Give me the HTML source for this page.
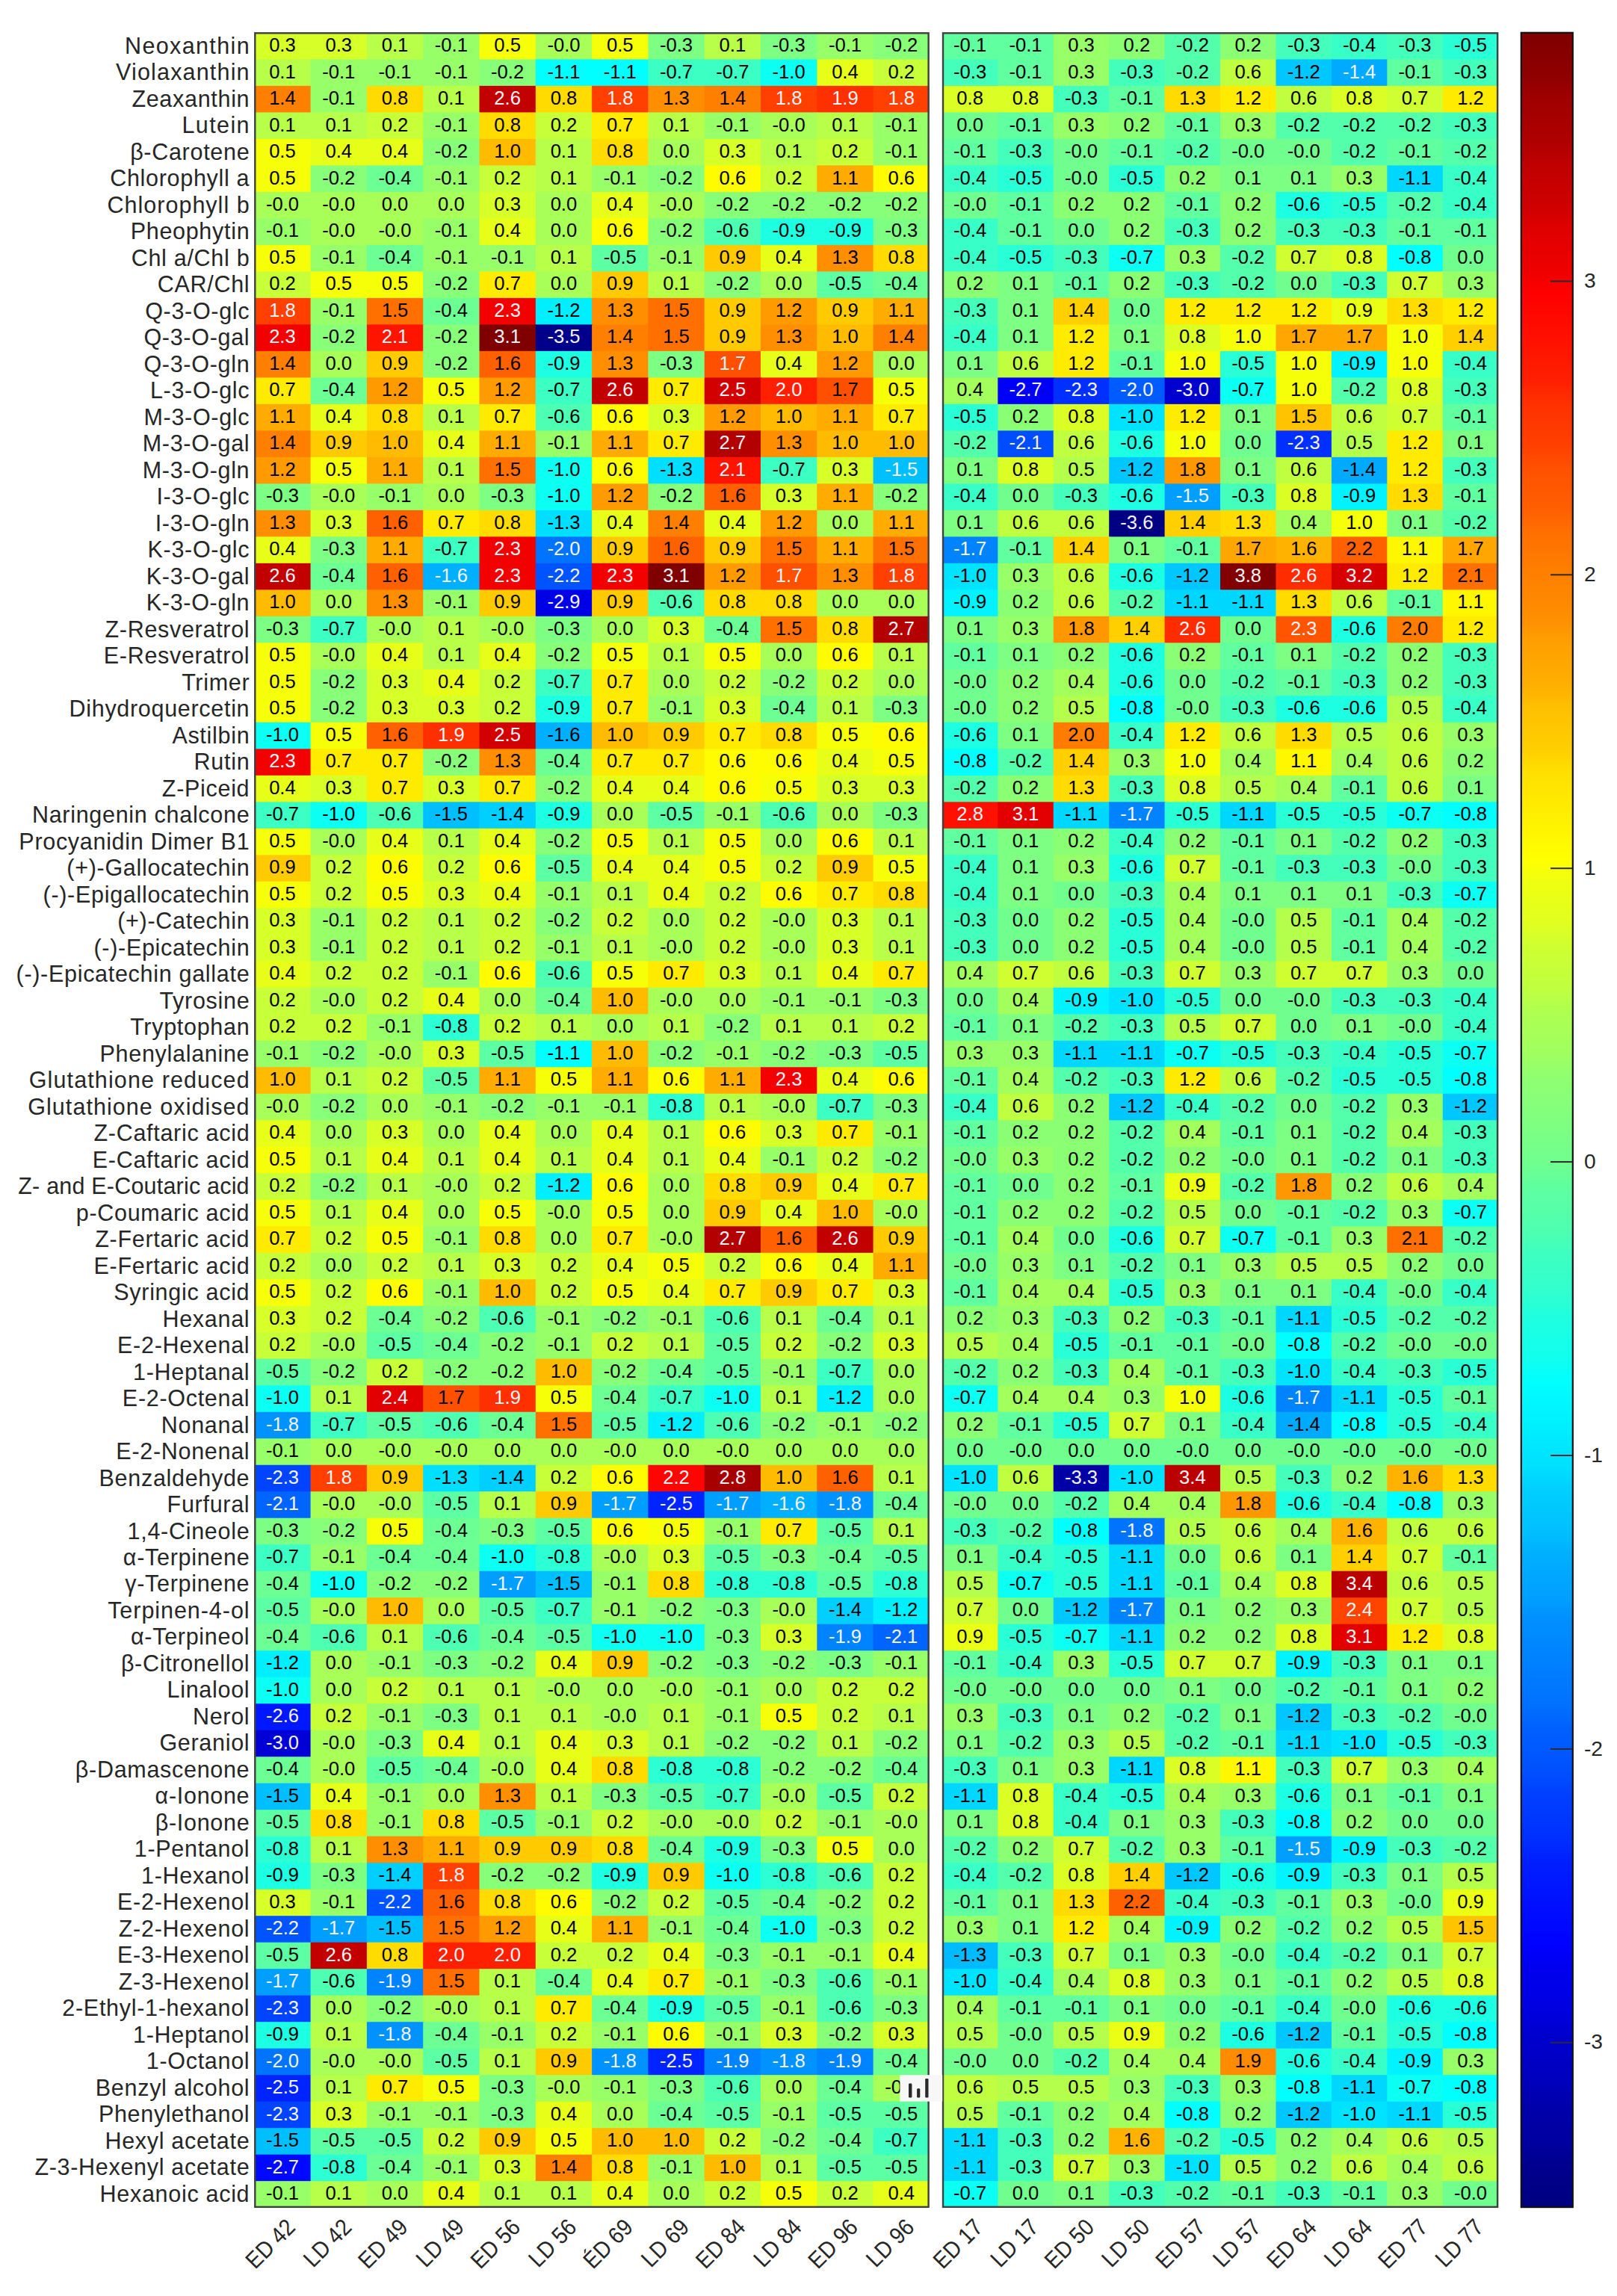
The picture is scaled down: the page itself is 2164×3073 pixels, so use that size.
<!DOCTYPE html>
<html lang="en"><head><meta charset="utf-8"><title>Heatmap</title>
<style>
html,body{margin:0;padding:0;background:#fff}
svg{display:block}
text{font-family:"Liberation Sans",sans-serif}
.c text{font-size:25.6px;text-anchor:middle;fill:#000}
.c text.w{fill:#f4f4f8}
.yl text{font-size:30.5px;text-anchor:end;fill:#262626;letter-spacing:0.7px}
.xl text{font-size:31.3px;text-anchor:end;fill:#262626}
.tl text{font-size:28.2px;fill:#262626}
</style></head>
<body>
<svg width="2164" height="3073" viewBox="0 0 2164 3073">
<rect width="2164" height="3073" fill="#fff"/>
<defs><clipPath id="cl"><rect x="340.3" y="43.9" width="903.3" height="2910.75"/><rect x="1260.9" y="43.9" width="744.3" height="2910.75"/></clipPath></defs>
<g clip-path="url(#cl)">
<g transform="translate(0,43.9)"><rect x="340.3" width="76.5" height="36.7" fill="#d7ff28"/><rect x="415.6" width="76.5" height="36.7" fill="#d7ff28"/><rect x="490.9" width="76.5" height="36.7" fill="#b7ff48"/><rect x="566.2" width="76.5" height="36.7" fill="#97ff68"/><rect x="641.5" width="76.5" height="36.7" fill="#f7ff08"/><rect x="716.8" width="76.5" height="36.7" fill="#a7ff58"/><rect x="792.1" width="76.5" height="36.7" fill="#f7ff08"/><rect x="867.4" width="76.5" height="36.7" fill="#7cff83"/><rect x="942.7" width="76.5" height="36.7" fill="#b7ff48"/><rect x="1018" width="76.5" height="36.7" fill="#7cff83"/><rect x="1093.3" width="76.5" height="36.7" fill="#97ff68"/><rect x="1168.6" width="76.5" height="36.7" fill="#87ff78"/><rect x="1260.9" width="75.63" height="36.7" fill="#60ff9f"/><rect x="1335.33" width="75.63" height="36.7" fill="#60ff9f"/><rect x="1409.76" width="75.63" height="36.7" fill="#97ff68"/><rect x="1484.19" width="75.63" height="36.7" fill="#8bff74"/><rect x="1558.62" width="75.63" height="36.7" fill="#54ffab"/><rect x="1633.05" width="75.63" height="36.7" fill="#8bff74"/><rect x="1707.48" width="75.63" height="36.7" fill="#44ffbb"/><rect x="1781.91" width="75.63" height="36.7" fill="#38ffc7"/><rect x="1856.34" width="75.63" height="36.7" fill="#44ffbb"/><rect x="1930.77" width="75.63" height="36.7" fill="#28ffd7"/></g>
<g transform="translate(0,79.4)"><rect x="340.3" width="76.5" height="36.7" fill="#b7ff48"/><rect x="415.6" width="76.5" height="36.7" fill="#97ff68"/><rect x="490.9" width="76.5" height="36.7" fill="#97ff68"/><rect x="566.2" width="76.5" height="36.7" fill="#97ff68"/><rect x="641.5" width="76.5" height="36.7" fill="#87ff78"/><rect x="716.8" width="76.5" height="36.7" fill="#00ffff"/><rect x="792.1" width="76.5" height="36.7" fill="#00ffff"/><rect x="867.4" width="76.5" height="36.7" fill="#3cffc3"/><rect x="942.7" width="76.5" height="36.7" fill="#3cffc3"/><rect x="1018" width="76.5" height="36.7" fill="#0cfff3"/><rect x="1093.3" width="76.5" height="36.7" fill="#e7ff18"/><rect x="1168.6" width="76.5" height="36.7" fill="#c7ff38"/><rect x="1260.9" width="75.63" height="36.7" fill="#44ffbb"/><rect x="1335.33" width="75.63" height="36.7" fill="#60ff9f"/><rect x="1409.76" width="75.63" height="36.7" fill="#97ff68"/><rect x="1484.19" width="75.63" height="36.7" fill="#44ffbb"/><rect x="1558.62" width="75.63" height="36.7" fill="#54ffab"/><rect x="1633.05" width="75.63" height="36.7" fill="#bfff40"/><rect x="1707.48" width="75.63" height="36.7" fill="#00c7ff"/><rect x="1781.91" width="75.63" height="36.7" fill="#00abff"/><rect x="1856.34" width="75.63" height="36.7" fill="#60ff9f"/><rect x="1930.77" width="75.63" height="36.7" fill="#44ffbb"/></g>
<g transform="translate(0,114.89)"><rect x="340.3" width="76.5" height="36.7" fill="#ff8000"/><rect x="415.6" width="76.5" height="36.7" fill="#97ff68"/><rect x="490.9" width="76.5" height="36.7" fill="#ffdb00"/><rect x="566.2" width="76.5" height="36.7" fill="#b7ff48"/><rect x="641.5" width="76.5" height="36.7" fill="#c30000"/><rect x="716.8" width="76.5" height="36.7" fill="#ffdb00"/><rect x="792.1" width="76.5" height="36.7" fill="#ff4000"/><rect x="867.4" width="76.5" height="36.7" fill="#ff8f00"/><rect x="942.7" width="76.5" height="36.7" fill="#ff8000"/><rect x="1018" width="76.5" height="36.7" fill="#ff4000"/><rect x="1093.3" width="76.5" height="36.7" fill="#ff3000"/><rect x="1168.6" width="76.5" height="36.7" fill="#ff4000"/><rect x="1260.9" width="75.63" height="36.7" fill="#dbff24"/><rect x="1335.33" width="75.63" height="36.7" fill="#dbff24"/><rect x="1409.76" width="75.63" height="36.7" fill="#44ffbb"/><rect x="1484.19" width="75.63" height="36.7" fill="#60ff9f"/><rect x="1558.62" width="75.63" height="36.7" fill="#ffdb00"/><rect x="1633.05" width="75.63" height="36.7" fill="#ffeb00"/><rect x="1707.48" width="75.63" height="36.7" fill="#bfff40"/><rect x="1781.91" width="75.63" height="36.7" fill="#dbff24"/><rect x="1856.34" width="75.63" height="36.7" fill="#cfff30"/><rect x="1930.77" width="75.63" height="36.7" fill="#ffeb00"/></g>
<g transform="translate(0,150.39)"><rect x="340.3" width="76.5" height="36.7" fill="#b7ff48"/><rect x="415.6" width="76.5" height="36.7" fill="#b7ff48"/><rect x="490.9" width="76.5" height="36.7" fill="#c7ff38"/><rect x="566.2" width="76.5" height="36.7" fill="#97ff68"/><rect x="641.5" width="76.5" height="36.7" fill="#ffdb00"/><rect x="716.8" width="76.5" height="36.7" fill="#c7ff38"/><rect x="792.1" width="76.5" height="36.7" fill="#ffeb00"/><rect x="867.4" width="76.5" height="36.7" fill="#b7ff48"/><rect x="942.7" width="76.5" height="36.7" fill="#97ff68"/><rect x="1018" width="76.5" height="36.7" fill="#a7ff58"/><rect x="1093.3" width="76.5" height="36.7" fill="#b7ff48"/><rect x="1168.6" width="76.5" height="36.7" fill="#97ff68"/><rect x="1260.9" width="75.63" height="36.7" fill="#70ff8f"/><rect x="1335.33" width="75.63" height="36.7" fill="#60ff9f"/><rect x="1409.76" width="75.63" height="36.7" fill="#97ff68"/><rect x="1484.19" width="75.63" height="36.7" fill="#8bff74"/><rect x="1558.62" width="75.63" height="36.7" fill="#60ff9f"/><rect x="1633.05" width="75.63" height="36.7" fill="#97ff68"/><rect x="1707.48" width="75.63" height="36.7" fill="#54ffab"/><rect x="1781.91" width="75.63" height="36.7" fill="#54ffab"/><rect x="1856.34" width="75.63" height="36.7" fill="#54ffab"/><rect x="1930.77" width="75.63" height="36.7" fill="#44ffbb"/></g>
<g transform="translate(0,185.89)"><rect x="340.3" width="76.5" height="36.7" fill="#f7ff08"/><rect x="415.6" width="76.5" height="36.7" fill="#e7ff18"/><rect x="490.9" width="76.5" height="36.7" fill="#e7ff18"/><rect x="566.2" width="76.5" height="36.7" fill="#87ff78"/><rect x="641.5" width="76.5" height="36.7" fill="#ffbb00"/><rect x="716.8" width="76.5" height="36.7" fill="#b7ff48"/><rect x="792.1" width="76.5" height="36.7" fill="#ffdb00"/><rect x="867.4" width="76.5" height="36.7" fill="#a7ff58"/><rect x="942.7" width="76.5" height="36.7" fill="#d7ff28"/><rect x="1018" width="76.5" height="36.7" fill="#b7ff48"/><rect x="1093.3" width="76.5" height="36.7" fill="#c7ff38"/><rect x="1168.6" width="76.5" height="36.7" fill="#97ff68"/><rect x="1260.9" width="75.63" height="36.7" fill="#60ff9f"/><rect x="1335.33" width="75.63" height="36.7" fill="#44ffbb"/><rect x="1409.76" width="75.63" height="36.7" fill="#70ff8f"/><rect x="1484.19" width="75.63" height="36.7" fill="#60ff9f"/><rect x="1558.62" width="75.63" height="36.7" fill="#54ffab"/><rect x="1633.05" width="75.63" height="36.7" fill="#70ff8f"/><rect x="1707.48" width="75.63" height="36.7" fill="#70ff8f"/><rect x="1781.91" width="75.63" height="36.7" fill="#54ffab"/><rect x="1856.34" width="75.63" height="36.7" fill="#60ff9f"/><rect x="1930.77" width="75.63" height="36.7" fill="#54ffab"/></g>
<g transform="translate(0,221.39)"><rect x="340.3" width="76.5" height="36.7" fill="#f7ff08"/><rect x="415.6" width="76.5" height="36.7" fill="#87ff78"/><rect x="490.9" width="76.5" height="36.7" fill="#6cff93"/><rect x="566.2" width="76.5" height="36.7" fill="#97ff68"/><rect x="641.5" width="76.5" height="36.7" fill="#c7ff38"/><rect x="716.8" width="76.5" height="36.7" fill="#b7ff48"/><rect x="792.1" width="76.5" height="36.7" fill="#97ff68"/><rect x="867.4" width="76.5" height="36.7" fill="#87ff78"/><rect x="942.7" width="76.5" height="36.7" fill="#fffb00"/><rect x="1018" width="76.5" height="36.7" fill="#c7ff38"/><rect x="1093.3" width="76.5" height="36.7" fill="#ffab00"/><rect x="1168.6" width="76.5" height="36.7" fill="#fffb00"/><rect x="1260.9" width="75.63" height="36.7" fill="#38ffc7"/><rect x="1335.33" width="75.63" height="36.7" fill="#28ffd7"/><rect x="1409.76" width="75.63" height="36.7" fill="#70ff8f"/><rect x="1484.19" width="75.63" height="36.7" fill="#28ffd7"/><rect x="1558.62" width="75.63" height="36.7" fill="#8bff74"/><rect x="1633.05" width="75.63" height="36.7" fill="#7cff83"/><rect x="1707.48" width="75.63" height="36.7" fill="#7cff83"/><rect x="1781.91" width="75.63" height="36.7" fill="#97ff68"/><rect x="1856.34" width="75.63" height="36.7" fill="#00d7ff"/><rect x="1930.77" width="75.63" height="36.7" fill="#38ffc7"/></g>
<g transform="translate(0,256.88)"><rect x="340.3" width="76.5" height="36.7" fill="#a7ff58"/><rect x="415.6" width="76.5" height="36.7" fill="#a7ff58"/><rect x="490.9" width="76.5" height="36.7" fill="#a7ff58"/><rect x="566.2" width="76.5" height="36.7" fill="#a7ff58"/><rect x="641.5" width="76.5" height="36.7" fill="#d7ff28"/><rect x="716.8" width="76.5" height="36.7" fill="#a7ff58"/><rect x="792.1" width="76.5" height="36.7" fill="#e7ff18"/><rect x="867.4" width="76.5" height="36.7" fill="#a7ff58"/><rect x="942.7" width="76.5" height="36.7" fill="#87ff78"/><rect x="1018" width="76.5" height="36.7" fill="#87ff78"/><rect x="1093.3" width="76.5" height="36.7" fill="#87ff78"/><rect x="1168.6" width="76.5" height="36.7" fill="#87ff78"/><rect x="1260.9" width="75.63" height="36.7" fill="#70ff8f"/><rect x="1335.33" width="75.63" height="36.7" fill="#60ff9f"/><rect x="1409.76" width="75.63" height="36.7" fill="#8bff74"/><rect x="1484.19" width="75.63" height="36.7" fill="#8bff74"/><rect x="1558.62" width="75.63" height="36.7" fill="#60ff9f"/><rect x="1633.05" width="75.63" height="36.7" fill="#8bff74"/><rect x="1707.48" width="75.63" height="36.7" fill="#1cffe3"/><rect x="1781.91" width="75.63" height="36.7" fill="#28ffd7"/><rect x="1856.34" width="75.63" height="36.7" fill="#54ffab"/><rect x="1930.77" width="75.63" height="36.7" fill="#38ffc7"/></g>
<g transform="translate(0,292.38)"><rect x="340.3" width="76.5" height="36.7" fill="#97ff68"/><rect x="415.6" width="76.5" height="36.7" fill="#a7ff58"/><rect x="490.9" width="76.5" height="36.7" fill="#a7ff58"/><rect x="566.2" width="76.5" height="36.7" fill="#97ff68"/><rect x="641.5" width="76.5" height="36.7" fill="#e7ff18"/><rect x="716.8" width="76.5" height="36.7" fill="#a7ff58"/><rect x="792.1" width="76.5" height="36.7" fill="#fffb00"/><rect x="867.4" width="76.5" height="36.7" fill="#87ff78"/><rect x="942.7" width="76.5" height="36.7" fill="#4cffb3"/><rect x="1018" width="76.5" height="36.7" fill="#1cffe3"/><rect x="1093.3" width="76.5" height="36.7" fill="#1cffe3"/><rect x="1168.6" width="76.5" height="36.7" fill="#7cff83"/><rect x="1260.9" width="75.63" height="36.7" fill="#38ffc7"/><rect x="1335.33" width="75.63" height="36.7" fill="#60ff9f"/><rect x="1409.76" width="75.63" height="36.7" fill="#70ff8f"/><rect x="1484.19" width="75.63" height="36.7" fill="#8bff74"/><rect x="1558.62" width="75.63" height="36.7" fill="#44ffbb"/><rect x="1633.05" width="75.63" height="36.7" fill="#8bff74"/><rect x="1707.48" width="75.63" height="36.7" fill="#44ffbb"/><rect x="1781.91" width="75.63" height="36.7" fill="#44ffbb"/><rect x="1856.34" width="75.63" height="36.7" fill="#60ff9f"/><rect x="1930.77" width="75.63" height="36.7" fill="#60ff9f"/></g>
<g transform="translate(0,327.88)"><rect x="340.3" width="76.5" height="36.7" fill="#f7ff08"/><rect x="415.6" width="76.5" height="36.7" fill="#97ff68"/><rect x="490.9" width="76.5" height="36.7" fill="#6cff93"/><rect x="566.2" width="76.5" height="36.7" fill="#97ff68"/><rect x="641.5" width="76.5" height="36.7" fill="#97ff68"/><rect x="716.8" width="76.5" height="36.7" fill="#b7ff48"/><rect x="792.1" width="76.5" height="36.7" fill="#5cffa3"/><rect x="867.4" width="76.5" height="36.7" fill="#97ff68"/><rect x="942.7" width="76.5" height="36.7" fill="#ffcb00"/><rect x="1018" width="76.5" height="36.7" fill="#e7ff18"/><rect x="1093.3" width="76.5" height="36.7" fill="#ff8f00"/><rect x="1168.6" width="76.5" height="36.7" fill="#ffdb00"/><rect x="1260.9" width="75.63" height="36.7" fill="#38ffc7"/><rect x="1335.33" width="75.63" height="36.7" fill="#28ffd7"/><rect x="1409.76" width="75.63" height="36.7" fill="#44ffbb"/><rect x="1484.19" width="75.63" height="36.7" fill="#0cfff3"/><rect x="1558.62" width="75.63" height="36.7" fill="#97ff68"/><rect x="1633.05" width="75.63" height="36.7" fill="#54ffab"/><rect x="1707.48" width="75.63" height="36.7" fill="#cfff30"/><rect x="1781.91" width="75.63" height="36.7" fill="#dbff24"/><rect x="1856.34" width="75.63" height="36.7" fill="#00ffff"/><rect x="1930.77" width="75.63" height="36.7" fill="#70ff8f"/></g>
<g transform="translate(0,363.37)"><rect x="340.3" width="76.5" height="36.7" fill="#c7ff38"/><rect x="415.6" width="76.5" height="36.7" fill="#f7ff08"/><rect x="490.9" width="76.5" height="36.7" fill="#f7ff08"/><rect x="566.2" width="76.5" height="36.7" fill="#87ff78"/><rect x="641.5" width="76.5" height="36.7" fill="#ffeb00"/><rect x="716.8" width="76.5" height="36.7" fill="#a7ff58"/><rect x="792.1" width="76.5" height="36.7" fill="#ffcb00"/><rect x="867.4" width="76.5" height="36.7" fill="#b7ff48"/><rect x="942.7" width="76.5" height="36.7" fill="#87ff78"/><rect x="1018" width="76.5" height="36.7" fill="#a7ff58"/><rect x="1093.3" width="76.5" height="36.7" fill="#5cffa3"/><rect x="1168.6" width="76.5" height="36.7" fill="#6cff93"/><rect x="1260.9" width="75.63" height="36.7" fill="#8bff74"/><rect x="1335.33" width="75.63" height="36.7" fill="#7cff83"/><rect x="1409.76" width="75.63" height="36.7" fill="#60ff9f"/><rect x="1484.19" width="75.63" height="36.7" fill="#8bff74"/><rect x="1558.62" width="75.63" height="36.7" fill="#44ffbb"/><rect x="1633.05" width="75.63" height="36.7" fill="#54ffab"/><rect x="1707.48" width="75.63" height="36.7" fill="#70ff8f"/><rect x="1781.91" width="75.63" height="36.7" fill="#44ffbb"/><rect x="1856.34" width="75.63" height="36.7" fill="#cfff30"/><rect x="1930.77" width="75.63" height="36.7" fill="#97ff68"/></g>
<g transform="translate(0,398.87)"><rect x="340.3" width="76.5" height="36.7" fill="#ff4000"/><rect x="415.6" width="76.5" height="36.7" fill="#97ff68"/><rect x="490.9" width="76.5" height="36.7" fill="#ff7000"/><rect x="566.2" width="76.5" height="36.7" fill="#6cff93"/><rect x="641.5" width="76.5" height="36.7" fill="#f30000"/><rect x="716.8" width="76.5" height="36.7" fill="#00efff"/><rect x="792.1" width="76.5" height="36.7" fill="#ff8f00"/><rect x="867.4" width="76.5" height="36.7" fill="#ff7000"/><rect x="942.7" width="76.5" height="36.7" fill="#ffcb00"/><rect x="1018" width="76.5" height="36.7" fill="#ff9b00"/><rect x="1093.3" width="76.5" height="36.7" fill="#ffcb00"/><rect x="1168.6" width="76.5" height="36.7" fill="#ffab00"/><rect x="1260.9" width="75.63" height="36.7" fill="#44ffbb"/><rect x="1335.33" width="75.63" height="36.7" fill="#7cff83"/><rect x="1409.76" width="75.63" height="36.7" fill="#ffcf00"/><rect x="1484.19" width="75.63" height="36.7" fill="#70ff8f"/><rect x="1558.62" width="75.63" height="36.7" fill="#ffeb00"/><rect x="1633.05" width="75.63" height="36.7" fill="#ffeb00"/><rect x="1707.48" width="75.63" height="36.7" fill="#ffeb00"/><rect x="1781.91" width="75.63" height="36.7" fill="#ebff14"/><rect x="1856.34" width="75.63" height="36.7" fill="#ffdb00"/><rect x="1930.77" width="75.63" height="36.7" fill="#ffeb00"/></g>
<g transform="translate(0,434.37)"><rect x="340.3" width="76.5" height="36.7" fill="#f30000"/><rect x="415.6" width="76.5" height="36.7" fill="#87ff78"/><rect x="490.9" width="76.5" height="36.7" fill="#ff1400"/><rect x="566.2" width="76.5" height="36.7" fill="#87ff78"/><rect x="641.5" width="76.5" height="36.7" fill="#800000"/><rect x="716.8" width="76.5" height="36.7" fill="#00008b"/><rect x="792.1" width="76.5" height="36.7" fill="#ff8000"/><rect x="867.4" width="76.5" height="36.7" fill="#ff7000"/><rect x="942.7" width="76.5" height="36.7" fill="#ffcb00"/><rect x="1018" width="76.5" height="36.7" fill="#ff8f00"/><rect x="1093.3" width="76.5" height="36.7" fill="#ffbb00"/><rect x="1168.6" width="76.5" height="36.7" fill="#ff8000"/><rect x="1260.9" width="75.63" height="36.7" fill="#38ffc7"/><rect x="1335.33" width="75.63" height="36.7" fill="#7cff83"/><rect x="1409.76" width="75.63" height="36.7" fill="#ffeb00"/><rect x="1484.19" width="75.63" height="36.7" fill="#7cff83"/><rect x="1558.62" width="75.63" height="36.7" fill="#dbff24"/><rect x="1633.05" width="75.63" height="36.7" fill="#f7ff08"/><rect x="1707.48" width="75.63" height="36.7" fill="#ffa700"/><rect x="1781.91" width="75.63" height="36.7" fill="#ffa700"/><rect x="1856.34" width="75.63" height="36.7" fill="#f7ff08"/><rect x="1930.77" width="75.63" height="36.7" fill="#ffcf00"/></g>
<g transform="translate(0,469.86)"><rect x="340.3" width="76.5" height="36.7" fill="#ff8000"/><rect x="415.6" width="76.5" height="36.7" fill="#a7ff58"/><rect x="490.9" width="76.5" height="36.7" fill="#ffcb00"/><rect x="566.2" width="76.5" height="36.7" fill="#87ff78"/><rect x="641.5" width="76.5" height="36.7" fill="#ff6000"/><rect x="716.8" width="76.5" height="36.7" fill="#1cffe3"/><rect x="792.1" width="76.5" height="36.7" fill="#ff8f00"/><rect x="867.4" width="76.5" height="36.7" fill="#7cff83"/><rect x="942.7" width="76.5" height="36.7" fill="#ff5000"/><rect x="1018" width="76.5" height="36.7" fill="#e7ff18"/><rect x="1093.3" width="76.5" height="36.7" fill="#ff9b00"/><rect x="1168.6" width="76.5" height="36.7" fill="#a7ff58"/><rect x="1260.9" width="75.63" height="36.7" fill="#7cff83"/><rect x="1335.33" width="75.63" height="36.7" fill="#bfff40"/><rect x="1409.76" width="75.63" height="36.7" fill="#ffeb00"/><rect x="1484.19" width="75.63" height="36.7" fill="#60ff9f"/><rect x="1558.62" width="75.63" height="36.7" fill="#f7ff08"/><rect x="1633.05" width="75.63" height="36.7" fill="#28ffd7"/><rect x="1707.48" width="75.63" height="36.7" fill="#f7ff08"/><rect x="1781.91" width="75.63" height="36.7" fill="#00f3ff"/><rect x="1856.34" width="75.63" height="36.7" fill="#f7ff08"/><rect x="1930.77" width="75.63" height="36.7" fill="#38ffc7"/></g>
<g transform="translate(0,505.36)"><rect x="340.3" width="76.5" height="36.7" fill="#ffeb00"/><rect x="415.6" width="76.5" height="36.7" fill="#6cff93"/><rect x="490.9" width="76.5" height="36.7" fill="#ff9b00"/><rect x="566.2" width="76.5" height="36.7" fill="#f7ff08"/><rect x="641.5" width="76.5" height="36.7" fill="#ff9b00"/><rect x="716.8" width="76.5" height="36.7" fill="#3cffc3"/><rect x="792.1" width="76.5" height="36.7" fill="#c30000"/><rect x="867.4" width="76.5" height="36.7" fill="#ffeb00"/><rect x="942.7" width="76.5" height="36.7" fill="#d30000"/><rect x="1018" width="76.5" height="36.7" fill="#ff2000"/><rect x="1093.3" width="76.5" height="36.7" fill="#ff5000"/><rect x="1168.6" width="76.5" height="36.7" fill="#f7ff08"/><rect x="1260.9" width="75.63" height="36.7" fill="#a3ff5c"/><rect x="1335.33" width="75.63" height="36.7" fill="#0000f7"/><rect x="1409.76" width="75.63" height="36.7" fill="#0030ff"/><rect x="1484.19" width="75.63" height="36.7" fill="#005cff"/><rect x="1558.62" width="75.63" height="36.7" fill="#0000cf"/><rect x="1633.05" width="75.63" height="36.7" fill="#0cfff3"/><rect x="1707.48" width="75.63" height="36.7" fill="#f7ff08"/><rect x="1781.91" width="75.63" height="36.7" fill="#54ffab"/><rect x="1856.34" width="75.63" height="36.7" fill="#dbff24"/><rect x="1930.77" width="75.63" height="36.7" fill="#44ffbb"/></g>
<g transform="translate(0,540.86)"><rect x="340.3" width="76.5" height="36.7" fill="#ffab00"/><rect x="415.6" width="76.5" height="36.7" fill="#e7ff18"/><rect x="490.9" width="76.5" height="36.7" fill="#ffdb00"/><rect x="566.2" width="76.5" height="36.7" fill="#b7ff48"/><rect x="641.5" width="76.5" height="36.7" fill="#ffeb00"/><rect x="716.8" width="76.5" height="36.7" fill="#4cffb3"/><rect x="792.1" width="76.5" height="36.7" fill="#fffb00"/><rect x="867.4" width="76.5" height="36.7" fill="#d7ff28"/><rect x="942.7" width="76.5" height="36.7" fill="#ff9b00"/><rect x="1018" width="76.5" height="36.7" fill="#ffbb00"/><rect x="1093.3" width="76.5" height="36.7" fill="#ffab00"/><rect x="1168.6" width="76.5" height="36.7" fill="#ffeb00"/><rect x="1260.9" width="75.63" height="36.7" fill="#28ffd7"/><rect x="1335.33" width="75.63" height="36.7" fill="#8bff74"/><rect x="1409.76" width="75.63" height="36.7" fill="#dbff24"/><rect x="1484.19" width="75.63" height="36.7" fill="#00e3ff"/><rect x="1558.62" width="75.63" height="36.7" fill="#ffeb00"/><rect x="1633.05" width="75.63" height="36.7" fill="#7cff83"/><rect x="1707.48" width="75.63" height="36.7" fill="#ffc300"/><rect x="1781.91" width="75.63" height="36.7" fill="#bfff40"/><rect x="1856.34" width="75.63" height="36.7" fill="#cfff30"/><rect x="1930.77" width="75.63" height="36.7" fill="#60ff9f"/></g>
<g transform="translate(0,576.36)"><rect x="340.3" width="76.5" height="36.7" fill="#ff8000"/><rect x="415.6" width="76.5" height="36.7" fill="#ffcb00"/><rect x="490.9" width="76.5" height="36.7" fill="#ffbb00"/><rect x="566.2" width="76.5" height="36.7" fill="#e7ff18"/><rect x="641.5" width="76.5" height="36.7" fill="#ffab00"/><rect x="716.8" width="76.5" height="36.7" fill="#97ff68"/><rect x="792.1" width="76.5" height="36.7" fill="#ffab00"/><rect x="867.4" width="76.5" height="36.7" fill="#ffeb00"/><rect x="942.7" width="76.5" height="36.7" fill="#b30000"/><rect x="1018" width="76.5" height="36.7" fill="#ff8f00"/><rect x="1093.3" width="76.5" height="36.7" fill="#ffbb00"/><rect x="1168.6" width="76.5" height="36.7" fill="#ffbb00"/><rect x="1260.9" width="75.63" height="36.7" fill="#54ffab"/><rect x="1335.33" width="75.63" height="36.7" fill="#004cff"/><rect x="1409.76" width="75.63" height="36.7" fill="#bfff40"/><rect x="1484.19" width="75.63" height="36.7" fill="#1cffe3"/><rect x="1558.62" width="75.63" height="36.7" fill="#f7ff08"/><rect x="1633.05" width="75.63" height="36.7" fill="#70ff8f"/><rect x="1707.48" width="75.63" height="36.7" fill="#0030ff"/><rect x="1781.91" width="75.63" height="36.7" fill="#b3ff4c"/><rect x="1856.34" width="75.63" height="36.7" fill="#ffeb00"/><rect x="1930.77" width="75.63" height="36.7" fill="#7cff83"/></g>
<g transform="translate(0,611.85)"><rect x="340.3" width="76.5" height="36.7" fill="#ff9b00"/><rect x="415.6" width="76.5" height="36.7" fill="#f7ff08"/><rect x="490.9" width="76.5" height="36.7" fill="#ffab00"/><rect x="566.2" width="76.5" height="36.7" fill="#b7ff48"/><rect x="641.5" width="76.5" height="36.7" fill="#ff7000"/><rect x="716.8" width="76.5" height="36.7" fill="#0cfff3"/><rect x="792.1" width="76.5" height="36.7" fill="#fffb00"/><rect x="867.4" width="76.5" height="36.7" fill="#00dfff"/><rect x="942.7" width="76.5" height="36.7" fill="#ff1400"/><rect x="1018" width="76.5" height="36.7" fill="#3cffc3"/><rect x="1093.3" width="76.5" height="36.7" fill="#d7ff28"/><rect x="1168.6" width="76.5" height="36.7" fill="#00bfff"/><rect x="1260.9" width="75.63" height="36.7" fill="#7cff83"/><rect x="1335.33" width="75.63" height="36.7" fill="#dbff24"/><rect x="1409.76" width="75.63" height="36.7" fill="#b3ff4c"/><rect x="1484.19" width="75.63" height="36.7" fill="#00c7ff"/><rect x="1558.62" width="75.63" height="36.7" fill="#ff9700"/><rect x="1633.05" width="75.63" height="36.7" fill="#7cff83"/><rect x="1707.48" width="75.63" height="36.7" fill="#bfff40"/><rect x="1781.91" width="75.63" height="36.7" fill="#00abff"/><rect x="1856.34" width="75.63" height="36.7" fill="#ffeb00"/><rect x="1930.77" width="75.63" height="36.7" fill="#44ffbb"/></g>
<g transform="translate(0,647.35)"><rect x="340.3" width="76.5" height="36.7" fill="#7cff83"/><rect x="415.6" width="76.5" height="36.7" fill="#a7ff58"/><rect x="490.9" width="76.5" height="36.7" fill="#97ff68"/><rect x="566.2" width="76.5" height="36.7" fill="#a7ff58"/><rect x="641.5" width="76.5" height="36.7" fill="#7cff83"/><rect x="716.8" width="76.5" height="36.7" fill="#0cfff3"/><rect x="792.1" width="76.5" height="36.7" fill="#ff9b00"/><rect x="867.4" width="76.5" height="36.7" fill="#87ff78"/><rect x="942.7" width="76.5" height="36.7" fill="#ff6000"/><rect x="1018" width="76.5" height="36.7" fill="#d7ff28"/><rect x="1093.3" width="76.5" height="36.7" fill="#ffab00"/><rect x="1168.6" width="76.5" height="36.7" fill="#87ff78"/><rect x="1260.9" width="75.63" height="36.7" fill="#38ffc7"/><rect x="1335.33" width="75.63" height="36.7" fill="#70ff8f"/><rect x="1409.76" width="75.63" height="36.7" fill="#44ffbb"/><rect x="1484.19" width="75.63" height="36.7" fill="#1cffe3"/><rect x="1558.62" width="75.63" height="36.7" fill="#009fff"/><rect x="1633.05" width="75.63" height="36.7" fill="#44ffbb"/><rect x="1707.48" width="75.63" height="36.7" fill="#dbff24"/><rect x="1781.91" width="75.63" height="36.7" fill="#00f3ff"/><rect x="1856.34" width="75.63" height="36.7" fill="#ffdb00"/><rect x="1930.77" width="75.63" height="36.7" fill="#60ff9f"/></g>
<g transform="translate(0,682.85)"><rect x="340.3" width="76.5" height="36.7" fill="#ff8f00"/><rect x="415.6" width="76.5" height="36.7" fill="#d7ff28"/><rect x="490.9" width="76.5" height="36.7" fill="#ff6000"/><rect x="566.2" width="76.5" height="36.7" fill="#ffeb00"/><rect x="641.5" width="76.5" height="36.7" fill="#ffdb00"/><rect x="716.8" width="76.5" height="36.7" fill="#00dfff"/><rect x="792.1" width="76.5" height="36.7" fill="#e7ff18"/><rect x="867.4" width="76.5" height="36.7" fill="#ff8000"/><rect x="942.7" width="76.5" height="36.7" fill="#e7ff18"/><rect x="1018" width="76.5" height="36.7" fill="#ff9b00"/><rect x="1093.3" width="76.5" height="36.7" fill="#a7ff58"/><rect x="1168.6" width="76.5" height="36.7" fill="#ffab00"/><rect x="1260.9" width="75.63" height="36.7" fill="#7cff83"/><rect x="1335.33" width="75.63" height="36.7" fill="#bfff40"/><rect x="1409.76" width="75.63" height="36.7" fill="#bfff40"/><rect x="1484.19" width="75.63" height="36.7" fill="#000083"/><rect x="1558.62" width="75.63" height="36.7" fill="#ffcf00"/><rect x="1633.05" width="75.63" height="36.7" fill="#ffdb00"/><rect x="1707.48" width="75.63" height="36.7" fill="#a3ff5c"/><rect x="1781.91" width="75.63" height="36.7" fill="#f7ff08"/><rect x="1856.34" width="75.63" height="36.7" fill="#7cff83"/><rect x="1930.77" width="75.63" height="36.7" fill="#54ffab"/></g>
<g transform="translate(0,718.34)"><rect x="340.3" width="76.5" height="36.7" fill="#e7ff18"/><rect x="415.6" width="76.5" height="36.7" fill="#7cff83"/><rect x="490.9" width="76.5" height="36.7" fill="#ffab00"/><rect x="566.2" width="76.5" height="36.7" fill="#3cffc3"/><rect x="641.5" width="76.5" height="36.7" fill="#f30000"/><rect x="716.8" width="76.5" height="36.7" fill="#0074ff"/><rect x="792.1" width="76.5" height="36.7" fill="#ffcb00"/><rect x="867.4" width="76.5" height="36.7" fill="#ff6000"/><rect x="942.7" width="76.5" height="36.7" fill="#ffcb00"/><rect x="1018" width="76.5" height="36.7" fill="#ff7000"/><rect x="1093.3" width="76.5" height="36.7" fill="#ffab00"/><rect x="1168.6" width="76.5" height="36.7" fill="#ff7000"/><rect x="1260.9" width="75.63" height="36.7" fill="#0083ff"/><rect x="1335.33" width="75.63" height="36.7" fill="#60ff9f"/><rect x="1409.76" width="75.63" height="36.7" fill="#ffcf00"/><rect x="1484.19" width="75.63" height="36.7" fill="#7cff83"/><rect x="1558.62" width="75.63" height="36.7" fill="#60ff9f"/><rect x="1633.05" width="75.63" height="36.7" fill="#ffa700"/><rect x="1707.48" width="75.63" height="36.7" fill="#ffb300"/><rect x="1781.91" width="75.63" height="36.7" fill="#ff6000"/><rect x="1856.34" width="75.63" height="36.7" fill="#fff700"/><rect x="1930.77" width="75.63" height="36.7" fill="#ffa700"/></g>
<g transform="translate(0,753.84)"><rect x="340.3" width="76.5" height="36.7" fill="#c30000"/><rect x="415.6" width="76.5" height="36.7" fill="#6cff93"/><rect x="490.9" width="76.5" height="36.7" fill="#ff6000"/><rect x="566.2" width="76.5" height="36.7" fill="#00afff"/><rect x="641.5" width="76.5" height="36.7" fill="#f30000"/><rect x="716.8" width="76.5" height="36.7" fill="#0054ff"/><rect x="792.1" width="76.5" height="36.7" fill="#f30000"/><rect x="867.4" width="76.5" height="36.7" fill="#800000"/><rect x="942.7" width="76.5" height="36.7" fill="#ff9b00"/><rect x="1018" width="76.5" height="36.7" fill="#ff5000"/><rect x="1093.3" width="76.5" height="36.7" fill="#ff8f00"/><rect x="1168.6" width="76.5" height="36.7" fill="#ff4000"/><rect x="1260.9" width="75.63" height="36.7" fill="#00e3ff"/><rect x="1335.33" width="75.63" height="36.7" fill="#97ff68"/><rect x="1409.76" width="75.63" height="36.7" fill="#bfff40"/><rect x="1484.19" width="75.63" height="36.7" fill="#1cffe3"/><rect x="1558.62" width="75.63" height="36.7" fill="#00c7ff"/><rect x="1633.05" width="75.63" height="36.7" fill="#830000"/><rect x="1707.48" width="75.63" height="36.7" fill="#ff2c00"/><rect x="1781.91" width="75.63" height="36.7" fill="#d70000"/><rect x="1856.34" width="75.63" height="36.7" fill="#ffeb00"/><rect x="1930.77" width="75.63" height="36.7" fill="#ff7000"/></g>
<g transform="translate(0,789.34)"><rect x="340.3" width="76.5" height="36.7" fill="#ffbb00"/><rect x="415.6" width="76.5" height="36.7" fill="#a7ff58"/><rect x="490.9" width="76.5" height="36.7" fill="#ff8f00"/><rect x="566.2" width="76.5" height="36.7" fill="#97ff68"/><rect x="641.5" width="76.5" height="36.7" fill="#ffcb00"/><rect x="716.8" width="76.5" height="36.7" fill="#0000e7"/><rect x="792.1" width="76.5" height="36.7" fill="#ffcb00"/><rect x="867.4" width="76.5" height="36.7" fill="#4cffb3"/><rect x="942.7" width="76.5" height="36.7" fill="#ffdb00"/><rect x="1018" width="76.5" height="36.7" fill="#ffdb00"/><rect x="1093.3" width="76.5" height="36.7" fill="#a7ff58"/><rect x="1168.6" width="76.5" height="36.7" fill="#a7ff58"/><rect x="1260.9" width="75.63" height="36.7" fill="#00f3ff"/><rect x="1335.33" width="75.63" height="36.7" fill="#8bff74"/><rect x="1409.76" width="75.63" height="36.7" fill="#bfff40"/><rect x="1484.19" width="75.63" height="36.7" fill="#54ffab"/><rect x="1558.62" width="75.63" height="36.7" fill="#00d7ff"/><rect x="1633.05" width="75.63" height="36.7" fill="#00d7ff"/><rect x="1707.48" width="75.63" height="36.7" fill="#ffdb00"/><rect x="1781.91" width="75.63" height="36.7" fill="#bfff40"/><rect x="1856.34" width="75.63" height="36.7" fill="#60ff9f"/><rect x="1930.77" width="75.63" height="36.7" fill="#fff700"/></g>
<g transform="translate(0,824.83)"><rect x="340.3" width="76.5" height="36.7" fill="#7cff83"/><rect x="415.6" width="76.5" height="36.7" fill="#3cffc3"/><rect x="490.9" width="76.5" height="36.7" fill="#a7ff58"/><rect x="566.2" width="76.5" height="36.7" fill="#b7ff48"/><rect x="641.5" width="76.5" height="36.7" fill="#a7ff58"/><rect x="716.8" width="76.5" height="36.7" fill="#7cff83"/><rect x="792.1" width="76.5" height="36.7" fill="#a7ff58"/><rect x="867.4" width="76.5" height="36.7" fill="#d7ff28"/><rect x="942.7" width="76.5" height="36.7" fill="#6cff93"/><rect x="1018" width="76.5" height="36.7" fill="#ff7000"/><rect x="1093.3" width="76.5" height="36.7" fill="#ffdb00"/><rect x="1168.6" width="76.5" height="36.7" fill="#b30000"/><rect x="1260.9" width="75.63" height="36.7" fill="#7cff83"/><rect x="1335.33" width="75.63" height="36.7" fill="#97ff68"/><rect x="1409.76" width="75.63" height="36.7" fill="#ff9700"/><rect x="1484.19" width="75.63" height="36.7" fill="#ffcf00"/><rect x="1558.62" width="75.63" height="36.7" fill="#ff2c00"/><rect x="1633.05" width="75.63" height="36.7" fill="#70ff8f"/><rect x="1707.48" width="75.63" height="36.7" fill="#ff5400"/><rect x="1781.91" width="75.63" height="36.7" fill="#1cffe3"/><rect x="1856.34" width="75.63" height="36.7" fill="#ff7c00"/><rect x="1930.77" width="75.63" height="36.7" fill="#ffeb00"/></g>
<g transform="translate(0,860.33)"><rect x="340.3" width="76.5" height="36.7" fill="#f7ff08"/><rect x="415.6" width="76.5" height="36.7" fill="#a7ff58"/><rect x="490.9" width="76.5" height="36.7" fill="#e7ff18"/><rect x="566.2" width="76.5" height="36.7" fill="#b7ff48"/><rect x="641.5" width="76.5" height="36.7" fill="#e7ff18"/><rect x="716.8" width="76.5" height="36.7" fill="#87ff78"/><rect x="792.1" width="76.5" height="36.7" fill="#f7ff08"/><rect x="867.4" width="76.5" height="36.7" fill="#b7ff48"/><rect x="942.7" width="76.5" height="36.7" fill="#f7ff08"/><rect x="1018" width="76.5" height="36.7" fill="#a7ff58"/><rect x="1093.3" width="76.5" height="36.7" fill="#fffb00"/><rect x="1168.6" width="76.5" height="36.7" fill="#b7ff48"/><rect x="1260.9" width="75.63" height="36.7" fill="#60ff9f"/><rect x="1335.33" width="75.63" height="36.7" fill="#7cff83"/><rect x="1409.76" width="75.63" height="36.7" fill="#8bff74"/><rect x="1484.19" width="75.63" height="36.7" fill="#1cffe3"/><rect x="1558.62" width="75.63" height="36.7" fill="#8bff74"/><rect x="1633.05" width="75.63" height="36.7" fill="#60ff9f"/><rect x="1707.48" width="75.63" height="36.7" fill="#7cff83"/><rect x="1781.91" width="75.63" height="36.7" fill="#54ffab"/><rect x="1856.34" width="75.63" height="36.7" fill="#8bff74"/><rect x="1930.77" width="75.63" height="36.7" fill="#44ffbb"/></g>
<g transform="translate(0,895.83)"><rect x="340.3" width="76.5" height="36.7" fill="#f7ff08"/><rect x="415.6" width="76.5" height="36.7" fill="#87ff78"/><rect x="490.9" width="76.5" height="36.7" fill="#d7ff28"/><rect x="566.2" width="76.5" height="36.7" fill="#e7ff18"/><rect x="641.5" width="76.5" height="36.7" fill="#c7ff38"/><rect x="716.8" width="76.5" height="36.7" fill="#3cffc3"/><rect x="792.1" width="76.5" height="36.7" fill="#ffeb00"/><rect x="867.4" width="76.5" height="36.7" fill="#a7ff58"/><rect x="942.7" width="76.5" height="36.7" fill="#c7ff38"/><rect x="1018" width="76.5" height="36.7" fill="#87ff78"/><rect x="1093.3" width="76.5" height="36.7" fill="#c7ff38"/><rect x="1168.6" width="76.5" height="36.7" fill="#a7ff58"/><rect x="1260.9" width="75.63" height="36.7" fill="#70ff8f"/><rect x="1335.33" width="75.63" height="36.7" fill="#8bff74"/><rect x="1409.76" width="75.63" height="36.7" fill="#a3ff5c"/><rect x="1484.19" width="75.63" height="36.7" fill="#1cffe3"/><rect x="1558.62" width="75.63" height="36.7" fill="#70ff8f"/><rect x="1633.05" width="75.63" height="36.7" fill="#54ffab"/><rect x="1707.48" width="75.63" height="36.7" fill="#60ff9f"/><rect x="1781.91" width="75.63" height="36.7" fill="#44ffbb"/><rect x="1856.34" width="75.63" height="36.7" fill="#8bff74"/><rect x="1930.77" width="75.63" height="36.7" fill="#44ffbb"/></g>
<g transform="translate(0,931.32)"><rect x="340.3" width="76.5" height="36.7" fill="#f7ff08"/><rect x="415.6" width="76.5" height="36.7" fill="#87ff78"/><rect x="490.9" width="76.5" height="36.7" fill="#d7ff28"/><rect x="566.2" width="76.5" height="36.7" fill="#d7ff28"/><rect x="641.5" width="76.5" height="36.7" fill="#c7ff38"/><rect x="716.8" width="76.5" height="36.7" fill="#1cffe3"/><rect x="792.1" width="76.5" height="36.7" fill="#ffeb00"/><rect x="867.4" width="76.5" height="36.7" fill="#97ff68"/><rect x="942.7" width="76.5" height="36.7" fill="#d7ff28"/><rect x="1018" width="76.5" height="36.7" fill="#6cff93"/><rect x="1093.3" width="76.5" height="36.7" fill="#b7ff48"/><rect x="1168.6" width="76.5" height="36.7" fill="#7cff83"/><rect x="1260.9" width="75.63" height="36.7" fill="#70ff8f"/><rect x="1335.33" width="75.63" height="36.7" fill="#8bff74"/><rect x="1409.76" width="75.63" height="36.7" fill="#b3ff4c"/><rect x="1484.19" width="75.63" height="36.7" fill="#00ffff"/><rect x="1558.62" width="75.63" height="36.7" fill="#70ff8f"/><rect x="1633.05" width="75.63" height="36.7" fill="#44ffbb"/><rect x="1707.48" width="75.63" height="36.7" fill="#1cffe3"/><rect x="1781.91" width="75.63" height="36.7" fill="#1cffe3"/><rect x="1856.34" width="75.63" height="36.7" fill="#b3ff4c"/><rect x="1930.77" width="75.63" height="36.7" fill="#38ffc7"/></g>
<g transform="translate(0,966.82)"><rect x="340.3" width="76.5" height="36.7" fill="#0cfff3"/><rect x="415.6" width="76.5" height="36.7" fill="#f7ff08"/><rect x="490.9" width="76.5" height="36.7" fill="#ff6000"/><rect x="566.2" width="76.5" height="36.7" fill="#ff3000"/><rect x="641.5" width="76.5" height="36.7" fill="#d30000"/><rect x="716.8" width="76.5" height="36.7" fill="#00afff"/><rect x="792.1" width="76.5" height="36.7" fill="#ffbb00"/><rect x="867.4" width="76.5" height="36.7" fill="#ffcb00"/><rect x="942.7" width="76.5" height="36.7" fill="#ffeb00"/><rect x="1018" width="76.5" height="36.7" fill="#ffdb00"/><rect x="1093.3" width="76.5" height="36.7" fill="#f7ff08"/><rect x="1168.6" width="76.5" height="36.7" fill="#fffb00"/><rect x="1260.9" width="75.63" height="36.7" fill="#1cffe3"/><rect x="1335.33" width="75.63" height="36.7" fill="#7cff83"/><rect x="1409.76" width="75.63" height="36.7" fill="#ff7c00"/><rect x="1484.19" width="75.63" height="36.7" fill="#38ffc7"/><rect x="1558.62" width="75.63" height="36.7" fill="#ffeb00"/><rect x="1633.05" width="75.63" height="36.7" fill="#bfff40"/><rect x="1707.48" width="75.63" height="36.7" fill="#ffdb00"/><rect x="1781.91" width="75.63" height="36.7" fill="#b3ff4c"/><rect x="1856.34" width="75.63" height="36.7" fill="#bfff40"/><rect x="1930.77" width="75.63" height="36.7" fill="#97ff68"/></g>
<g transform="translate(0,1002.32)"><rect x="340.3" width="76.5" height="36.7" fill="#f30000"/><rect x="415.6" width="76.5" height="36.7" fill="#ffeb00"/><rect x="490.9" width="76.5" height="36.7" fill="#ffeb00"/><rect x="566.2" width="76.5" height="36.7" fill="#87ff78"/><rect x="641.5" width="76.5" height="36.7" fill="#ff8f00"/><rect x="716.8" width="76.5" height="36.7" fill="#6cff93"/><rect x="792.1" width="76.5" height="36.7" fill="#ffeb00"/><rect x="867.4" width="76.5" height="36.7" fill="#ffeb00"/><rect x="942.7" width="76.5" height="36.7" fill="#fffb00"/><rect x="1018" width="76.5" height="36.7" fill="#fffb00"/><rect x="1093.3" width="76.5" height="36.7" fill="#e7ff18"/><rect x="1168.6" width="76.5" height="36.7" fill="#f7ff08"/><rect x="1260.9" width="75.63" height="36.7" fill="#00ffff"/><rect x="1335.33" width="75.63" height="36.7" fill="#54ffab"/><rect x="1409.76" width="75.63" height="36.7" fill="#ffcf00"/><rect x="1484.19" width="75.63" height="36.7" fill="#97ff68"/><rect x="1558.62" width="75.63" height="36.7" fill="#f7ff08"/><rect x="1633.05" width="75.63" height="36.7" fill="#a3ff5c"/><rect x="1707.48" width="75.63" height="36.7" fill="#fff700"/><rect x="1781.91" width="75.63" height="36.7" fill="#a3ff5c"/><rect x="1856.34" width="75.63" height="36.7" fill="#bfff40"/><rect x="1930.77" width="75.63" height="36.7" fill="#8bff74"/></g>
<g transform="translate(0,1037.82)"><rect x="340.3" width="76.5" height="36.7" fill="#e7ff18"/><rect x="415.6" width="76.5" height="36.7" fill="#d7ff28"/><rect x="490.9" width="76.5" height="36.7" fill="#ffeb00"/><rect x="566.2" width="76.5" height="36.7" fill="#d7ff28"/><rect x="641.5" width="76.5" height="36.7" fill="#ffeb00"/><rect x="716.8" width="76.5" height="36.7" fill="#87ff78"/><rect x="792.1" width="76.5" height="36.7" fill="#e7ff18"/><rect x="867.4" width="76.5" height="36.7" fill="#e7ff18"/><rect x="942.7" width="76.5" height="36.7" fill="#fffb00"/><rect x="1018" width="76.5" height="36.7" fill="#f7ff08"/><rect x="1093.3" width="76.5" height="36.7" fill="#d7ff28"/><rect x="1168.6" width="76.5" height="36.7" fill="#d7ff28"/><rect x="1260.9" width="75.63" height="36.7" fill="#54ffab"/><rect x="1335.33" width="75.63" height="36.7" fill="#8bff74"/><rect x="1409.76" width="75.63" height="36.7" fill="#ffdb00"/><rect x="1484.19" width="75.63" height="36.7" fill="#44ffbb"/><rect x="1558.62" width="75.63" height="36.7" fill="#dbff24"/><rect x="1633.05" width="75.63" height="36.7" fill="#b3ff4c"/><rect x="1707.48" width="75.63" height="36.7" fill="#a3ff5c"/><rect x="1781.91" width="75.63" height="36.7" fill="#60ff9f"/><rect x="1856.34" width="75.63" height="36.7" fill="#bfff40"/><rect x="1930.77" width="75.63" height="36.7" fill="#7cff83"/></g>
<g transform="translate(0,1073.31)"><rect x="340.3" width="76.5" height="36.7" fill="#3cffc3"/><rect x="415.6" width="76.5" height="36.7" fill="#0cfff3"/><rect x="490.9" width="76.5" height="36.7" fill="#4cffb3"/><rect x="566.2" width="76.5" height="36.7" fill="#00bfff"/><rect x="641.5" width="76.5" height="36.7" fill="#00cfff"/><rect x="716.8" width="76.5" height="36.7" fill="#1cffe3"/><rect x="792.1" width="76.5" height="36.7" fill="#a7ff58"/><rect x="867.4" width="76.5" height="36.7" fill="#5cffa3"/><rect x="942.7" width="76.5" height="36.7" fill="#97ff68"/><rect x="1018" width="76.5" height="36.7" fill="#4cffb3"/><rect x="1093.3" width="76.5" height="36.7" fill="#a7ff58"/><rect x="1168.6" width="76.5" height="36.7" fill="#7cff83"/><rect x="1260.9" width="75.63" height="36.7" fill="#ff1000"/><rect x="1335.33" width="75.63" height="36.7" fill="#e30000"/><rect x="1409.76" width="75.63" height="36.7" fill="#00d7ff"/><rect x="1484.19" width="75.63" height="36.7" fill="#0083ff"/><rect x="1558.62" width="75.63" height="36.7" fill="#28ffd7"/><rect x="1633.05" width="75.63" height="36.7" fill="#00d7ff"/><rect x="1707.48" width="75.63" height="36.7" fill="#28ffd7"/><rect x="1781.91" width="75.63" height="36.7" fill="#28ffd7"/><rect x="1856.34" width="75.63" height="36.7" fill="#0cfff3"/><rect x="1930.77" width="75.63" height="36.7" fill="#00ffff"/></g>
<g transform="translate(0,1108.81)"><rect x="340.3" width="76.5" height="36.7" fill="#f7ff08"/><rect x="415.6" width="76.5" height="36.7" fill="#a7ff58"/><rect x="490.9" width="76.5" height="36.7" fill="#e7ff18"/><rect x="566.2" width="76.5" height="36.7" fill="#b7ff48"/><rect x="641.5" width="76.5" height="36.7" fill="#e7ff18"/><rect x="716.8" width="76.5" height="36.7" fill="#87ff78"/><rect x="792.1" width="76.5" height="36.7" fill="#f7ff08"/><rect x="867.4" width="76.5" height="36.7" fill="#b7ff48"/><rect x="942.7" width="76.5" height="36.7" fill="#f7ff08"/><rect x="1018" width="76.5" height="36.7" fill="#a7ff58"/><rect x="1093.3" width="76.5" height="36.7" fill="#fffb00"/><rect x="1168.6" width="76.5" height="36.7" fill="#b7ff48"/><rect x="1260.9" width="75.63" height="36.7" fill="#60ff9f"/><rect x="1335.33" width="75.63" height="36.7" fill="#7cff83"/><rect x="1409.76" width="75.63" height="36.7" fill="#8bff74"/><rect x="1484.19" width="75.63" height="36.7" fill="#38ffc7"/><rect x="1558.62" width="75.63" height="36.7" fill="#8bff74"/><rect x="1633.05" width="75.63" height="36.7" fill="#60ff9f"/><rect x="1707.48" width="75.63" height="36.7" fill="#7cff83"/><rect x="1781.91" width="75.63" height="36.7" fill="#54ffab"/><rect x="1856.34" width="75.63" height="36.7" fill="#8bff74"/><rect x="1930.77" width="75.63" height="36.7" fill="#44ffbb"/></g>
<g transform="translate(0,1144.31)"><rect x="340.3" width="76.5" height="36.7" fill="#ffcb00"/><rect x="415.6" width="76.5" height="36.7" fill="#c7ff38"/><rect x="490.9" width="76.5" height="36.7" fill="#fffb00"/><rect x="566.2" width="76.5" height="36.7" fill="#c7ff38"/><rect x="641.5" width="76.5" height="36.7" fill="#fffb00"/><rect x="716.8" width="76.5" height="36.7" fill="#5cffa3"/><rect x="792.1" width="76.5" height="36.7" fill="#e7ff18"/><rect x="867.4" width="76.5" height="36.7" fill="#e7ff18"/><rect x="942.7" width="76.5" height="36.7" fill="#f7ff08"/><rect x="1018" width="76.5" height="36.7" fill="#c7ff38"/><rect x="1093.3" width="76.5" height="36.7" fill="#ffcb00"/><rect x="1168.6" width="76.5" height="36.7" fill="#f7ff08"/><rect x="1260.9" width="75.63" height="36.7" fill="#38ffc7"/><rect x="1335.33" width="75.63" height="36.7" fill="#7cff83"/><rect x="1409.76" width="75.63" height="36.7" fill="#97ff68"/><rect x="1484.19" width="75.63" height="36.7" fill="#1cffe3"/><rect x="1558.62" width="75.63" height="36.7" fill="#cfff30"/><rect x="1633.05" width="75.63" height="36.7" fill="#60ff9f"/><rect x="1707.48" width="75.63" height="36.7" fill="#44ffbb"/><rect x="1781.91" width="75.63" height="36.7" fill="#44ffbb"/><rect x="1856.34" width="75.63" height="36.7" fill="#70ff8f"/><rect x="1930.77" width="75.63" height="36.7" fill="#44ffbb"/></g>
<g transform="translate(0,1179.8)"><rect x="340.3" width="76.5" height="36.7" fill="#f7ff08"/><rect x="415.6" width="76.5" height="36.7" fill="#c7ff38"/><rect x="490.9" width="76.5" height="36.7" fill="#f7ff08"/><rect x="566.2" width="76.5" height="36.7" fill="#d7ff28"/><rect x="641.5" width="76.5" height="36.7" fill="#e7ff18"/><rect x="716.8" width="76.5" height="36.7" fill="#97ff68"/><rect x="792.1" width="76.5" height="36.7" fill="#b7ff48"/><rect x="867.4" width="76.5" height="36.7" fill="#e7ff18"/><rect x="942.7" width="76.5" height="36.7" fill="#c7ff38"/><rect x="1018" width="76.5" height="36.7" fill="#fffb00"/><rect x="1093.3" width="76.5" height="36.7" fill="#ffeb00"/><rect x="1168.6" width="76.5" height="36.7" fill="#ffdb00"/><rect x="1260.9" width="75.63" height="36.7" fill="#38ffc7"/><rect x="1335.33" width="75.63" height="36.7" fill="#7cff83"/><rect x="1409.76" width="75.63" height="36.7" fill="#70ff8f"/><rect x="1484.19" width="75.63" height="36.7" fill="#44ffbb"/><rect x="1558.62" width="75.63" height="36.7" fill="#a3ff5c"/><rect x="1633.05" width="75.63" height="36.7" fill="#7cff83"/><rect x="1707.48" width="75.63" height="36.7" fill="#7cff83"/><rect x="1781.91" width="75.63" height="36.7" fill="#7cff83"/><rect x="1856.34" width="75.63" height="36.7" fill="#44ffbb"/><rect x="1930.77" width="75.63" height="36.7" fill="#0cfff3"/></g>
<g transform="translate(0,1215.3)"><rect x="340.3" width="76.5" height="36.7" fill="#d7ff28"/><rect x="415.6" width="76.5" height="36.7" fill="#97ff68"/><rect x="490.9" width="76.5" height="36.7" fill="#c7ff38"/><rect x="566.2" width="76.5" height="36.7" fill="#b7ff48"/><rect x="641.5" width="76.5" height="36.7" fill="#c7ff38"/><rect x="716.8" width="76.5" height="36.7" fill="#87ff78"/><rect x="792.1" width="76.5" height="36.7" fill="#c7ff38"/><rect x="867.4" width="76.5" height="36.7" fill="#a7ff58"/><rect x="942.7" width="76.5" height="36.7" fill="#c7ff38"/><rect x="1018" width="76.5" height="36.7" fill="#a7ff58"/><rect x="1093.3" width="76.5" height="36.7" fill="#d7ff28"/><rect x="1168.6" width="76.5" height="36.7" fill="#b7ff48"/><rect x="1260.9" width="75.63" height="36.7" fill="#44ffbb"/><rect x="1335.33" width="75.63" height="36.7" fill="#70ff8f"/><rect x="1409.76" width="75.63" height="36.7" fill="#8bff74"/><rect x="1484.19" width="75.63" height="36.7" fill="#28ffd7"/><rect x="1558.62" width="75.63" height="36.7" fill="#a3ff5c"/><rect x="1633.05" width="75.63" height="36.7" fill="#70ff8f"/><rect x="1707.48" width="75.63" height="36.7" fill="#b3ff4c"/><rect x="1781.91" width="75.63" height="36.7" fill="#60ff9f"/><rect x="1856.34" width="75.63" height="36.7" fill="#a3ff5c"/><rect x="1930.77" width="75.63" height="36.7" fill="#54ffab"/></g>
<g transform="translate(0,1250.8)"><rect x="340.3" width="76.5" height="36.7" fill="#d7ff28"/><rect x="415.6" width="76.5" height="36.7" fill="#97ff68"/><rect x="490.9" width="76.5" height="36.7" fill="#c7ff38"/><rect x="566.2" width="76.5" height="36.7" fill="#b7ff48"/><rect x="641.5" width="76.5" height="36.7" fill="#c7ff38"/><rect x="716.8" width="76.5" height="36.7" fill="#97ff68"/><rect x="792.1" width="76.5" height="36.7" fill="#b7ff48"/><rect x="867.4" width="76.5" height="36.7" fill="#a7ff58"/><rect x="942.7" width="76.5" height="36.7" fill="#c7ff38"/><rect x="1018" width="76.5" height="36.7" fill="#a7ff58"/><rect x="1093.3" width="76.5" height="36.7" fill="#d7ff28"/><rect x="1168.6" width="76.5" height="36.7" fill="#b7ff48"/><rect x="1260.9" width="75.63" height="36.7" fill="#44ffbb"/><rect x="1335.33" width="75.63" height="36.7" fill="#70ff8f"/><rect x="1409.76" width="75.63" height="36.7" fill="#8bff74"/><rect x="1484.19" width="75.63" height="36.7" fill="#28ffd7"/><rect x="1558.62" width="75.63" height="36.7" fill="#a3ff5c"/><rect x="1633.05" width="75.63" height="36.7" fill="#70ff8f"/><rect x="1707.48" width="75.63" height="36.7" fill="#b3ff4c"/><rect x="1781.91" width="75.63" height="36.7" fill="#60ff9f"/><rect x="1856.34" width="75.63" height="36.7" fill="#a3ff5c"/><rect x="1930.77" width="75.63" height="36.7" fill="#54ffab"/></g>
<g transform="translate(0,1286.3)"><rect x="340.3" width="76.5" height="36.7" fill="#e7ff18"/><rect x="415.6" width="76.5" height="36.7" fill="#c7ff38"/><rect x="490.9" width="76.5" height="36.7" fill="#c7ff38"/><rect x="566.2" width="76.5" height="36.7" fill="#97ff68"/><rect x="641.5" width="76.5" height="36.7" fill="#fffb00"/><rect x="716.8" width="76.5" height="36.7" fill="#4cffb3"/><rect x="792.1" width="76.5" height="36.7" fill="#f7ff08"/><rect x="867.4" width="76.5" height="36.7" fill="#ffeb00"/><rect x="942.7" width="76.5" height="36.7" fill="#d7ff28"/><rect x="1018" width="76.5" height="36.7" fill="#b7ff48"/><rect x="1093.3" width="76.5" height="36.7" fill="#e7ff18"/><rect x="1168.6" width="76.5" height="36.7" fill="#ffeb00"/><rect x="1260.9" width="75.63" height="36.7" fill="#a3ff5c"/><rect x="1335.33" width="75.63" height="36.7" fill="#cfff30"/><rect x="1409.76" width="75.63" height="36.7" fill="#bfff40"/><rect x="1484.19" width="75.63" height="36.7" fill="#44ffbb"/><rect x="1558.62" width="75.63" height="36.7" fill="#cfff30"/><rect x="1633.05" width="75.63" height="36.7" fill="#97ff68"/><rect x="1707.48" width="75.63" height="36.7" fill="#cfff30"/><rect x="1781.91" width="75.63" height="36.7" fill="#cfff30"/><rect x="1856.34" width="75.63" height="36.7" fill="#97ff68"/><rect x="1930.77" width="75.63" height="36.7" fill="#70ff8f"/></g>
<g transform="translate(0,1321.79)"><rect x="340.3" width="76.5" height="36.7" fill="#c7ff38"/><rect x="415.6" width="76.5" height="36.7" fill="#a7ff58"/><rect x="490.9" width="76.5" height="36.7" fill="#c7ff38"/><rect x="566.2" width="76.5" height="36.7" fill="#e7ff18"/><rect x="641.5" width="76.5" height="36.7" fill="#a7ff58"/><rect x="716.8" width="76.5" height="36.7" fill="#6cff93"/><rect x="792.1" width="76.5" height="36.7" fill="#ffbb00"/><rect x="867.4" width="76.5" height="36.7" fill="#a7ff58"/><rect x="942.7" width="76.5" height="36.7" fill="#a7ff58"/><rect x="1018" width="76.5" height="36.7" fill="#97ff68"/><rect x="1093.3" width="76.5" height="36.7" fill="#97ff68"/><rect x="1168.6" width="76.5" height="36.7" fill="#7cff83"/><rect x="1260.9" width="75.63" height="36.7" fill="#70ff8f"/><rect x="1335.33" width="75.63" height="36.7" fill="#a3ff5c"/><rect x="1409.76" width="75.63" height="36.7" fill="#00f3ff"/><rect x="1484.19" width="75.63" height="36.7" fill="#00e3ff"/><rect x="1558.62" width="75.63" height="36.7" fill="#28ffd7"/><rect x="1633.05" width="75.63" height="36.7" fill="#70ff8f"/><rect x="1707.48" width="75.63" height="36.7" fill="#70ff8f"/><rect x="1781.91" width="75.63" height="36.7" fill="#44ffbb"/><rect x="1856.34" width="75.63" height="36.7" fill="#44ffbb"/><rect x="1930.77" width="75.63" height="36.7" fill="#38ffc7"/></g>
<g transform="translate(0,1357.29)"><rect x="340.3" width="76.5" height="36.7" fill="#c7ff38"/><rect x="415.6" width="76.5" height="36.7" fill="#c7ff38"/><rect x="490.9" width="76.5" height="36.7" fill="#97ff68"/><rect x="566.2" width="76.5" height="36.7" fill="#2cffd3"/><rect x="641.5" width="76.5" height="36.7" fill="#c7ff38"/><rect x="716.8" width="76.5" height="36.7" fill="#b7ff48"/><rect x="792.1" width="76.5" height="36.7" fill="#a7ff58"/><rect x="867.4" width="76.5" height="36.7" fill="#b7ff48"/><rect x="942.7" width="76.5" height="36.7" fill="#87ff78"/><rect x="1018" width="76.5" height="36.7" fill="#b7ff48"/><rect x="1093.3" width="76.5" height="36.7" fill="#b7ff48"/><rect x="1168.6" width="76.5" height="36.7" fill="#c7ff38"/><rect x="1260.9" width="75.63" height="36.7" fill="#60ff9f"/><rect x="1335.33" width="75.63" height="36.7" fill="#7cff83"/><rect x="1409.76" width="75.63" height="36.7" fill="#54ffab"/><rect x="1484.19" width="75.63" height="36.7" fill="#44ffbb"/><rect x="1558.62" width="75.63" height="36.7" fill="#b3ff4c"/><rect x="1633.05" width="75.63" height="36.7" fill="#cfff30"/><rect x="1707.48" width="75.63" height="36.7" fill="#70ff8f"/><rect x="1781.91" width="75.63" height="36.7" fill="#7cff83"/><rect x="1856.34" width="75.63" height="36.7" fill="#70ff8f"/><rect x="1930.77" width="75.63" height="36.7" fill="#38ffc7"/></g>
<g transform="translate(0,1392.79)"><rect x="340.3" width="76.5" height="36.7" fill="#97ff68"/><rect x="415.6" width="76.5" height="36.7" fill="#87ff78"/><rect x="490.9" width="76.5" height="36.7" fill="#a7ff58"/><rect x="566.2" width="76.5" height="36.7" fill="#d7ff28"/><rect x="641.5" width="76.5" height="36.7" fill="#5cffa3"/><rect x="716.8" width="76.5" height="36.7" fill="#00ffff"/><rect x="792.1" width="76.5" height="36.7" fill="#ffbb00"/><rect x="867.4" width="76.5" height="36.7" fill="#87ff78"/><rect x="942.7" width="76.5" height="36.7" fill="#97ff68"/><rect x="1018" width="76.5" height="36.7" fill="#87ff78"/><rect x="1093.3" width="76.5" height="36.7" fill="#7cff83"/><rect x="1168.6" width="76.5" height="36.7" fill="#5cffa3"/><rect x="1260.9" width="75.63" height="36.7" fill="#97ff68"/><rect x="1335.33" width="75.63" height="36.7" fill="#97ff68"/><rect x="1409.76" width="75.63" height="36.7" fill="#00d7ff"/><rect x="1484.19" width="75.63" height="36.7" fill="#00d7ff"/><rect x="1558.62" width="75.63" height="36.7" fill="#0cfff3"/><rect x="1633.05" width="75.63" height="36.7" fill="#28ffd7"/><rect x="1707.48" width="75.63" height="36.7" fill="#44ffbb"/><rect x="1781.91" width="75.63" height="36.7" fill="#38ffc7"/><rect x="1856.34" width="75.63" height="36.7" fill="#28ffd7"/><rect x="1930.77" width="75.63" height="36.7" fill="#0cfff3"/></g>
<g transform="translate(0,1428.28)"><rect x="340.3" width="76.5" height="36.7" fill="#ffbb00"/><rect x="415.6" width="76.5" height="36.7" fill="#b7ff48"/><rect x="490.9" width="76.5" height="36.7" fill="#c7ff38"/><rect x="566.2" width="76.5" height="36.7" fill="#5cffa3"/><rect x="641.5" width="76.5" height="36.7" fill="#ffab00"/><rect x="716.8" width="76.5" height="36.7" fill="#f7ff08"/><rect x="792.1" width="76.5" height="36.7" fill="#ffab00"/><rect x="867.4" width="76.5" height="36.7" fill="#fffb00"/><rect x="942.7" width="76.5" height="36.7" fill="#ffab00"/><rect x="1018" width="76.5" height="36.7" fill="#f30000"/><rect x="1093.3" width="76.5" height="36.7" fill="#e7ff18"/><rect x="1168.6" width="76.5" height="36.7" fill="#fffb00"/><rect x="1260.9" width="75.63" height="36.7" fill="#60ff9f"/><rect x="1335.33" width="75.63" height="36.7" fill="#a3ff5c"/><rect x="1409.76" width="75.63" height="36.7" fill="#54ffab"/><rect x="1484.19" width="75.63" height="36.7" fill="#44ffbb"/><rect x="1558.62" width="75.63" height="36.7" fill="#ffeb00"/><rect x="1633.05" width="75.63" height="36.7" fill="#bfff40"/><rect x="1707.48" width="75.63" height="36.7" fill="#54ffab"/><rect x="1781.91" width="75.63" height="36.7" fill="#28ffd7"/><rect x="1856.34" width="75.63" height="36.7" fill="#28ffd7"/><rect x="1930.77" width="75.63" height="36.7" fill="#00ffff"/></g>
<g transform="translate(0,1463.78)"><rect x="340.3" width="76.5" height="36.7" fill="#a7ff58"/><rect x="415.6" width="76.5" height="36.7" fill="#87ff78"/><rect x="490.9" width="76.5" height="36.7" fill="#a7ff58"/><rect x="566.2" width="76.5" height="36.7" fill="#97ff68"/><rect x="641.5" width="76.5" height="36.7" fill="#87ff78"/><rect x="716.8" width="76.5" height="36.7" fill="#97ff68"/><rect x="792.1" width="76.5" height="36.7" fill="#97ff68"/><rect x="867.4" width="76.5" height="36.7" fill="#2cffd3"/><rect x="942.7" width="76.5" height="36.7" fill="#b7ff48"/><rect x="1018" width="76.5" height="36.7" fill="#a7ff58"/><rect x="1093.3" width="76.5" height="36.7" fill="#3cffc3"/><rect x="1168.6" width="76.5" height="36.7" fill="#7cff83"/><rect x="1260.9" width="75.63" height="36.7" fill="#38ffc7"/><rect x="1335.33" width="75.63" height="36.7" fill="#bfff40"/><rect x="1409.76" width="75.63" height="36.7" fill="#8bff74"/><rect x="1484.19" width="75.63" height="36.7" fill="#00c7ff"/><rect x="1558.62" width="75.63" height="36.7" fill="#38ffc7"/><rect x="1633.05" width="75.63" height="36.7" fill="#54ffab"/><rect x="1707.48" width="75.63" height="36.7" fill="#70ff8f"/><rect x="1781.91" width="75.63" height="36.7" fill="#54ffab"/><rect x="1856.34" width="75.63" height="36.7" fill="#97ff68"/><rect x="1930.77" width="75.63" height="36.7" fill="#00c7ff"/></g>
<g transform="translate(0,1499.28)"><rect x="340.3" width="76.5" height="36.7" fill="#e7ff18"/><rect x="415.6" width="76.5" height="36.7" fill="#a7ff58"/><rect x="490.9" width="76.5" height="36.7" fill="#d7ff28"/><rect x="566.2" width="76.5" height="36.7" fill="#a7ff58"/><rect x="641.5" width="76.5" height="36.7" fill="#e7ff18"/><rect x="716.8" width="76.5" height="36.7" fill="#a7ff58"/><rect x="792.1" width="76.5" height="36.7" fill="#e7ff18"/><rect x="867.4" width="76.5" height="36.7" fill="#b7ff48"/><rect x="942.7" width="76.5" height="36.7" fill="#fffb00"/><rect x="1018" width="76.5" height="36.7" fill="#d7ff28"/><rect x="1093.3" width="76.5" height="36.7" fill="#ffeb00"/><rect x="1168.6" width="76.5" height="36.7" fill="#97ff68"/><rect x="1260.9" width="75.63" height="36.7" fill="#60ff9f"/><rect x="1335.33" width="75.63" height="36.7" fill="#8bff74"/><rect x="1409.76" width="75.63" height="36.7" fill="#8bff74"/><rect x="1484.19" width="75.63" height="36.7" fill="#54ffab"/><rect x="1558.62" width="75.63" height="36.7" fill="#a3ff5c"/><rect x="1633.05" width="75.63" height="36.7" fill="#60ff9f"/><rect x="1707.48" width="75.63" height="36.7" fill="#7cff83"/><rect x="1781.91" width="75.63" height="36.7" fill="#54ffab"/><rect x="1856.34" width="75.63" height="36.7" fill="#a3ff5c"/><rect x="1930.77" width="75.63" height="36.7" fill="#44ffbb"/></g>
<g transform="translate(0,1534.77)"><rect x="340.3" width="76.5" height="36.7" fill="#f7ff08"/><rect x="415.6" width="76.5" height="36.7" fill="#b7ff48"/><rect x="490.9" width="76.5" height="36.7" fill="#e7ff18"/><rect x="566.2" width="76.5" height="36.7" fill="#b7ff48"/><rect x="641.5" width="76.5" height="36.7" fill="#e7ff18"/><rect x="716.8" width="76.5" height="36.7" fill="#b7ff48"/><rect x="792.1" width="76.5" height="36.7" fill="#e7ff18"/><rect x="867.4" width="76.5" height="36.7" fill="#b7ff48"/><rect x="942.7" width="76.5" height="36.7" fill="#e7ff18"/><rect x="1018" width="76.5" height="36.7" fill="#97ff68"/><rect x="1093.3" width="76.5" height="36.7" fill="#c7ff38"/><rect x="1168.6" width="76.5" height="36.7" fill="#87ff78"/><rect x="1260.9" width="75.63" height="36.7" fill="#70ff8f"/><rect x="1335.33" width="75.63" height="36.7" fill="#97ff68"/><rect x="1409.76" width="75.63" height="36.7" fill="#8bff74"/><rect x="1484.19" width="75.63" height="36.7" fill="#54ffab"/><rect x="1558.62" width="75.63" height="36.7" fill="#8bff74"/><rect x="1633.05" width="75.63" height="36.7" fill="#70ff8f"/><rect x="1707.48" width="75.63" height="36.7" fill="#7cff83"/><rect x="1781.91" width="75.63" height="36.7" fill="#54ffab"/><rect x="1856.34" width="75.63" height="36.7" fill="#7cff83"/><rect x="1930.77" width="75.63" height="36.7" fill="#44ffbb"/></g>
<g transform="translate(0,1570.27)"><rect x="340.3" width="76.5" height="36.7" fill="#c7ff38"/><rect x="415.6" width="76.5" height="36.7" fill="#87ff78"/><rect x="490.9" width="76.5" height="36.7" fill="#b7ff48"/><rect x="566.2" width="76.5" height="36.7" fill="#a7ff58"/><rect x="641.5" width="76.5" height="36.7" fill="#c7ff38"/><rect x="716.8" width="76.5" height="36.7" fill="#00efff"/><rect x="792.1" width="76.5" height="36.7" fill="#fffb00"/><rect x="867.4" width="76.5" height="36.7" fill="#a7ff58"/><rect x="942.7" width="76.5" height="36.7" fill="#ffdb00"/><rect x="1018" width="76.5" height="36.7" fill="#ffcb00"/><rect x="1093.3" width="76.5" height="36.7" fill="#e7ff18"/><rect x="1168.6" width="76.5" height="36.7" fill="#ffeb00"/><rect x="1260.9" width="75.63" height="36.7" fill="#60ff9f"/><rect x="1335.33" width="75.63" height="36.7" fill="#70ff8f"/><rect x="1409.76" width="75.63" height="36.7" fill="#8bff74"/><rect x="1484.19" width="75.63" height="36.7" fill="#60ff9f"/><rect x="1558.62" width="75.63" height="36.7" fill="#ebff14"/><rect x="1633.05" width="75.63" height="36.7" fill="#54ffab"/><rect x="1707.48" width="75.63" height="36.7" fill="#ff9700"/><rect x="1781.91" width="75.63" height="36.7" fill="#8bff74"/><rect x="1856.34" width="75.63" height="36.7" fill="#bfff40"/><rect x="1930.77" width="75.63" height="36.7" fill="#a3ff5c"/></g>
<g transform="translate(0,1605.77)"><rect x="340.3" width="76.5" height="36.7" fill="#f7ff08"/><rect x="415.6" width="76.5" height="36.7" fill="#b7ff48"/><rect x="490.9" width="76.5" height="36.7" fill="#e7ff18"/><rect x="566.2" width="76.5" height="36.7" fill="#a7ff58"/><rect x="641.5" width="76.5" height="36.7" fill="#f7ff08"/><rect x="716.8" width="76.5" height="36.7" fill="#a7ff58"/><rect x="792.1" width="76.5" height="36.7" fill="#f7ff08"/><rect x="867.4" width="76.5" height="36.7" fill="#a7ff58"/><rect x="942.7" width="76.5" height="36.7" fill="#ffcb00"/><rect x="1018" width="76.5" height="36.7" fill="#e7ff18"/><rect x="1093.3" width="76.5" height="36.7" fill="#ffbb00"/><rect x="1168.6" width="76.5" height="36.7" fill="#a7ff58"/><rect x="1260.9" width="75.63" height="36.7" fill="#60ff9f"/><rect x="1335.33" width="75.63" height="36.7" fill="#8bff74"/><rect x="1409.76" width="75.63" height="36.7" fill="#8bff74"/><rect x="1484.19" width="75.63" height="36.7" fill="#54ffab"/><rect x="1558.62" width="75.63" height="36.7" fill="#b3ff4c"/><rect x="1633.05" width="75.63" height="36.7" fill="#70ff8f"/><rect x="1707.48" width="75.63" height="36.7" fill="#60ff9f"/><rect x="1781.91" width="75.63" height="36.7" fill="#54ffab"/><rect x="1856.34" width="75.63" height="36.7" fill="#97ff68"/><rect x="1930.77" width="75.63" height="36.7" fill="#0cfff3"/></g>
<g transform="translate(0,1641.27)"><rect x="340.3" width="76.5" height="36.7" fill="#ffeb00"/><rect x="415.6" width="76.5" height="36.7" fill="#c7ff38"/><rect x="490.9" width="76.5" height="36.7" fill="#f7ff08"/><rect x="566.2" width="76.5" height="36.7" fill="#97ff68"/><rect x="641.5" width="76.5" height="36.7" fill="#ffdb00"/><rect x="716.8" width="76.5" height="36.7" fill="#a7ff58"/><rect x="792.1" width="76.5" height="36.7" fill="#ffeb00"/><rect x="867.4" width="76.5" height="36.7" fill="#a7ff58"/><rect x="942.7" width="76.5" height="36.7" fill="#b30000"/><rect x="1018" width="76.5" height="36.7" fill="#ff6000"/><rect x="1093.3" width="76.5" height="36.7" fill="#c30000"/><rect x="1168.6" width="76.5" height="36.7" fill="#ffcb00"/><rect x="1260.9" width="75.63" height="36.7" fill="#60ff9f"/><rect x="1335.33" width="75.63" height="36.7" fill="#a3ff5c"/><rect x="1409.76" width="75.63" height="36.7" fill="#70ff8f"/><rect x="1484.19" width="75.63" height="36.7" fill="#1cffe3"/><rect x="1558.62" width="75.63" height="36.7" fill="#cfff30"/><rect x="1633.05" width="75.63" height="36.7" fill="#0cfff3"/><rect x="1707.48" width="75.63" height="36.7" fill="#60ff9f"/><rect x="1781.91" width="75.63" height="36.7" fill="#97ff68"/><rect x="1856.34" width="75.63" height="36.7" fill="#ff7000"/><rect x="1930.77" width="75.63" height="36.7" fill="#54ffab"/></g>
<g transform="translate(0,1676.76)"><rect x="340.3" width="76.5" height="36.7" fill="#c7ff38"/><rect x="415.6" width="76.5" height="36.7" fill="#a7ff58"/><rect x="490.9" width="76.5" height="36.7" fill="#c7ff38"/><rect x="566.2" width="76.5" height="36.7" fill="#b7ff48"/><rect x="641.5" width="76.5" height="36.7" fill="#d7ff28"/><rect x="716.8" width="76.5" height="36.7" fill="#c7ff38"/><rect x="792.1" width="76.5" height="36.7" fill="#e7ff18"/><rect x="867.4" width="76.5" height="36.7" fill="#f7ff08"/><rect x="942.7" width="76.5" height="36.7" fill="#c7ff38"/><rect x="1018" width="76.5" height="36.7" fill="#fffb00"/><rect x="1093.3" width="76.5" height="36.7" fill="#e7ff18"/><rect x="1168.6" width="76.5" height="36.7" fill="#ffab00"/><rect x="1260.9" width="75.63" height="36.7" fill="#70ff8f"/><rect x="1335.33" width="75.63" height="36.7" fill="#97ff68"/><rect x="1409.76" width="75.63" height="36.7" fill="#7cff83"/><rect x="1484.19" width="75.63" height="36.7" fill="#54ffab"/><rect x="1558.62" width="75.63" height="36.7" fill="#7cff83"/><rect x="1633.05" width="75.63" height="36.7" fill="#97ff68"/><rect x="1707.48" width="75.63" height="36.7" fill="#b3ff4c"/><rect x="1781.91" width="75.63" height="36.7" fill="#b3ff4c"/><rect x="1856.34" width="75.63" height="36.7" fill="#8bff74"/><rect x="1930.77" width="75.63" height="36.7" fill="#70ff8f"/></g>
<g transform="translate(0,1712.26)"><rect x="340.3" width="76.5" height="36.7" fill="#f7ff08"/><rect x="415.6" width="76.5" height="36.7" fill="#c7ff38"/><rect x="490.9" width="76.5" height="36.7" fill="#fffb00"/><rect x="566.2" width="76.5" height="36.7" fill="#97ff68"/><rect x="641.5" width="76.5" height="36.7" fill="#ffbb00"/><rect x="716.8" width="76.5" height="36.7" fill="#c7ff38"/><rect x="792.1" width="76.5" height="36.7" fill="#f7ff08"/><rect x="867.4" width="76.5" height="36.7" fill="#e7ff18"/><rect x="942.7" width="76.5" height="36.7" fill="#ffeb00"/><rect x="1018" width="76.5" height="36.7" fill="#ffcb00"/><rect x="1093.3" width="76.5" height="36.7" fill="#ffeb00"/><rect x="1168.6" width="76.5" height="36.7" fill="#d7ff28"/><rect x="1260.9" width="75.63" height="36.7" fill="#60ff9f"/><rect x="1335.33" width="75.63" height="36.7" fill="#a3ff5c"/><rect x="1409.76" width="75.63" height="36.7" fill="#a3ff5c"/><rect x="1484.19" width="75.63" height="36.7" fill="#28ffd7"/><rect x="1558.62" width="75.63" height="36.7" fill="#97ff68"/><rect x="1633.05" width="75.63" height="36.7" fill="#7cff83"/><rect x="1707.48" width="75.63" height="36.7" fill="#7cff83"/><rect x="1781.91" width="75.63" height="36.7" fill="#38ffc7"/><rect x="1856.34" width="75.63" height="36.7" fill="#70ff8f"/><rect x="1930.77" width="75.63" height="36.7" fill="#38ffc7"/></g>
<g transform="translate(0,1747.76)"><rect x="340.3" width="76.5" height="36.7" fill="#d7ff28"/><rect x="415.6" width="76.5" height="36.7" fill="#c7ff38"/><rect x="490.9" width="76.5" height="36.7" fill="#6cff93"/><rect x="566.2" width="76.5" height="36.7" fill="#87ff78"/><rect x="641.5" width="76.5" height="36.7" fill="#4cffb3"/><rect x="716.8" width="76.5" height="36.7" fill="#97ff68"/><rect x="792.1" width="76.5" height="36.7" fill="#87ff78"/><rect x="867.4" width="76.5" height="36.7" fill="#97ff68"/><rect x="942.7" width="76.5" height="36.7" fill="#4cffb3"/><rect x="1018" width="76.5" height="36.7" fill="#b7ff48"/><rect x="1093.3" width="76.5" height="36.7" fill="#6cff93"/><rect x="1168.6" width="76.5" height="36.7" fill="#b7ff48"/><rect x="1260.9" width="75.63" height="36.7" fill="#8bff74"/><rect x="1335.33" width="75.63" height="36.7" fill="#97ff68"/><rect x="1409.76" width="75.63" height="36.7" fill="#44ffbb"/><rect x="1484.19" width="75.63" height="36.7" fill="#8bff74"/><rect x="1558.62" width="75.63" height="36.7" fill="#44ffbb"/><rect x="1633.05" width="75.63" height="36.7" fill="#60ff9f"/><rect x="1707.48" width="75.63" height="36.7" fill="#00d7ff"/><rect x="1781.91" width="75.63" height="36.7" fill="#28ffd7"/><rect x="1856.34" width="75.63" height="36.7" fill="#54ffab"/><rect x="1930.77" width="75.63" height="36.7" fill="#54ffab"/></g>
<g transform="translate(0,1783.25)"><rect x="340.3" width="76.5" height="36.7" fill="#c7ff38"/><rect x="415.6" width="76.5" height="36.7" fill="#a7ff58"/><rect x="490.9" width="76.5" height="36.7" fill="#5cffa3"/><rect x="566.2" width="76.5" height="36.7" fill="#6cff93"/><rect x="641.5" width="76.5" height="36.7" fill="#87ff78"/><rect x="716.8" width="76.5" height="36.7" fill="#97ff68"/><rect x="792.1" width="76.5" height="36.7" fill="#c7ff38"/><rect x="867.4" width="76.5" height="36.7" fill="#b7ff48"/><rect x="942.7" width="76.5" height="36.7" fill="#5cffa3"/><rect x="1018" width="76.5" height="36.7" fill="#c7ff38"/><rect x="1093.3" width="76.5" height="36.7" fill="#87ff78"/><rect x="1168.6" width="76.5" height="36.7" fill="#d7ff28"/><rect x="1260.9" width="75.63" height="36.7" fill="#b3ff4c"/><rect x="1335.33" width="75.63" height="36.7" fill="#a3ff5c"/><rect x="1409.76" width="75.63" height="36.7" fill="#28ffd7"/><rect x="1484.19" width="75.63" height="36.7" fill="#60ff9f"/><rect x="1558.62" width="75.63" height="36.7" fill="#60ff9f"/><rect x="1633.05" width="75.63" height="36.7" fill="#70ff8f"/><rect x="1707.48" width="75.63" height="36.7" fill="#00ffff"/><rect x="1781.91" width="75.63" height="36.7" fill="#54ffab"/><rect x="1856.34" width="75.63" height="36.7" fill="#70ff8f"/><rect x="1930.77" width="75.63" height="36.7" fill="#70ff8f"/></g>
<g transform="translate(0,1818.75)"><rect x="340.3" width="76.5" height="36.7" fill="#5cffa3"/><rect x="415.6" width="76.5" height="36.7" fill="#87ff78"/><rect x="490.9" width="76.5" height="36.7" fill="#c7ff38"/><rect x="566.2" width="76.5" height="36.7" fill="#87ff78"/><rect x="641.5" width="76.5" height="36.7" fill="#87ff78"/><rect x="716.8" width="76.5" height="36.7" fill="#ffbb00"/><rect x="792.1" width="76.5" height="36.7" fill="#87ff78"/><rect x="867.4" width="76.5" height="36.7" fill="#6cff93"/><rect x="942.7" width="76.5" height="36.7" fill="#5cffa3"/><rect x="1018" width="76.5" height="36.7" fill="#97ff68"/><rect x="1093.3" width="76.5" height="36.7" fill="#3cffc3"/><rect x="1168.6" width="76.5" height="36.7" fill="#a7ff58"/><rect x="1260.9" width="75.63" height="36.7" fill="#54ffab"/><rect x="1335.33" width="75.63" height="36.7" fill="#8bff74"/><rect x="1409.76" width="75.63" height="36.7" fill="#44ffbb"/><rect x="1484.19" width="75.63" height="36.7" fill="#a3ff5c"/><rect x="1558.62" width="75.63" height="36.7" fill="#60ff9f"/><rect x="1633.05" width="75.63" height="36.7" fill="#44ffbb"/><rect x="1707.48" width="75.63" height="36.7" fill="#00e3ff"/><rect x="1781.91" width="75.63" height="36.7" fill="#38ffc7"/><rect x="1856.34" width="75.63" height="36.7" fill="#44ffbb"/><rect x="1930.77" width="75.63" height="36.7" fill="#28ffd7"/></g>
<g transform="translate(0,1854.25)"><rect x="340.3" width="76.5" height="36.7" fill="#0cfff3"/><rect x="415.6" width="76.5" height="36.7" fill="#b7ff48"/><rect x="490.9" width="76.5" height="36.7" fill="#e30000"/><rect x="566.2" width="76.5" height="36.7" fill="#ff5000"/><rect x="641.5" width="76.5" height="36.7" fill="#ff3000"/><rect x="716.8" width="76.5" height="36.7" fill="#f7ff08"/><rect x="792.1" width="76.5" height="36.7" fill="#6cff93"/><rect x="867.4" width="76.5" height="36.7" fill="#3cffc3"/><rect x="942.7" width="76.5" height="36.7" fill="#0cfff3"/><rect x="1018" width="76.5" height="36.7" fill="#b7ff48"/><rect x="1093.3" width="76.5" height="36.7" fill="#00efff"/><rect x="1168.6" width="76.5" height="36.7" fill="#a7ff58"/><rect x="1260.9" width="75.63" height="36.7" fill="#0cfff3"/><rect x="1335.33" width="75.63" height="36.7" fill="#a3ff5c"/><rect x="1409.76" width="75.63" height="36.7" fill="#a3ff5c"/><rect x="1484.19" width="75.63" height="36.7" fill="#97ff68"/><rect x="1558.62" width="75.63" height="36.7" fill="#f7ff08"/><rect x="1633.05" width="75.63" height="36.7" fill="#1cffe3"/><rect x="1707.48" width="75.63" height="36.7" fill="#0083ff"/><rect x="1781.91" width="75.63" height="36.7" fill="#00d7ff"/><rect x="1856.34" width="75.63" height="36.7" fill="#28ffd7"/><rect x="1930.77" width="75.63" height="36.7" fill="#60ff9f"/></g>
<g transform="translate(0,1889.74)"><rect x="340.3" width="76.5" height="36.7" fill="#0093ff"/><rect x="415.6" width="76.5" height="36.7" fill="#3cffc3"/><rect x="490.9" width="76.5" height="36.7" fill="#5cffa3"/><rect x="566.2" width="76.5" height="36.7" fill="#4cffb3"/><rect x="641.5" width="76.5" height="36.7" fill="#6cff93"/><rect x="716.8" width="76.5" height="36.7" fill="#ff7000"/><rect x="792.1" width="76.5" height="36.7" fill="#5cffa3"/><rect x="867.4" width="76.5" height="36.7" fill="#00efff"/><rect x="942.7" width="76.5" height="36.7" fill="#4cffb3"/><rect x="1018" width="76.5" height="36.7" fill="#87ff78"/><rect x="1093.3" width="76.5" height="36.7" fill="#97ff68"/><rect x="1168.6" width="76.5" height="36.7" fill="#87ff78"/><rect x="1260.9" width="75.63" height="36.7" fill="#8bff74"/><rect x="1335.33" width="75.63" height="36.7" fill="#60ff9f"/><rect x="1409.76" width="75.63" height="36.7" fill="#28ffd7"/><rect x="1484.19" width="75.63" height="36.7" fill="#cfff30"/><rect x="1558.62" width="75.63" height="36.7" fill="#7cff83"/><rect x="1633.05" width="75.63" height="36.7" fill="#38ffc7"/><rect x="1707.48" width="75.63" height="36.7" fill="#00abff"/><rect x="1781.91" width="75.63" height="36.7" fill="#00ffff"/><rect x="1856.34" width="75.63" height="36.7" fill="#28ffd7"/><rect x="1930.77" width="75.63" height="36.7" fill="#38ffc7"/></g>
<g transform="translate(0,1925.24)"><rect x="340.3" width="76.5" height="36.7" fill="#97ff68"/><rect x="415.6" width="76.5" height="36.7" fill="#a7ff58"/><rect x="490.9" width="76.5" height="36.7" fill="#a7ff58"/><rect x="566.2" width="76.5" height="36.7" fill="#a7ff58"/><rect x="641.5" width="76.5" height="36.7" fill="#a7ff58"/><rect x="716.8" width="76.5" height="36.7" fill="#a7ff58"/><rect x="792.1" width="76.5" height="36.7" fill="#a7ff58"/><rect x="867.4" width="76.5" height="36.7" fill="#a7ff58"/><rect x="942.7" width="76.5" height="36.7" fill="#a7ff58"/><rect x="1018" width="76.5" height="36.7" fill="#a7ff58"/><rect x="1093.3" width="76.5" height="36.7" fill="#a7ff58"/><rect x="1168.6" width="76.5" height="36.7" fill="#a7ff58"/><rect x="1260.9" width="75.63" height="36.7" fill="#70ff8f"/><rect x="1335.33" width="75.63" height="36.7" fill="#70ff8f"/><rect x="1409.76" width="75.63" height="36.7" fill="#70ff8f"/><rect x="1484.19" width="75.63" height="36.7" fill="#70ff8f"/><rect x="1558.62" width="75.63" height="36.7" fill="#70ff8f"/><rect x="1633.05" width="75.63" height="36.7" fill="#70ff8f"/><rect x="1707.48" width="75.63" height="36.7" fill="#70ff8f"/><rect x="1781.91" width="75.63" height="36.7" fill="#70ff8f"/><rect x="1856.34" width="75.63" height="36.7" fill="#70ff8f"/><rect x="1930.77" width="75.63" height="36.7" fill="#70ff8f"/></g>
<g transform="translate(0,1960.74)"><rect x="340.3" width="76.5" height="36.7" fill="#0044ff"/><rect x="415.6" width="76.5" height="36.7" fill="#ff4000"/><rect x="490.9" width="76.5" height="36.7" fill="#ffcb00"/><rect x="566.2" width="76.5" height="36.7" fill="#00dfff"/><rect x="641.5" width="76.5" height="36.7" fill="#00cfff"/><rect x="716.8" width="76.5" height="36.7" fill="#c7ff38"/><rect x="792.1" width="76.5" height="36.7" fill="#fffb00"/><rect x="867.4" width="76.5" height="36.7" fill="#ff0400"/><rect x="942.7" width="76.5" height="36.7" fill="#a70000"/><rect x="1018" width="76.5" height="36.7" fill="#ffbb00"/><rect x="1093.3" width="76.5" height="36.7" fill="#ff6000"/><rect x="1168.6" width="76.5" height="36.7" fill="#b7ff48"/><rect x="1260.9" width="75.63" height="36.7" fill="#00e3ff"/><rect x="1335.33" width="75.63" height="36.7" fill="#bfff40"/><rect x="1409.76" width="75.63" height="36.7" fill="#0000a7"/><rect x="1484.19" width="75.63" height="36.7" fill="#00e3ff"/><rect x="1558.62" width="75.63" height="36.7" fill="#bb0000"/><rect x="1633.05" width="75.63" height="36.7" fill="#b3ff4c"/><rect x="1707.48" width="75.63" height="36.7" fill="#44ffbb"/><rect x="1781.91" width="75.63" height="36.7" fill="#8bff74"/><rect x="1856.34" width="75.63" height="36.7" fill="#ffb300"/><rect x="1930.77" width="75.63" height="36.7" fill="#ffdb00"/></g>
<g transform="translate(0,1996.24)"><rect x="340.3" width="76.5" height="36.7" fill="#0064ff"/><rect x="415.6" width="76.5" height="36.7" fill="#a7ff58"/><rect x="490.9" width="76.5" height="36.7" fill="#a7ff58"/><rect x="566.2" width="76.5" height="36.7" fill="#5cffa3"/><rect x="641.5" width="76.5" height="36.7" fill="#b7ff48"/><rect x="716.8" width="76.5" height="36.7" fill="#ffcb00"/><rect x="792.1" width="76.5" height="36.7" fill="#009fff"/><rect x="867.4" width="76.5" height="36.7" fill="#0024ff"/><rect x="942.7" width="76.5" height="36.7" fill="#009fff"/><rect x="1018" width="76.5" height="36.7" fill="#00afff"/><rect x="1093.3" width="76.5" height="36.7" fill="#0093ff"/><rect x="1168.6" width="76.5" height="36.7" fill="#6cff93"/><rect x="1260.9" width="75.63" height="36.7" fill="#70ff8f"/><rect x="1335.33" width="75.63" height="36.7" fill="#70ff8f"/><rect x="1409.76" width="75.63" height="36.7" fill="#54ffab"/><rect x="1484.19" width="75.63" height="36.7" fill="#a3ff5c"/><rect x="1558.62" width="75.63" height="36.7" fill="#a3ff5c"/><rect x="1633.05" width="75.63" height="36.7" fill="#ff9700"/><rect x="1707.48" width="75.63" height="36.7" fill="#1cffe3"/><rect x="1781.91" width="75.63" height="36.7" fill="#38ffc7"/><rect x="1856.34" width="75.63" height="36.7" fill="#00ffff"/><rect x="1930.77" width="75.63" height="36.7" fill="#97ff68"/></g>
<g transform="translate(0,2031.73)"><rect x="340.3" width="76.5" height="36.7" fill="#7cff83"/><rect x="415.6" width="76.5" height="36.7" fill="#87ff78"/><rect x="490.9" width="76.5" height="36.7" fill="#f7ff08"/><rect x="566.2" width="76.5" height="36.7" fill="#6cff93"/><rect x="641.5" width="76.5" height="36.7" fill="#7cff83"/><rect x="716.8" width="76.5" height="36.7" fill="#5cffa3"/><rect x="792.1" width="76.5" height="36.7" fill="#fffb00"/><rect x="867.4" width="76.5" height="36.7" fill="#f7ff08"/><rect x="942.7" width="76.5" height="36.7" fill="#97ff68"/><rect x="1018" width="76.5" height="36.7" fill="#ffeb00"/><rect x="1093.3" width="76.5" height="36.7" fill="#5cffa3"/><rect x="1168.6" width="76.5" height="36.7" fill="#b7ff48"/><rect x="1260.9" width="75.63" height="36.7" fill="#44ffbb"/><rect x="1335.33" width="75.63" height="36.7" fill="#54ffab"/><rect x="1409.76" width="75.63" height="36.7" fill="#00ffff"/><rect x="1484.19" width="75.63" height="36.7" fill="#0074ff"/><rect x="1558.62" width="75.63" height="36.7" fill="#b3ff4c"/><rect x="1633.05" width="75.63" height="36.7" fill="#bfff40"/><rect x="1707.48" width="75.63" height="36.7" fill="#a3ff5c"/><rect x="1781.91" width="75.63" height="36.7" fill="#ffb300"/><rect x="1856.34" width="75.63" height="36.7" fill="#bfff40"/><rect x="1930.77" width="75.63" height="36.7" fill="#bfff40"/></g>
<g transform="translate(0,2067.23)"><rect x="340.3" width="76.5" height="36.7" fill="#3cffc3"/><rect x="415.6" width="76.5" height="36.7" fill="#97ff68"/><rect x="490.9" width="76.5" height="36.7" fill="#6cff93"/><rect x="566.2" width="76.5" height="36.7" fill="#6cff93"/><rect x="641.5" width="76.5" height="36.7" fill="#0cfff3"/><rect x="716.8" width="76.5" height="36.7" fill="#2cffd3"/><rect x="792.1" width="76.5" height="36.7" fill="#a7ff58"/><rect x="867.4" width="76.5" height="36.7" fill="#d7ff28"/><rect x="942.7" width="76.5" height="36.7" fill="#5cffa3"/><rect x="1018" width="76.5" height="36.7" fill="#7cff83"/><rect x="1093.3" width="76.5" height="36.7" fill="#6cff93"/><rect x="1168.6" width="76.5" height="36.7" fill="#5cffa3"/><rect x="1260.9" width="75.63" height="36.7" fill="#7cff83"/><rect x="1335.33" width="75.63" height="36.7" fill="#38ffc7"/><rect x="1409.76" width="75.63" height="36.7" fill="#28ffd7"/><rect x="1484.19" width="75.63" height="36.7" fill="#00d7ff"/><rect x="1558.62" width="75.63" height="36.7" fill="#70ff8f"/><rect x="1633.05" width="75.63" height="36.7" fill="#bfff40"/><rect x="1707.48" width="75.63" height="36.7" fill="#7cff83"/><rect x="1781.91" width="75.63" height="36.7" fill="#ffcf00"/><rect x="1856.34" width="75.63" height="36.7" fill="#cfff30"/><rect x="1930.77" width="75.63" height="36.7" fill="#60ff9f"/></g>
<g transform="translate(0,2102.73)"><rect x="340.3" width="76.5" height="36.7" fill="#6cff93"/><rect x="415.6" width="76.5" height="36.7" fill="#0cfff3"/><rect x="490.9" width="76.5" height="36.7" fill="#87ff78"/><rect x="566.2" width="76.5" height="36.7" fill="#87ff78"/><rect x="641.5" width="76.5" height="36.7" fill="#009fff"/><rect x="716.8" width="76.5" height="36.7" fill="#00bfff"/><rect x="792.1" width="76.5" height="36.7" fill="#97ff68"/><rect x="867.4" width="76.5" height="36.7" fill="#ffdb00"/><rect x="942.7" width="76.5" height="36.7" fill="#2cffd3"/><rect x="1018" width="76.5" height="36.7" fill="#2cffd3"/><rect x="1093.3" width="76.5" height="36.7" fill="#5cffa3"/><rect x="1168.6" width="76.5" height="36.7" fill="#2cffd3"/><rect x="1260.9" width="75.63" height="36.7" fill="#b3ff4c"/><rect x="1335.33" width="75.63" height="36.7" fill="#0cfff3"/><rect x="1409.76" width="75.63" height="36.7" fill="#28ffd7"/><rect x="1484.19" width="75.63" height="36.7" fill="#00d7ff"/><rect x="1558.62" width="75.63" height="36.7" fill="#60ff9f"/><rect x="1633.05" width="75.63" height="36.7" fill="#a3ff5c"/><rect x="1707.48" width="75.63" height="36.7" fill="#dbff24"/><rect x="1781.91" width="75.63" height="36.7" fill="#bb0000"/><rect x="1856.34" width="75.63" height="36.7" fill="#bfff40"/><rect x="1930.77" width="75.63" height="36.7" fill="#b3ff4c"/></g>
<g transform="translate(0,2138.22)"><rect x="340.3" width="76.5" height="36.7" fill="#5cffa3"/><rect x="415.6" width="76.5" height="36.7" fill="#a7ff58"/><rect x="490.9" width="76.5" height="36.7" fill="#ffbb00"/><rect x="566.2" width="76.5" height="36.7" fill="#a7ff58"/><rect x="641.5" width="76.5" height="36.7" fill="#5cffa3"/><rect x="716.8" width="76.5" height="36.7" fill="#3cffc3"/><rect x="792.1" width="76.5" height="36.7" fill="#97ff68"/><rect x="867.4" width="76.5" height="36.7" fill="#87ff78"/><rect x="942.7" width="76.5" height="36.7" fill="#7cff83"/><rect x="1018" width="76.5" height="36.7" fill="#a7ff58"/><rect x="1093.3" width="76.5" height="36.7" fill="#00cfff"/><rect x="1168.6" width="76.5" height="36.7" fill="#00efff"/><rect x="1260.9" width="75.63" height="36.7" fill="#cfff30"/><rect x="1335.33" width="75.63" height="36.7" fill="#70ff8f"/><rect x="1409.76" width="75.63" height="36.7" fill="#00c7ff"/><rect x="1484.19" width="75.63" height="36.7" fill="#0083ff"/><rect x="1558.62" width="75.63" height="36.7" fill="#7cff83"/><rect x="1633.05" width="75.63" height="36.7" fill="#8bff74"/><rect x="1707.48" width="75.63" height="36.7" fill="#97ff68"/><rect x="1781.91" width="75.63" height="36.7" fill="#ff4400"/><rect x="1856.34" width="75.63" height="36.7" fill="#cfff30"/><rect x="1930.77" width="75.63" height="36.7" fill="#b3ff4c"/></g>
<g transform="translate(0,2173.72)"><rect x="340.3" width="76.5" height="36.7" fill="#6cff93"/><rect x="415.6" width="76.5" height="36.7" fill="#4cffb3"/><rect x="490.9" width="76.5" height="36.7" fill="#b7ff48"/><rect x="566.2" width="76.5" height="36.7" fill="#4cffb3"/><rect x="641.5" width="76.5" height="36.7" fill="#6cff93"/><rect x="716.8" width="76.5" height="36.7" fill="#5cffa3"/><rect x="792.1" width="76.5" height="36.7" fill="#0cfff3"/><rect x="867.4" width="76.5" height="36.7" fill="#0cfff3"/><rect x="942.7" width="76.5" height="36.7" fill="#7cff83"/><rect x="1018" width="76.5" height="36.7" fill="#d7ff28"/><rect x="1093.3" width="76.5" height="36.7" fill="#0083ff"/><rect x="1168.6" width="76.5" height="36.7" fill="#0064ff"/><rect x="1260.9" width="75.63" height="36.7" fill="#ebff14"/><rect x="1335.33" width="75.63" height="36.7" fill="#28ffd7"/><rect x="1409.76" width="75.63" height="36.7" fill="#0cfff3"/><rect x="1484.19" width="75.63" height="36.7" fill="#00d7ff"/><rect x="1558.62" width="75.63" height="36.7" fill="#8bff74"/><rect x="1633.05" width="75.63" height="36.7" fill="#8bff74"/><rect x="1707.48" width="75.63" height="36.7" fill="#dbff24"/><rect x="1781.91" width="75.63" height="36.7" fill="#e30000"/><rect x="1856.34" width="75.63" height="36.7" fill="#ffeb00"/><rect x="1930.77" width="75.63" height="36.7" fill="#dbff24"/></g>
<g transform="translate(0,2209.22)"><rect x="340.3" width="76.5" height="36.7" fill="#00efff"/><rect x="415.6" width="76.5" height="36.7" fill="#a7ff58"/><rect x="490.9" width="76.5" height="36.7" fill="#97ff68"/><rect x="566.2" width="76.5" height="36.7" fill="#7cff83"/><rect x="641.5" width="76.5" height="36.7" fill="#87ff78"/><rect x="716.8" width="76.5" height="36.7" fill="#e7ff18"/><rect x="792.1" width="76.5" height="36.7" fill="#ffcb00"/><rect x="867.4" width="76.5" height="36.7" fill="#87ff78"/><rect x="942.7" width="76.5" height="36.7" fill="#7cff83"/><rect x="1018" width="76.5" height="36.7" fill="#87ff78"/><rect x="1093.3" width="76.5" height="36.7" fill="#7cff83"/><rect x="1168.6" width="76.5" height="36.7" fill="#97ff68"/><rect x="1260.9" width="75.63" height="36.7" fill="#60ff9f"/><rect x="1335.33" width="75.63" height="36.7" fill="#38ffc7"/><rect x="1409.76" width="75.63" height="36.7" fill="#97ff68"/><rect x="1484.19" width="75.63" height="36.7" fill="#28ffd7"/><rect x="1558.62" width="75.63" height="36.7" fill="#cfff30"/><rect x="1633.05" width="75.63" height="36.7" fill="#cfff30"/><rect x="1707.48" width="75.63" height="36.7" fill="#00f3ff"/><rect x="1781.91" width="75.63" height="36.7" fill="#44ffbb"/><rect x="1856.34" width="75.63" height="36.7" fill="#7cff83"/><rect x="1930.77" width="75.63" height="36.7" fill="#7cff83"/></g>
<g transform="translate(0,2244.71)"><rect x="340.3" width="76.5" height="36.7" fill="#0cfff3"/><rect x="415.6" width="76.5" height="36.7" fill="#a7ff58"/><rect x="490.9" width="76.5" height="36.7" fill="#c7ff38"/><rect x="566.2" width="76.5" height="36.7" fill="#b7ff48"/><rect x="641.5" width="76.5" height="36.7" fill="#b7ff48"/><rect x="716.8" width="76.5" height="36.7" fill="#a7ff58"/><rect x="792.1" width="76.5" height="36.7" fill="#a7ff58"/><rect x="867.4" width="76.5" height="36.7" fill="#a7ff58"/><rect x="942.7" width="76.5" height="36.7" fill="#97ff68"/><rect x="1018" width="76.5" height="36.7" fill="#a7ff58"/><rect x="1093.3" width="76.5" height="36.7" fill="#c7ff38"/><rect x="1168.6" width="76.5" height="36.7" fill="#c7ff38"/><rect x="1260.9" width="75.63" height="36.7" fill="#70ff8f"/><rect x="1335.33" width="75.63" height="36.7" fill="#70ff8f"/><rect x="1409.76" width="75.63" height="36.7" fill="#70ff8f"/><rect x="1484.19" width="75.63" height="36.7" fill="#70ff8f"/><rect x="1558.62" width="75.63" height="36.7" fill="#7cff83"/><rect x="1633.05" width="75.63" height="36.7" fill="#70ff8f"/><rect x="1707.48" width="75.63" height="36.7" fill="#54ffab"/><rect x="1781.91" width="75.63" height="36.7" fill="#60ff9f"/><rect x="1856.34" width="75.63" height="36.7" fill="#7cff83"/><rect x="1930.77" width="75.63" height="36.7" fill="#8bff74"/></g>
<g transform="translate(0,2280.21)"><rect x="340.3" width="76.5" height="36.7" fill="#0018ff"/><rect x="415.6" width="76.5" height="36.7" fill="#c7ff38"/><rect x="490.9" width="76.5" height="36.7" fill="#97ff68"/><rect x="566.2" width="76.5" height="36.7" fill="#7cff83"/><rect x="641.5" width="76.5" height="36.7" fill="#b7ff48"/><rect x="716.8" width="76.5" height="36.7" fill="#b7ff48"/><rect x="792.1" width="76.5" height="36.7" fill="#a7ff58"/><rect x="867.4" width="76.5" height="36.7" fill="#b7ff48"/><rect x="942.7" width="76.5" height="36.7" fill="#97ff68"/><rect x="1018" width="76.5" height="36.7" fill="#f7ff08"/><rect x="1093.3" width="76.5" height="36.7" fill="#c7ff38"/><rect x="1168.6" width="76.5" height="36.7" fill="#b7ff48"/><rect x="1260.9" width="75.63" height="36.7" fill="#97ff68"/><rect x="1335.33" width="75.63" height="36.7" fill="#44ffbb"/><rect x="1409.76" width="75.63" height="36.7" fill="#7cff83"/><rect x="1484.19" width="75.63" height="36.7" fill="#8bff74"/><rect x="1558.62" width="75.63" height="36.7" fill="#54ffab"/><rect x="1633.05" width="75.63" height="36.7" fill="#7cff83"/><rect x="1707.48" width="75.63" height="36.7" fill="#00c7ff"/><rect x="1781.91" width="75.63" height="36.7" fill="#44ffbb"/><rect x="1856.34" width="75.63" height="36.7" fill="#54ffab"/><rect x="1930.77" width="75.63" height="36.7" fill="#70ff8f"/></g>
<g transform="translate(0,2315.71)"><rect x="340.3" width="76.5" height="36.7" fill="#0000d7"/><rect x="415.6" width="76.5" height="36.7" fill="#a7ff58"/><rect x="490.9" width="76.5" height="36.7" fill="#7cff83"/><rect x="566.2" width="76.5" height="36.7" fill="#e7ff18"/><rect x="641.5" width="76.5" height="36.7" fill="#b7ff48"/><rect x="716.8" width="76.5" height="36.7" fill="#e7ff18"/><rect x="792.1" width="76.5" height="36.7" fill="#d7ff28"/><rect x="867.4" width="76.5" height="36.7" fill="#b7ff48"/><rect x="942.7" width="76.5" height="36.7" fill="#87ff78"/><rect x="1018" width="76.5" height="36.7" fill="#87ff78"/><rect x="1093.3" width="76.5" height="36.7" fill="#b7ff48"/><rect x="1168.6" width="76.5" height="36.7" fill="#87ff78"/><rect x="1260.9" width="75.63" height="36.7" fill="#7cff83"/><rect x="1335.33" width="75.63" height="36.7" fill="#54ffab"/><rect x="1409.76" width="75.63" height="36.7" fill="#97ff68"/><rect x="1484.19" width="75.63" height="36.7" fill="#b3ff4c"/><rect x="1558.62" width="75.63" height="36.7" fill="#54ffab"/><rect x="1633.05" width="75.63" height="36.7" fill="#60ff9f"/><rect x="1707.48" width="75.63" height="36.7" fill="#00d7ff"/><rect x="1781.91" width="75.63" height="36.7" fill="#00e3ff"/><rect x="1856.34" width="75.63" height="36.7" fill="#28ffd7"/><rect x="1930.77" width="75.63" height="36.7" fill="#44ffbb"/></g>
<g transform="translate(0,2351.2)"><rect x="340.3" width="76.5" height="36.7" fill="#6cff93"/><rect x="415.6" width="76.5" height="36.7" fill="#a7ff58"/><rect x="490.9" width="76.5" height="36.7" fill="#5cffa3"/><rect x="566.2" width="76.5" height="36.7" fill="#6cff93"/><rect x="641.5" width="76.5" height="36.7" fill="#a7ff58"/><rect x="716.8" width="76.5" height="36.7" fill="#e7ff18"/><rect x="792.1" width="76.5" height="36.7" fill="#ffdb00"/><rect x="867.4" width="76.5" height="36.7" fill="#2cffd3"/><rect x="942.7" width="76.5" height="36.7" fill="#2cffd3"/><rect x="1018" width="76.5" height="36.7" fill="#87ff78"/><rect x="1093.3" width="76.5" height="36.7" fill="#87ff78"/><rect x="1168.6" width="76.5" height="36.7" fill="#6cff93"/><rect x="1260.9" width="75.63" height="36.7" fill="#44ffbb"/><rect x="1335.33" width="75.63" height="36.7" fill="#7cff83"/><rect x="1409.76" width="75.63" height="36.7" fill="#97ff68"/><rect x="1484.19" width="75.63" height="36.7" fill="#00d7ff"/><rect x="1558.62" width="75.63" height="36.7" fill="#dbff24"/><rect x="1633.05" width="75.63" height="36.7" fill="#fff700"/><rect x="1707.48" width="75.63" height="36.7" fill="#44ffbb"/><rect x="1781.91" width="75.63" height="36.7" fill="#cfff30"/><rect x="1856.34" width="75.63" height="36.7" fill="#97ff68"/><rect x="1930.77" width="75.63" height="36.7" fill="#a3ff5c"/></g>
<g transform="translate(0,2386.7)"><rect x="340.3" width="76.5" height="36.7" fill="#00bfff"/><rect x="415.6" width="76.5" height="36.7" fill="#e7ff18"/><rect x="490.9" width="76.5" height="36.7" fill="#97ff68"/><rect x="566.2" width="76.5" height="36.7" fill="#a7ff58"/><rect x="641.5" width="76.5" height="36.7" fill="#ff8f00"/><rect x="716.8" width="76.5" height="36.7" fill="#b7ff48"/><rect x="792.1" width="76.5" height="36.7" fill="#7cff83"/><rect x="867.4" width="76.5" height="36.7" fill="#5cffa3"/><rect x="942.7" width="76.5" height="36.7" fill="#3cffc3"/><rect x="1018" width="76.5" height="36.7" fill="#a7ff58"/><rect x="1093.3" width="76.5" height="36.7" fill="#5cffa3"/><rect x="1168.6" width="76.5" height="36.7" fill="#c7ff38"/><rect x="1260.9" width="75.63" height="36.7" fill="#00d7ff"/><rect x="1335.33" width="75.63" height="36.7" fill="#dbff24"/><rect x="1409.76" width="75.63" height="36.7" fill="#38ffc7"/><rect x="1484.19" width="75.63" height="36.7" fill="#28ffd7"/><rect x="1558.62" width="75.63" height="36.7" fill="#a3ff5c"/><rect x="1633.05" width="75.63" height="36.7" fill="#97ff68"/><rect x="1707.48" width="75.63" height="36.7" fill="#1cffe3"/><rect x="1781.91" width="75.63" height="36.7" fill="#7cff83"/><rect x="1856.34" width="75.63" height="36.7" fill="#60ff9f"/><rect x="1930.77" width="75.63" height="36.7" fill="#7cff83"/></g>
<g transform="translate(0,2422.2)"><rect x="340.3" width="76.5" height="36.7" fill="#5cffa3"/><rect x="415.6" width="76.5" height="36.7" fill="#ffdb00"/><rect x="490.9" width="76.5" height="36.7" fill="#97ff68"/><rect x="566.2" width="76.5" height="36.7" fill="#ffdb00"/><rect x="641.5" width="76.5" height="36.7" fill="#5cffa3"/><rect x="716.8" width="76.5" height="36.7" fill="#97ff68"/><rect x="792.1" width="76.5" height="36.7" fill="#c7ff38"/><rect x="867.4" width="76.5" height="36.7" fill="#a7ff58"/><rect x="942.7" width="76.5" height="36.7" fill="#a7ff58"/><rect x="1018" width="76.5" height="36.7" fill="#c7ff38"/><rect x="1093.3" width="76.5" height="36.7" fill="#97ff68"/><rect x="1168.6" width="76.5" height="36.7" fill="#a7ff58"/><rect x="1260.9" width="75.63" height="36.7" fill="#7cff83"/><rect x="1335.33" width="75.63" height="36.7" fill="#dbff24"/><rect x="1409.76" width="75.63" height="36.7" fill="#38ffc7"/><rect x="1484.19" width="75.63" height="36.7" fill="#7cff83"/><rect x="1558.62" width="75.63" height="36.7" fill="#97ff68"/><rect x="1633.05" width="75.63" height="36.7" fill="#44ffbb"/><rect x="1707.48" width="75.63" height="36.7" fill="#00ffff"/><rect x="1781.91" width="75.63" height="36.7" fill="#8bff74"/><rect x="1856.34" width="75.63" height="36.7" fill="#70ff8f"/><rect x="1930.77" width="75.63" height="36.7" fill="#70ff8f"/></g>
<g transform="translate(0,2457.7)"><rect x="340.3" width="76.5" height="36.7" fill="#2cffd3"/><rect x="415.6" width="76.5" height="36.7" fill="#b7ff48"/><rect x="490.9" width="76.5" height="36.7" fill="#ff8f00"/><rect x="566.2" width="76.5" height="36.7" fill="#ffab00"/><rect x="641.5" width="76.5" height="36.7" fill="#ffcb00"/><rect x="716.8" width="76.5" height="36.7" fill="#ffcb00"/><rect x="792.1" width="76.5" height="36.7" fill="#ffdb00"/><rect x="867.4" width="76.5" height="36.7" fill="#6cff93"/><rect x="942.7" width="76.5" height="36.7" fill="#1cffe3"/><rect x="1018" width="76.5" height="36.7" fill="#7cff83"/><rect x="1093.3" width="76.5" height="36.7" fill="#f7ff08"/><rect x="1168.6" width="76.5" height="36.7" fill="#a7ff58"/><rect x="1260.9" width="75.63" height="36.7" fill="#54ffab"/><rect x="1335.33" width="75.63" height="36.7" fill="#8bff74"/><rect x="1409.76" width="75.63" height="36.7" fill="#cfff30"/><rect x="1484.19" width="75.63" height="36.7" fill="#54ffab"/><rect x="1558.62" width="75.63" height="36.7" fill="#97ff68"/><rect x="1633.05" width="75.63" height="36.7" fill="#60ff9f"/><rect x="1707.48" width="75.63" height="36.7" fill="#009fff"/><rect x="1781.91" width="75.63" height="36.7" fill="#00f3ff"/><rect x="1856.34" width="75.63" height="36.7" fill="#44ffbb"/><rect x="1930.77" width="75.63" height="36.7" fill="#54ffab"/></g>
<g transform="translate(0,2493.19)"><rect x="340.3" width="76.5" height="36.7" fill="#1cffe3"/><rect x="415.6" width="76.5" height="36.7" fill="#7cff83"/><rect x="490.9" width="76.5" height="36.7" fill="#00cfff"/><rect x="566.2" width="76.5" height="36.7" fill="#ff4000"/><rect x="641.5" width="76.5" height="36.7" fill="#87ff78"/><rect x="716.8" width="76.5" height="36.7" fill="#87ff78"/><rect x="792.1" width="76.5" height="36.7" fill="#1cffe3"/><rect x="867.4" width="76.5" height="36.7" fill="#ffcb00"/><rect x="942.7" width="76.5" height="36.7" fill="#0cfff3"/><rect x="1018" width="76.5" height="36.7" fill="#2cffd3"/><rect x="1093.3" width="76.5" height="36.7" fill="#4cffb3"/><rect x="1168.6" width="76.5" height="36.7" fill="#c7ff38"/><rect x="1260.9" width="75.63" height="36.7" fill="#38ffc7"/><rect x="1335.33" width="75.63" height="36.7" fill="#54ffab"/><rect x="1409.76" width="75.63" height="36.7" fill="#dbff24"/><rect x="1484.19" width="75.63" height="36.7" fill="#ffcf00"/><rect x="1558.62" width="75.63" height="36.7" fill="#00c7ff"/><rect x="1633.05" width="75.63" height="36.7" fill="#1cffe3"/><rect x="1707.48" width="75.63" height="36.7" fill="#00f3ff"/><rect x="1781.91" width="75.63" height="36.7" fill="#44ffbb"/><rect x="1856.34" width="75.63" height="36.7" fill="#7cff83"/><rect x="1930.77" width="75.63" height="36.7" fill="#b3ff4c"/></g>
<g transform="translate(0,2528.69)"><rect x="340.3" width="76.5" height="36.7" fill="#d7ff28"/><rect x="415.6" width="76.5" height="36.7" fill="#97ff68"/><rect x="490.9" width="76.5" height="36.7" fill="#0054ff"/><rect x="566.2" width="76.5" height="36.7" fill="#ff6000"/><rect x="641.5" width="76.5" height="36.7" fill="#ffdb00"/><rect x="716.8" width="76.5" height="36.7" fill="#fffb00"/><rect x="792.1" width="76.5" height="36.7" fill="#87ff78"/><rect x="867.4" width="76.5" height="36.7" fill="#c7ff38"/><rect x="942.7" width="76.5" height="36.7" fill="#5cffa3"/><rect x="1018" width="76.5" height="36.7" fill="#6cff93"/><rect x="1093.3" width="76.5" height="36.7" fill="#87ff78"/><rect x="1168.6" width="76.5" height="36.7" fill="#c7ff38"/><rect x="1260.9" width="75.63" height="36.7" fill="#60ff9f"/><rect x="1335.33" width="75.63" height="36.7" fill="#7cff83"/><rect x="1409.76" width="75.63" height="36.7" fill="#ffdb00"/><rect x="1484.19" width="75.63" height="36.7" fill="#ff6000"/><rect x="1558.62" width="75.63" height="36.7" fill="#38ffc7"/><rect x="1633.05" width="75.63" height="36.7" fill="#44ffbb"/><rect x="1707.48" width="75.63" height="36.7" fill="#60ff9f"/><rect x="1781.91" width="75.63" height="36.7" fill="#97ff68"/><rect x="1856.34" width="75.63" height="36.7" fill="#70ff8f"/><rect x="1930.77" width="75.63" height="36.7" fill="#ebff14"/></g>
<g transform="translate(0,2564.19)"><rect x="340.3" width="76.5" height="36.7" fill="#0054ff"/><rect x="415.6" width="76.5" height="36.7" fill="#009fff"/><rect x="490.9" width="76.5" height="36.7" fill="#00bfff"/><rect x="566.2" width="76.5" height="36.7" fill="#ff7000"/><rect x="641.5" width="76.5" height="36.7" fill="#ff9b00"/><rect x="716.8" width="76.5" height="36.7" fill="#e7ff18"/><rect x="792.1" width="76.5" height="36.7" fill="#ffab00"/><rect x="867.4" width="76.5" height="36.7" fill="#97ff68"/><rect x="942.7" width="76.5" height="36.7" fill="#6cff93"/><rect x="1018" width="76.5" height="36.7" fill="#0cfff3"/><rect x="1093.3" width="76.5" height="36.7" fill="#7cff83"/><rect x="1168.6" width="76.5" height="36.7" fill="#c7ff38"/><rect x="1260.9" width="75.63" height="36.7" fill="#97ff68"/><rect x="1335.33" width="75.63" height="36.7" fill="#7cff83"/><rect x="1409.76" width="75.63" height="36.7" fill="#ffeb00"/><rect x="1484.19" width="75.63" height="36.7" fill="#a3ff5c"/><rect x="1558.62" width="75.63" height="36.7" fill="#00f3ff"/><rect x="1633.05" width="75.63" height="36.7" fill="#8bff74"/><rect x="1707.48" width="75.63" height="36.7" fill="#54ffab"/><rect x="1781.91" width="75.63" height="36.7" fill="#8bff74"/><rect x="1856.34" width="75.63" height="36.7" fill="#b3ff4c"/><rect x="1930.77" width="75.63" height="36.7" fill="#ffc300"/></g>
<g transform="translate(0,2599.68)"><rect x="340.3" width="76.5" height="36.7" fill="#5cffa3"/><rect x="415.6" width="76.5" height="36.7" fill="#c30000"/><rect x="490.9" width="76.5" height="36.7" fill="#ffdb00"/><rect x="566.2" width="76.5" height="36.7" fill="#ff2000"/><rect x="641.5" width="76.5" height="36.7" fill="#ff2000"/><rect x="716.8" width="76.5" height="36.7" fill="#c7ff38"/><rect x="792.1" width="76.5" height="36.7" fill="#c7ff38"/><rect x="867.4" width="76.5" height="36.7" fill="#e7ff18"/><rect x="942.7" width="76.5" height="36.7" fill="#7cff83"/><rect x="1018" width="76.5" height="36.7" fill="#97ff68"/><rect x="1093.3" width="76.5" height="36.7" fill="#97ff68"/><rect x="1168.6" width="76.5" height="36.7" fill="#e7ff18"/><rect x="1260.9" width="75.63" height="36.7" fill="#00bbff"/><rect x="1335.33" width="75.63" height="36.7" fill="#44ffbb"/><rect x="1409.76" width="75.63" height="36.7" fill="#cfff30"/><rect x="1484.19" width="75.63" height="36.7" fill="#7cff83"/><rect x="1558.62" width="75.63" height="36.7" fill="#97ff68"/><rect x="1633.05" width="75.63" height="36.7" fill="#70ff8f"/><rect x="1707.48" width="75.63" height="36.7" fill="#38ffc7"/><rect x="1781.91" width="75.63" height="36.7" fill="#54ffab"/><rect x="1856.34" width="75.63" height="36.7" fill="#7cff83"/><rect x="1930.77" width="75.63" height="36.7" fill="#cfff30"/></g>
<g transform="translate(0,2635.18)"><rect x="340.3" width="76.5" height="36.7" fill="#009fff"/><rect x="415.6" width="76.5" height="36.7" fill="#4cffb3"/><rect x="490.9" width="76.5" height="36.7" fill="#0083ff"/><rect x="566.2" width="76.5" height="36.7" fill="#ff7000"/><rect x="641.5" width="76.5" height="36.7" fill="#b7ff48"/><rect x="716.8" width="76.5" height="36.7" fill="#6cff93"/><rect x="792.1" width="76.5" height="36.7" fill="#e7ff18"/><rect x="867.4" width="76.5" height="36.7" fill="#ffeb00"/><rect x="942.7" width="76.5" height="36.7" fill="#97ff68"/><rect x="1018" width="76.5" height="36.7" fill="#7cff83"/><rect x="1093.3" width="76.5" height="36.7" fill="#4cffb3"/><rect x="1168.6" width="76.5" height="36.7" fill="#97ff68"/><rect x="1260.9" width="75.63" height="36.7" fill="#00e3ff"/><rect x="1335.33" width="75.63" height="36.7" fill="#38ffc7"/><rect x="1409.76" width="75.63" height="36.7" fill="#a3ff5c"/><rect x="1484.19" width="75.63" height="36.7" fill="#dbff24"/><rect x="1558.62" width="75.63" height="36.7" fill="#97ff68"/><rect x="1633.05" width="75.63" height="36.7" fill="#7cff83"/><rect x="1707.48" width="75.63" height="36.7" fill="#60ff9f"/><rect x="1781.91" width="75.63" height="36.7" fill="#8bff74"/><rect x="1856.34" width="75.63" height="36.7" fill="#b3ff4c"/><rect x="1930.77" width="75.63" height="36.7" fill="#dbff24"/></g>
<g transform="translate(0,2670.68)"><rect x="340.3" width="76.5" height="36.7" fill="#0044ff"/><rect x="415.6" width="76.5" height="36.7" fill="#a7ff58"/><rect x="490.9" width="76.5" height="36.7" fill="#87ff78"/><rect x="566.2" width="76.5" height="36.7" fill="#a7ff58"/><rect x="641.5" width="76.5" height="36.7" fill="#b7ff48"/><rect x="716.8" width="76.5" height="36.7" fill="#ffeb00"/><rect x="792.1" width="76.5" height="36.7" fill="#6cff93"/><rect x="867.4" width="76.5" height="36.7" fill="#1cffe3"/><rect x="942.7" width="76.5" height="36.7" fill="#5cffa3"/><rect x="1018" width="76.5" height="36.7" fill="#97ff68"/><rect x="1093.3" width="76.5" height="36.7" fill="#4cffb3"/><rect x="1168.6" width="76.5" height="36.7" fill="#7cff83"/><rect x="1260.9" width="75.63" height="36.7" fill="#a3ff5c"/><rect x="1335.33" width="75.63" height="36.7" fill="#60ff9f"/><rect x="1409.76" width="75.63" height="36.7" fill="#60ff9f"/><rect x="1484.19" width="75.63" height="36.7" fill="#7cff83"/><rect x="1558.62" width="75.63" height="36.7" fill="#70ff8f"/><rect x="1633.05" width="75.63" height="36.7" fill="#60ff9f"/><rect x="1707.48" width="75.63" height="36.7" fill="#38ffc7"/><rect x="1781.91" width="75.63" height="36.7" fill="#70ff8f"/><rect x="1856.34" width="75.63" height="36.7" fill="#1cffe3"/><rect x="1930.77" width="75.63" height="36.7" fill="#1cffe3"/></g>
<g transform="translate(0,2706.18)"><rect x="340.3" width="76.5" height="36.7" fill="#1cffe3"/><rect x="415.6" width="76.5" height="36.7" fill="#b7ff48"/><rect x="490.9" width="76.5" height="36.7" fill="#0093ff"/><rect x="566.2" width="76.5" height="36.7" fill="#6cff93"/><rect x="641.5" width="76.5" height="36.7" fill="#97ff68"/><rect x="716.8" width="76.5" height="36.7" fill="#c7ff38"/><rect x="792.1" width="76.5" height="36.7" fill="#97ff68"/><rect x="867.4" width="76.5" height="36.7" fill="#fffb00"/><rect x="942.7" width="76.5" height="36.7" fill="#97ff68"/><rect x="1018" width="76.5" height="36.7" fill="#d7ff28"/><rect x="1093.3" width="76.5" height="36.7" fill="#87ff78"/><rect x="1168.6" width="76.5" height="36.7" fill="#d7ff28"/><rect x="1260.9" width="75.63" height="36.7" fill="#b3ff4c"/><rect x="1335.33" width="75.63" height="36.7" fill="#70ff8f"/><rect x="1409.76" width="75.63" height="36.7" fill="#b3ff4c"/><rect x="1484.19" width="75.63" height="36.7" fill="#ebff14"/><rect x="1558.62" width="75.63" height="36.7" fill="#8bff74"/><rect x="1633.05" width="75.63" height="36.7" fill="#1cffe3"/><rect x="1707.48" width="75.63" height="36.7" fill="#00c7ff"/><rect x="1781.91" width="75.63" height="36.7" fill="#60ff9f"/><rect x="1856.34" width="75.63" height="36.7" fill="#28ffd7"/><rect x="1930.77" width="75.63" height="36.7" fill="#00ffff"/></g>
<g transform="translate(0,2741.67)"><rect x="340.3" width="76.5" height="36.7" fill="#0074ff"/><rect x="415.6" width="76.5" height="36.7" fill="#a7ff58"/><rect x="490.9" width="76.5" height="36.7" fill="#a7ff58"/><rect x="566.2" width="76.5" height="36.7" fill="#5cffa3"/><rect x="641.5" width="76.5" height="36.7" fill="#b7ff48"/><rect x="716.8" width="76.5" height="36.7" fill="#ffcb00"/><rect x="792.1" width="76.5" height="36.7" fill="#0093ff"/><rect x="867.4" width="76.5" height="36.7" fill="#0024ff"/><rect x="942.7" width="76.5" height="36.7" fill="#0083ff"/><rect x="1018" width="76.5" height="36.7" fill="#0093ff"/><rect x="1093.3" width="76.5" height="36.7" fill="#0083ff"/><rect x="1168.6" width="76.5" height="36.7" fill="#6cff93"/><rect x="1260.9" width="75.63" height="36.7" fill="#70ff8f"/><rect x="1335.33" width="75.63" height="36.7" fill="#70ff8f"/><rect x="1409.76" width="75.63" height="36.7" fill="#54ffab"/><rect x="1484.19" width="75.63" height="36.7" fill="#a3ff5c"/><rect x="1558.62" width="75.63" height="36.7" fill="#a3ff5c"/><rect x="1633.05" width="75.63" height="36.7" fill="#ff8b00"/><rect x="1707.48" width="75.63" height="36.7" fill="#1cffe3"/><rect x="1781.91" width="75.63" height="36.7" fill="#38ffc7"/><rect x="1856.34" width="75.63" height="36.7" fill="#00f3ff"/><rect x="1930.77" width="75.63" height="36.7" fill="#97ff68"/></g>
<g transform="translate(0,2777.17)"><rect x="340.3" width="76.5" height="36.7" fill="#0024ff"/><rect x="415.6" width="76.5" height="36.7" fill="#b7ff48"/><rect x="490.9" width="76.5" height="36.7" fill="#ffeb00"/><rect x="566.2" width="76.5" height="36.7" fill="#f7ff08"/><rect x="641.5" width="76.5" height="36.7" fill="#7cff83"/><rect x="716.8" width="76.5" height="36.7" fill="#a7ff58"/><rect x="792.1" width="76.5" height="36.7" fill="#97ff68"/><rect x="867.4" width="76.5" height="36.7" fill="#7cff83"/><rect x="942.7" width="76.5" height="36.7" fill="#4cffb3"/><rect x="1018" width="76.5" height="36.7" fill="#a7ff58"/><rect x="1093.3" width="76.5" height="36.7" fill="#6cff93"/><rect x="1168.6" width="76.5" height="36.7" fill="#a7ff58"/><rect x="1260.9" width="75.63" height="36.7" fill="#bfff40"/><rect x="1335.33" width="75.63" height="36.7" fill="#b3ff4c"/><rect x="1409.76" width="75.63" height="36.7" fill="#b3ff4c"/><rect x="1484.19" width="75.63" height="36.7" fill="#97ff68"/><rect x="1558.62" width="75.63" height="36.7" fill="#44ffbb"/><rect x="1633.05" width="75.63" height="36.7" fill="#97ff68"/><rect x="1707.48" width="75.63" height="36.7" fill="#00ffff"/><rect x="1781.91" width="75.63" height="36.7" fill="#00d7ff"/><rect x="1856.34" width="75.63" height="36.7" fill="#0cfff3"/><rect x="1930.77" width="75.63" height="36.7" fill="#00ffff"/></g>
<g transform="translate(0,2812.67)"><rect x="340.3" width="76.5" height="36.7" fill="#0044ff"/><rect x="415.6" width="76.5" height="36.7" fill="#d7ff28"/><rect x="490.9" width="76.5" height="36.7" fill="#97ff68"/><rect x="566.2" width="76.5" height="36.7" fill="#97ff68"/><rect x="641.5" width="76.5" height="36.7" fill="#7cff83"/><rect x="716.8" width="76.5" height="36.7" fill="#e7ff18"/><rect x="792.1" width="76.5" height="36.7" fill="#a7ff58"/><rect x="867.4" width="76.5" height="36.7" fill="#6cff93"/><rect x="942.7" width="76.5" height="36.7" fill="#5cffa3"/><rect x="1018" width="76.5" height="36.7" fill="#97ff68"/><rect x="1093.3" width="76.5" height="36.7" fill="#5cffa3"/><rect x="1168.6" width="76.5" height="36.7" fill="#5cffa3"/><rect x="1260.9" width="75.63" height="36.7" fill="#b3ff4c"/><rect x="1335.33" width="75.63" height="36.7" fill="#60ff9f"/><rect x="1409.76" width="75.63" height="36.7" fill="#8bff74"/><rect x="1484.19" width="75.63" height="36.7" fill="#a3ff5c"/><rect x="1558.62" width="75.63" height="36.7" fill="#00ffff"/><rect x="1633.05" width="75.63" height="36.7" fill="#8bff74"/><rect x="1707.48" width="75.63" height="36.7" fill="#00c7ff"/><rect x="1781.91" width="75.63" height="36.7" fill="#00e3ff"/><rect x="1856.34" width="75.63" height="36.7" fill="#00d7ff"/><rect x="1930.77" width="75.63" height="36.7" fill="#28ffd7"/></g>
<g transform="translate(0,2848.16)"><rect x="340.3" width="76.5" height="36.7" fill="#00bfff"/><rect x="415.6" width="76.5" height="36.7" fill="#5cffa3"/><rect x="490.9" width="76.5" height="36.7" fill="#5cffa3"/><rect x="566.2" width="76.5" height="36.7" fill="#c7ff38"/><rect x="641.5" width="76.5" height="36.7" fill="#ffcb00"/><rect x="716.8" width="76.5" height="36.7" fill="#f7ff08"/><rect x="792.1" width="76.5" height="36.7" fill="#ffbb00"/><rect x="867.4" width="76.5" height="36.7" fill="#ffbb00"/><rect x="942.7" width="76.5" height="36.7" fill="#c7ff38"/><rect x="1018" width="76.5" height="36.7" fill="#87ff78"/><rect x="1093.3" width="76.5" height="36.7" fill="#6cff93"/><rect x="1168.6" width="76.5" height="36.7" fill="#3cffc3"/><rect x="1260.9" width="75.63" height="36.7" fill="#00d7ff"/><rect x="1335.33" width="75.63" height="36.7" fill="#44ffbb"/><rect x="1409.76" width="75.63" height="36.7" fill="#8bff74"/><rect x="1484.19" width="75.63" height="36.7" fill="#ffb300"/><rect x="1558.62" width="75.63" height="36.7" fill="#54ffab"/><rect x="1633.05" width="75.63" height="36.7" fill="#28ffd7"/><rect x="1707.48" width="75.63" height="36.7" fill="#8bff74"/><rect x="1781.91" width="75.63" height="36.7" fill="#a3ff5c"/><rect x="1856.34" width="75.63" height="36.7" fill="#bfff40"/><rect x="1930.77" width="75.63" height="36.7" fill="#b3ff4c"/></g>
<g transform="translate(0,2883.66)"><rect x="340.3" width="76.5" height="36.7" fill="#0008ff"/><rect x="415.6" width="76.5" height="36.7" fill="#2cffd3"/><rect x="490.9" width="76.5" height="36.7" fill="#6cff93"/><rect x="566.2" width="76.5" height="36.7" fill="#97ff68"/><rect x="641.5" width="76.5" height="36.7" fill="#d7ff28"/><rect x="716.8" width="76.5" height="36.7" fill="#ff8000"/><rect x="792.1" width="76.5" height="36.7" fill="#ffdb00"/><rect x="867.4" width="76.5" height="36.7" fill="#97ff68"/><rect x="942.7" width="76.5" height="36.7" fill="#ffbb00"/><rect x="1018" width="76.5" height="36.7" fill="#b7ff48"/><rect x="1093.3" width="76.5" height="36.7" fill="#5cffa3"/><rect x="1168.6" width="76.5" height="36.7" fill="#5cffa3"/><rect x="1260.9" width="75.63" height="36.7" fill="#00d7ff"/><rect x="1335.33" width="75.63" height="36.7" fill="#44ffbb"/><rect x="1409.76" width="75.63" height="36.7" fill="#cfff30"/><rect x="1484.19" width="75.63" height="36.7" fill="#97ff68"/><rect x="1558.62" width="75.63" height="36.7" fill="#00e3ff"/><rect x="1633.05" width="75.63" height="36.7" fill="#b3ff4c"/><rect x="1707.48" width="75.63" height="36.7" fill="#8bff74"/><rect x="1781.91" width="75.63" height="36.7" fill="#bfff40"/><rect x="1856.34" width="75.63" height="36.7" fill="#a3ff5c"/><rect x="1930.77" width="75.63" height="36.7" fill="#bfff40"/></g>
<g transform="translate(0,2919.16)"><rect x="340.3" width="76.5" height="36.7" fill="#97ff68"/><rect x="415.6" width="76.5" height="36.7" fill="#b7ff48"/><rect x="490.9" width="76.5" height="36.7" fill="#a7ff58"/><rect x="566.2" width="76.5" height="36.7" fill="#e7ff18"/><rect x="641.5" width="76.5" height="36.7" fill="#b7ff48"/><rect x="716.8" width="76.5" height="36.7" fill="#b7ff48"/><rect x="792.1" width="76.5" height="36.7" fill="#e7ff18"/><rect x="867.4" width="76.5" height="36.7" fill="#a7ff58"/><rect x="942.7" width="76.5" height="36.7" fill="#c7ff38"/><rect x="1018" width="76.5" height="36.7" fill="#f7ff08"/><rect x="1093.3" width="76.5" height="36.7" fill="#c7ff38"/><rect x="1168.6" width="76.5" height="36.7" fill="#e7ff18"/><rect x="1260.9" width="75.63" height="36.7" fill="#0cfff3"/><rect x="1335.33" width="75.63" height="36.7" fill="#70ff8f"/><rect x="1409.76" width="75.63" height="36.7" fill="#7cff83"/><rect x="1484.19" width="75.63" height="36.7" fill="#44ffbb"/><rect x="1558.62" width="75.63" height="36.7" fill="#54ffab"/><rect x="1633.05" width="75.63" height="36.7" fill="#60ff9f"/><rect x="1707.48" width="75.63" height="36.7" fill="#44ffbb"/><rect x="1781.91" width="75.63" height="36.7" fill="#60ff9f"/><rect x="1856.34" width="75.63" height="36.7" fill="#97ff68"/><rect x="1930.77" width="75.63" height="36.7" fill="#70ff8f"/></g>
</g>
<g class="c">
<g transform="translate(0,69.01)"><text x="377.95">0.3</text><text x="453.25">0.3</text><text x="528.55">0.1</text><text x="603.85">-0.1</text><text x="679.15">0.5</text><text x="754.45">-0.0</text><text x="829.75">0.5</text><text x="905.05">-0.3</text><text x="980.35">0.1</text><text x="1055.65">-0.3</text><text x="1130.95">-0.1</text><text x="1206.25">-0.2</text><text x="1298.12">-0.1</text><text x="1372.55">-0.1</text><text x="1446.98">0.3</text><text x="1521.41">0.2</text><text x="1595.84">-0.2</text><text x="1670.27">0.2</text><text x="1744.7">-0.3</text><text x="1819.12">-0.4</text><text x="1893.56">-0.3</text><text x="1967.99">-0.5</text></g>
<g transform="translate(0,104.51)"><text x="377.95">0.1</text><text x="453.25">-0.1</text><text x="528.55">-0.1</text><text x="603.85">-0.1</text><text x="679.15">-0.2</text><text x="754.45">-1.1</text><text x="829.75">-1.1</text><text x="905.05">-0.7</text><text x="980.35">-0.7</text><text x="1055.65">-1.0</text><text x="1130.95">0.4</text><text x="1206.25">0.2</text><text x="1298.12">-0.3</text><text x="1372.55">-0.1</text><text x="1446.98">0.3</text><text x="1521.41">-0.3</text><text x="1595.84">-0.2</text><text x="1670.27">0.6</text><text x="1744.7">-1.2</text><text x="1819.12" class="w">-1.4</text><text x="1893.56">-0.1</text><text x="1967.99">-0.3</text></g>
<g transform="translate(0,140.01)"><text x="377.95">1.4</text><text x="453.25">-0.1</text><text x="528.55">0.8</text><text x="603.85">0.1</text><text x="679.15" class="w">2.6</text><text x="754.45">0.8</text><text x="829.75" class="w">1.8</text><text x="905.05">1.3</text><text x="980.35">1.4</text><text x="1055.65" class="w">1.8</text><text x="1130.95" class="w">1.9</text><text x="1206.25" class="w">1.8</text><text x="1298.12">0.8</text><text x="1372.55">0.8</text><text x="1446.98">-0.3</text><text x="1521.41">-0.1</text><text x="1595.84">1.3</text><text x="1670.27">1.2</text><text x="1744.7">0.6</text><text x="1819.12">0.8</text><text x="1893.56">0.7</text><text x="1967.99">1.2</text></g>
<g transform="translate(0,175.5)"><text x="377.95">0.1</text><text x="453.25">0.1</text><text x="528.55">0.2</text><text x="603.85">-0.1</text><text x="679.15">0.8</text><text x="754.45">0.2</text><text x="829.75">0.7</text><text x="905.05">0.1</text><text x="980.35">-0.1</text><text x="1055.65">-0.0</text><text x="1130.95">0.1</text><text x="1206.25">-0.1</text><text x="1298.12">0.0</text><text x="1372.55">-0.1</text><text x="1446.98">0.3</text><text x="1521.41">0.2</text><text x="1595.84">-0.1</text><text x="1670.27">0.3</text><text x="1744.7">-0.2</text><text x="1819.12">-0.2</text><text x="1893.56">-0.2</text><text x="1967.99">-0.3</text></g>
<g transform="translate(0,211)"><text x="377.95">0.5</text><text x="453.25">0.4</text><text x="528.55">0.4</text><text x="603.85">-0.2</text><text x="679.15">1.0</text><text x="754.45">0.1</text><text x="829.75">0.8</text><text x="905.05">0.0</text><text x="980.35">0.3</text><text x="1055.65">0.1</text><text x="1130.95">0.2</text><text x="1206.25">-0.1</text><text x="1298.12">-0.1</text><text x="1372.55">-0.3</text><text x="1446.98">-0.0</text><text x="1521.41">-0.1</text><text x="1595.84">-0.2</text><text x="1670.27">-0.0</text><text x="1744.7">-0.0</text><text x="1819.12">-0.2</text><text x="1893.56">-0.1</text><text x="1967.99">-0.2</text></g>
<g transform="translate(0,246.5)"><text x="377.95">0.5</text><text x="453.25">-0.2</text><text x="528.55">-0.4</text><text x="603.85">-0.1</text><text x="679.15">0.2</text><text x="754.45">0.1</text><text x="829.75">-0.1</text><text x="905.05">-0.2</text><text x="980.35">0.6</text><text x="1055.65">0.2</text><text x="1130.95">1.1</text><text x="1206.25">0.6</text><text x="1298.12">-0.4</text><text x="1372.55">-0.5</text><text x="1446.98">-0.0</text><text x="1521.41">-0.5</text><text x="1595.84">0.2</text><text x="1670.27">0.1</text><text x="1744.7">0.1</text><text x="1819.12">0.3</text><text x="1893.56">-1.1</text><text x="1967.99">-0.4</text></g>
<g transform="translate(0,282)"><text x="377.95">-0.0</text><text x="453.25">-0.0</text><text x="528.55">0.0</text><text x="603.85">0.0</text><text x="679.15">0.3</text><text x="754.45">0.0</text><text x="829.75">0.4</text><text x="905.05">-0.0</text><text x="980.35">-0.2</text><text x="1055.65">-0.2</text><text x="1130.95">-0.2</text><text x="1206.25">-0.2</text><text x="1298.12">-0.0</text><text x="1372.55">-0.1</text><text x="1446.98">0.2</text><text x="1521.41">0.2</text><text x="1595.84">-0.1</text><text x="1670.27">0.2</text><text x="1744.7">-0.6</text><text x="1819.12">-0.5</text><text x="1893.56">-0.2</text><text x="1967.99">-0.4</text></g>
<g transform="translate(0,317.49)"><text x="377.95">-0.1</text><text x="453.25">-0.0</text><text x="528.55">-0.0</text><text x="603.85">-0.1</text><text x="679.15">0.4</text><text x="754.45">0.0</text><text x="829.75">0.6</text><text x="905.05">-0.2</text><text x="980.35">-0.6</text><text x="1055.65">-0.9</text><text x="1130.95">-0.9</text><text x="1206.25">-0.3</text><text x="1298.12">-0.4</text><text x="1372.55">-0.1</text><text x="1446.98">0.0</text><text x="1521.41">0.2</text><text x="1595.84">-0.3</text><text x="1670.27">0.2</text><text x="1744.7">-0.3</text><text x="1819.12">-0.3</text><text x="1893.56">-0.1</text><text x="1967.99">-0.1</text></g>
<g transform="translate(0,352.99)"><text x="377.95">0.5</text><text x="453.25">-0.1</text><text x="528.55">-0.4</text><text x="603.85">-0.1</text><text x="679.15">-0.1</text><text x="754.45">0.1</text><text x="829.75">-0.5</text><text x="905.05">-0.1</text><text x="980.35">0.9</text><text x="1055.65">0.4</text><text x="1130.95">1.3</text><text x="1206.25">0.8</text><text x="1298.12">-0.4</text><text x="1372.55">-0.5</text><text x="1446.98">-0.3</text><text x="1521.41">-0.7</text><text x="1595.84">0.3</text><text x="1670.27">-0.2</text><text x="1744.7">0.7</text><text x="1819.12">0.8</text><text x="1893.56">-0.8</text><text x="1967.99">0.0</text></g>
<g transform="translate(0,388.49)"><text x="377.95">0.2</text><text x="453.25">0.5</text><text x="528.55">0.5</text><text x="603.85">-0.2</text><text x="679.15">0.7</text><text x="754.45">0.0</text><text x="829.75">0.9</text><text x="905.05">0.1</text><text x="980.35">-0.2</text><text x="1055.65">0.0</text><text x="1130.95">-0.5</text><text x="1206.25">-0.4</text><text x="1298.12">0.2</text><text x="1372.55">0.1</text><text x="1446.98">-0.1</text><text x="1521.41">0.2</text><text x="1595.84">-0.3</text><text x="1670.27">-0.2</text><text x="1744.7">0.0</text><text x="1819.12">-0.3</text><text x="1893.56">0.7</text><text x="1967.99">0.3</text></g>
<g transform="translate(0,423.98)"><text x="377.95" class="w">1.8</text><text x="453.25">-0.1</text><text x="528.55">1.5</text><text x="603.85">-0.4</text><text x="679.15" class="w">2.3</text><text x="754.45">-1.2</text><text x="829.75">1.3</text><text x="905.05">1.5</text><text x="980.35">0.9</text><text x="1055.65">1.2</text><text x="1130.95">0.9</text><text x="1206.25">1.1</text><text x="1298.12">-0.3</text><text x="1372.55">0.1</text><text x="1446.98">1.4</text><text x="1521.41">0.0</text><text x="1595.84">1.2</text><text x="1670.27">1.2</text><text x="1744.7">1.2</text><text x="1819.12">0.9</text><text x="1893.56">1.3</text><text x="1967.99">1.2</text></g>
<g transform="translate(0,459.48)"><text x="377.95" class="w">2.3</text><text x="453.25">-0.2</text><text x="528.55" class="w">2.1</text><text x="603.85">-0.2</text><text x="679.15" class="w">3.1</text><text x="754.45" class="w">-3.5</text><text x="829.75">1.4</text><text x="905.05">1.5</text><text x="980.35">0.9</text><text x="1055.65">1.3</text><text x="1130.95">1.0</text><text x="1206.25">1.4</text><text x="1298.12">-0.4</text><text x="1372.55">0.1</text><text x="1446.98">1.2</text><text x="1521.41">0.1</text><text x="1595.84">0.8</text><text x="1670.27">1.0</text><text x="1744.7">1.7</text><text x="1819.12">1.7</text><text x="1893.56">1.0</text><text x="1967.99">1.4</text></g>
<g transform="translate(0,494.98)"><text x="377.95">1.4</text><text x="453.25">0.0</text><text x="528.55">0.9</text><text x="603.85">-0.2</text><text x="679.15">1.6</text><text x="754.45">-0.9</text><text x="829.75">1.3</text><text x="905.05">-0.3</text><text x="980.35" class="w">1.7</text><text x="1055.65">0.4</text><text x="1130.95">1.2</text><text x="1206.25">0.0</text><text x="1298.12">0.1</text><text x="1372.55">0.6</text><text x="1446.98">1.2</text><text x="1521.41">-0.1</text><text x="1595.84">1.0</text><text x="1670.27">-0.5</text><text x="1744.7">1.0</text><text x="1819.12">-0.9</text><text x="1893.56">1.0</text><text x="1967.99">-0.4</text></g>
<g transform="translate(0,530.47)"><text x="377.95">0.7</text><text x="453.25">-0.4</text><text x="528.55">1.2</text><text x="603.85">0.5</text><text x="679.15">1.2</text><text x="754.45">-0.7</text><text x="829.75" class="w">2.6</text><text x="905.05">0.7</text><text x="980.35" class="w">2.5</text><text x="1055.65" class="w">2.0</text><text x="1130.95">1.7</text><text x="1206.25">0.5</text><text x="1298.12">0.4</text><text x="1372.55" class="w">-2.7</text><text x="1446.98" class="w">-2.3</text><text x="1521.41" class="w">-2.0</text><text x="1595.84" class="w">-3.0</text><text x="1670.27">-0.7</text><text x="1744.7">1.0</text><text x="1819.12">-0.2</text><text x="1893.56">0.8</text><text x="1967.99">-0.3</text></g>
<g transform="translate(0,565.97)"><text x="377.95">1.1</text><text x="453.25">0.4</text><text x="528.55">0.8</text><text x="603.85">0.1</text><text x="679.15">0.7</text><text x="754.45">-0.6</text><text x="829.75">0.6</text><text x="905.05">0.3</text><text x="980.35">1.2</text><text x="1055.65">1.0</text><text x="1130.95">1.1</text><text x="1206.25">0.7</text><text x="1298.12">-0.5</text><text x="1372.55">0.2</text><text x="1446.98">0.8</text><text x="1521.41">-1.0</text><text x="1595.84">1.2</text><text x="1670.27">0.1</text><text x="1744.7">1.5</text><text x="1819.12">0.6</text><text x="1893.56">0.7</text><text x="1967.99">-0.1</text></g>
<g transform="translate(0,601.47)"><text x="377.95">1.4</text><text x="453.25">0.9</text><text x="528.55">1.0</text><text x="603.85">0.4</text><text x="679.15">1.1</text><text x="754.45">-0.1</text><text x="829.75">1.1</text><text x="905.05">0.7</text><text x="980.35" class="w">2.7</text><text x="1055.65">1.3</text><text x="1130.95">1.0</text><text x="1206.25">1.0</text><text x="1298.12">-0.2</text><text x="1372.55" class="w">-2.1</text><text x="1446.98">0.6</text><text x="1521.41">-0.6</text><text x="1595.84">1.0</text><text x="1670.27">0.0</text><text x="1744.7" class="w">-2.3</text><text x="1819.12">0.5</text><text x="1893.56">1.2</text><text x="1967.99">0.1</text></g>
<g transform="translate(0,636.97)"><text x="377.95">1.2</text><text x="453.25">0.5</text><text x="528.55">1.1</text><text x="603.85">0.1</text><text x="679.15">1.5</text><text x="754.45">-1.0</text><text x="829.75">0.6</text><text x="905.05">-1.3</text><text x="980.35" class="w">2.1</text><text x="1055.65">-0.7</text><text x="1130.95">0.3</text><text x="1206.25" class="w">-1.5</text><text x="1298.12">0.1</text><text x="1372.55">0.8</text><text x="1446.98">0.5</text><text x="1521.41">-1.2</text><text x="1595.84">1.8</text><text x="1670.27">0.1</text><text x="1744.7">0.6</text><text x="1819.12">-1.4</text><text x="1893.56">1.2</text><text x="1967.99">-0.3</text></g>
<g transform="translate(0,672.46)"><text x="377.95">-0.3</text><text x="453.25">-0.0</text><text x="528.55">-0.1</text><text x="603.85">0.0</text><text x="679.15">-0.3</text><text x="754.45">-1.0</text><text x="829.75">1.2</text><text x="905.05">-0.2</text><text x="980.35">1.6</text><text x="1055.65">0.3</text><text x="1130.95">1.1</text><text x="1206.25">-0.2</text><text x="1298.12">-0.4</text><text x="1372.55">0.0</text><text x="1446.98">-0.3</text><text x="1521.41">-0.6</text><text x="1595.84" class="w">-1.5</text><text x="1670.27">-0.3</text><text x="1744.7">0.8</text><text x="1819.12">-0.9</text><text x="1893.56">1.3</text><text x="1967.99">-0.1</text></g>
<g transform="translate(0,707.96)"><text x="377.95">1.3</text><text x="453.25">0.3</text><text x="528.55">1.6</text><text x="603.85">0.7</text><text x="679.15">0.8</text><text x="754.45">-1.3</text><text x="829.75">0.4</text><text x="905.05">1.4</text><text x="980.35">0.4</text><text x="1055.65">1.2</text><text x="1130.95">0.0</text><text x="1206.25">1.1</text><text x="1298.12">0.1</text><text x="1372.55">0.6</text><text x="1446.98">0.6</text><text x="1521.41" class="w">-3.6</text><text x="1595.84">1.4</text><text x="1670.27">1.3</text><text x="1744.7">0.4</text><text x="1819.12">1.0</text><text x="1893.56">0.1</text><text x="1967.99">-0.2</text></g>
<g transform="translate(0,743.46)"><text x="377.95">0.4</text><text x="453.25">-0.3</text><text x="528.55">1.1</text><text x="603.85">-0.7</text><text x="679.15" class="w">2.3</text><text x="754.45" class="w">-2.0</text><text x="829.75">0.9</text><text x="905.05">1.6</text><text x="980.35">0.9</text><text x="1055.65">1.5</text><text x="1130.95">1.1</text><text x="1206.25">1.5</text><text x="1298.12" class="w">-1.7</text><text x="1372.55">-0.1</text><text x="1446.98">1.4</text><text x="1521.41">0.1</text><text x="1595.84">-0.1</text><text x="1670.27">1.7</text><text x="1744.7">1.6</text><text x="1819.12">2.2</text><text x="1893.56">1.1</text><text x="1967.99">1.7</text></g>
<g transform="translate(0,778.95)"><text x="377.95" class="w">2.6</text><text x="453.25">-0.4</text><text x="528.55">1.6</text><text x="603.85" class="w">-1.6</text><text x="679.15" class="w">2.3</text><text x="754.45" class="w">-2.2</text><text x="829.75" class="w">2.3</text><text x="905.05" class="w">3.1</text><text x="980.35">1.2</text><text x="1055.65" class="w">1.7</text><text x="1130.95">1.3</text><text x="1206.25" class="w">1.8</text><text x="1298.12">-1.0</text><text x="1372.55">0.3</text><text x="1446.98">0.6</text><text x="1521.41">-0.6</text><text x="1595.84">-1.2</text><text x="1670.27" class="w">3.8</text><text x="1744.7" class="w">2.6</text><text x="1819.12" class="w">3.2</text><text x="1893.56">1.2</text><text x="1967.99">2.1</text></g>
<g transform="translate(0,814.45)"><text x="377.95">1.0</text><text x="453.25">0.0</text><text x="528.55">1.3</text><text x="603.85">-0.1</text><text x="679.15">0.9</text><text x="754.45" class="w">-2.9</text><text x="829.75">0.9</text><text x="905.05">-0.6</text><text x="980.35">0.8</text><text x="1055.65">0.8</text><text x="1130.95">0.0</text><text x="1206.25">0.0</text><text x="1298.12">-0.9</text><text x="1372.55">0.2</text><text x="1446.98">0.6</text><text x="1521.41">-0.2</text><text x="1595.84">-1.1</text><text x="1670.27">-1.1</text><text x="1744.7">1.3</text><text x="1819.12">0.6</text><text x="1893.56">-0.1</text><text x="1967.99">1.1</text></g>
<g transform="translate(0,849.95)"><text x="377.95">-0.3</text><text x="453.25">-0.7</text><text x="528.55">-0.0</text><text x="603.85">0.1</text><text x="679.15">-0.0</text><text x="754.45">-0.3</text><text x="829.75">0.0</text><text x="905.05">0.3</text><text x="980.35">-0.4</text><text x="1055.65">1.5</text><text x="1130.95">0.8</text><text x="1206.25" class="w">2.7</text><text x="1298.12">0.1</text><text x="1372.55">0.3</text><text x="1446.98">1.8</text><text x="1521.41">1.4</text><text x="1595.84" class="w">2.6</text><text x="1670.27">0.0</text><text x="1744.7" class="w">2.3</text><text x="1819.12">-0.6</text><text x="1893.56">2.0</text><text x="1967.99">1.2</text></g>
<g transform="translate(0,885.44)"><text x="377.95">0.5</text><text x="453.25">-0.0</text><text x="528.55">0.4</text><text x="603.85">0.1</text><text x="679.15">0.4</text><text x="754.45">-0.2</text><text x="829.75">0.5</text><text x="905.05">0.1</text><text x="980.35">0.5</text><text x="1055.65">0.0</text><text x="1130.95">0.6</text><text x="1206.25">0.1</text><text x="1298.12">-0.1</text><text x="1372.55">0.1</text><text x="1446.98">0.2</text><text x="1521.41">-0.6</text><text x="1595.84">0.2</text><text x="1670.27">-0.1</text><text x="1744.7">0.1</text><text x="1819.12">-0.2</text><text x="1893.56">0.2</text><text x="1967.99">-0.3</text></g>
<g transform="translate(0,920.94)"><text x="377.95">0.5</text><text x="453.25">-0.2</text><text x="528.55">0.3</text><text x="603.85">0.4</text><text x="679.15">0.2</text><text x="754.45">-0.7</text><text x="829.75">0.7</text><text x="905.05">0.0</text><text x="980.35">0.2</text><text x="1055.65">-0.2</text><text x="1130.95">0.2</text><text x="1206.25">0.0</text><text x="1298.12">-0.0</text><text x="1372.55">0.2</text><text x="1446.98">0.4</text><text x="1521.41">-0.6</text><text x="1595.84">0.0</text><text x="1670.27">-0.2</text><text x="1744.7">-0.1</text><text x="1819.12">-0.3</text><text x="1893.56">0.2</text><text x="1967.99">-0.3</text></g>
<g transform="translate(0,956.44)"><text x="377.95">0.5</text><text x="453.25">-0.2</text><text x="528.55">0.3</text><text x="603.85">0.3</text><text x="679.15">0.2</text><text x="754.45">-0.9</text><text x="829.75">0.7</text><text x="905.05">-0.1</text><text x="980.35">0.3</text><text x="1055.65">-0.4</text><text x="1130.95">0.1</text><text x="1206.25">-0.3</text><text x="1298.12">-0.0</text><text x="1372.55">0.2</text><text x="1446.98">0.5</text><text x="1521.41">-0.8</text><text x="1595.84">-0.0</text><text x="1670.27">-0.3</text><text x="1744.7">-0.6</text><text x="1819.12">-0.6</text><text x="1893.56">0.5</text><text x="1967.99">-0.4</text></g>
<g transform="translate(0,991.94)"><text x="377.95">-1.0</text><text x="453.25">0.5</text><text x="528.55">1.6</text><text x="603.85" class="w">1.9</text><text x="679.15" class="w">2.5</text><text x="754.45">-1.6</text><text x="829.75">1.0</text><text x="905.05">0.9</text><text x="980.35">0.7</text><text x="1055.65">0.8</text><text x="1130.95">0.5</text><text x="1206.25">0.6</text><text x="1298.12">-0.6</text><text x="1372.55">0.1</text><text x="1446.98">2.0</text><text x="1521.41">-0.4</text><text x="1595.84">1.2</text><text x="1670.27">0.6</text><text x="1744.7">1.3</text><text x="1819.12">0.5</text><text x="1893.56">0.6</text><text x="1967.99">0.3</text></g>
<g transform="translate(0,1027.43)"><text x="377.95" class="w">2.3</text><text x="453.25">0.7</text><text x="528.55">0.7</text><text x="603.85">-0.2</text><text x="679.15">1.3</text><text x="754.45">-0.4</text><text x="829.75">0.7</text><text x="905.05">0.7</text><text x="980.35">0.6</text><text x="1055.65">0.6</text><text x="1130.95">0.4</text><text x="1206.25">0.5</text><text x="1298.12">-0.8</text><text x="1372.55">-0.2</text><text x="1446.98">1.4</text><text x="1521.41">0.3</text><text x="1595.84">1.0</text><text x="1670.27">0.4</text><text x="1744.7">1.1</text><text x="1819.12">0.4</text><text x="1893.56">0.6</text><text x="1967.99">0.2</text></g>
<g transform="translate(0,1062.93)"><text x="377.95">0.4</text><text x="453.25">0.3</text><text x="528.55">0.7</text><text x="603.85">0.3</text><text x="679.15">0.7</text><text x="754.45">-0.2</text><text x="829.75">0.4</text><text x="905.05">0.4</text><text x="980.35">0.6</text><text x="1055.65">0.5</text><text x="1130.95">0.3</text><text x="1206.25">0.3</text><text x="1298.12">-0.2</text><text x="1372.55">0.2</text><text x="1446.98">1.3</text><text x="1521.41">-0.3</text><text x="1595.84">0.8</text><text x="1670.27">0.5</text><text x="1744.7">0.4</text><text x="1819.12">-0.1</text><text x="1893.56">0.6</text><text x="1967.99">0.1</text></g>
<g transform="translate(0,1098.43)"><text x="377.95">-0.7</text><text x="453.25">-1.0</text><text x="528.55">-0.6</text><text x="603.85">-1.5</text><text x="679.15">-1.4</text><text x="754.45">-0.9</text><text x="829.75">0.0</text><text x="905.05">-0.5</text><text x="980.35">-0.1</text><text x="1055.65">-0.6</text><text x="1130.95">0.0</text><text x="1206.25">-0.3</text><text x="1298.12" class="w">2.8</text><text x="1372.55" class="w">3.1</text><text x="1446.98">-1.1</text><text x="1521.41" class="w">-1.7</text><text x="1595.84">-0.5</text><text x="1670.27">-1.1</text><text x="1744.7">-0.5</text><text x="1819.12">-0.5</text><text x="1893.56">-0.7</text><text x="1967.99">-0.8</text></g>
<g transform="translate(0,1133.92)"><text x="377.95">0.5</text><text x="453.25">-0.0</text><text x="528.55">0.4</text><text x="603.85">0.1</text><text x="679.15">0.4</text><text x="754.45">-0.2</text><text x="829.75">0.5</text><text x="905.05">0.1</text><text x="980.35">0.5</text><text x="1055.65">0.0</text><text x="1130.95">0.6</text><text x="1206.25">0.1</text><text x="1298.12">-0.1</text><text x="1372.55">0.1</text><text x="1446.98">0.2</text><text x="1521.41">-0.4</text><text x="1595.84">0.2</text><text x="1670.27">-0.1</text><text x="1744.7">0.1</text><text x="1819.12">-0.2</text><text x="1893.56">0.2</text><text x="1967.99">-0.3</text></g>
<g transform="translate(0,1169.42)"><text x="377.95">0.9</text><text x="453.25">0.2</text><text x="528.55">0.6</text><text x="603.85">0.2</text><text x="679.15">0.6</text><text x="754.45">-0.5</text><text x="829.75">0.4</text><text x="905.05">0.4</text><text x="980.35">0.5</text><text x="1055.65">0.2</text><text x="1130.95">0.9</text><text x="1206.25">0.5</text><text x="1298.12">-0.4</text><text x="1372.55">0.1</text><text x="1446.98">0.3</text><text x="1521.41">-0.6</text><text x="1595.84">0.7</text><text x="1670.27">-0.1</text><text x="1744.7">-0.3</text><text x="1819.12">-0.3</text><text x="1893.56">-0.0</text><text x="1967.99">-0.3</text></g>
<g transform="translate(0,1204.92)"><text x="377.95">0.5</text><text x="453.25">0.2</text><text x="528.55">0.5</text><text x="603.85">0.3</text><text x="679.15">0.4</text><text x="754.45">-0.1</text><text x="829.75">0.1</text><text x="905.05">0.4</text><text x="980.35">0.2</text><text x="1055.65">0.6</text><text x="1130.95">0.7</text><text x="1206.25">0.8</text><text x="1298.12">-0.4</text><text x="1372.55">0.1</text><text x="1446.98">0.0</text><text x="1521.41">-0.3</text><text x="1595.84">0.4</text><text x="1670.27">0.1</text><text x="1744.7">0.1</text><text x="1819.12">0.1</text><text x="1893.56">-0.3</text><text x="1967.99">-0.7</text></g>
<g transform="translate(0,1240.41)"><text x="377.95">0.3</text><text x="453.25">-0.1</text><text x="528.55">0.2</text><text x="603.85">0.1</text><text x="679.15">0.2</text><text x="754.45">-0.2</text><text x="829.75">0.2</text><text x="905.05">0.0</text><text x="980.35">0.2</text><text x="1055.65">-0.0</text><text x="1130.95">0.3</text><text x="1206.25">0.1</text><text x="1298.12">-0.3</text><text x="1372.55">0.0</text><text x="1446.98">0.2</text><text x="1521.41">-0.5</text><text x="1595.84">0.4</text><text x="1670.27">-0.0</text><text x="1744.7">0.5</text><text x="1819.12">-0.1</text><text x="1893.56">0.4</text><text x="1967.99">-0.2</text></g>
<g transform="translate(0,1275.91)"><text x="377.95">0.3</text><text x="453.25">-0.1</text><text x="528.55">0.2</text><text x="603.85">0.1</text><text x="679.15">0.2</text><text x="754.45">-0.1</text><text x="829.75">0.1</text><text x="905.05">-0.0</text><text x="980.35">0.2</text><text x="1055.65">-0.0</text><text x="1130.95">0.3</text><text x="1206.25">0.1</text><text x="1298.12">-0.3</text><text x="1372.55">0.0</text><text x="1446.98">0.2</text><text x="1521.41">-0.5</text><text x="1595.84">0.4</text><text x="1670.27">-0.0</text><text x="1744.7">0.5</text><text x="1819.12">-0.1</text><text x="1893.56">0.4</text><text x="1967.99">-0.2</text></g>
<g transform="translate(0,1311.41)"><text x="377.95">0.4</text><text x="453.25">0.2</text><text x="528.55">0.2</text><text x="603.85">-0.1</text><text x="679.15">0.6</text><text x="754.45">-0.6</text><text x="829.75">0.5</text><text x="905.05">0.7</text><text x="980.35">0.3</text><text x="1055.65">0.1</text><text x="1130.95">0.4</text><text x="1206.25">0.7</text><text x="1298.12">0.4</text><text x="1372.55">0.7</text><text x="1446.98">0.6</text><text x="1521.41">-0.3</text><text x="1595.84">0.7</text><text x="1670.27">0.3</text><text x="1744.7">0.7</text><text x="1819.12">0.7</text><text x="1893.56">0.3</text><text x="1967.99">0.0</text></g>
<g transform="translate(0,1346.91)"><text x="377.95">0.2</text><text x="453.25">-0.0</text><text x="528.55">0.2</text><text x="603.85">0.4</text><text x="679.15">0.0</text><text x="754.45">-0.4</text><text x="829.75">1.0</text><text x="905.05">-0.0</text><text x="980.35">0.0</text><text x="1055.65">-0.1</text><text x="1130.95">-0.1</text><text x="1206.25">-0.3</text><text x="1298.12">0.0</text><text x="1372.55">0.4</text><text x="1446.98">-0.9</text><text x="1521.41">-1.0</text><text x="1595.84">-0.5</text><text x="1670.27">0.0</text><text x="1744.7">-0.0</text><text x="1819.12">-0.3</text><text x="1893.56">-0.3</text><text x="1967.99">-0.4</text></g>
<g transform="translate(0,1382.4)"><text x="377.95">0.2</text><text x="453.25">0.2</text><text x="528.55">-0.1</text><text x="603.85">-0.8</text><text x="679.15">0.2</text><text x="754.45">0.1</text><text x="829.75">0.0</text><text x="905.05">0.1</text><text x="980.35">-0.2</text><text x="1055.65">0.1</text><text x="1130.95">0.1</text><text x="1206.25">0.2</text><text x="1298.12">-0.1</text><text x="1372.55">0.1</text><text x="1446.98">-0.2</text><text x="1521.41">-0.3</text><text x="1595.84">0.5</text><text x="1670.27">0.7</text><text x="1744.7">0.0</text><text x="1819.12">0.1</text><text x="1893.56">-0.0</text><text x="1967.99">-0.4</text></g>
<g transform="translate(0,1417.9)"><text x="377.95">-0.1</text><text x="453.25">-0.2</text><text x="528.55">-0.0</text><text x="603.85">0.3</text><text x="679.15">-0.5</text><text x="754.45">-1.1</text><text x="829.75">1.0</text><text x="905.05">-0.2</text><text x="980.35">-0.1</text><text x="1055.65">-0.2</text><text x="1130.95">-0.3</text><text x="1206.25">-0.5</text><text x="1298.12">0.3</text><text x="1372.55">0.3</text><text x="1446.98">-1.1</text><text x="1521.41">-1.1</text><text x="1595.84">-0.7</text><text x="1670.27">-0.5</text><text x="1744.7">-0.3</text><text x="1819.12">-0.4</text><text x="1893.56">-0.5</text><text x="1967.99">-0.7</text></g>
<g transform="translate(0,1453.4)"><text x="377.95">1.0</text><text x="453.25">0.1</text><text x="528.55">0.2</text><text x="603.85">-0.5</text><text x="679.15">1.1</text><text x="754.45">0.5</text><text x="829.75">1.1</text><text x="905.05">0.6</text><text x="980.35">1.1</text><text x="1055.65" class="w">2.3</text><text x="1130.95">0.4</text><text x="1206.25">0.6</text><text x="1298.12">-0.1</text><text x="1372.55">0.4</text><text x="1446.98">-0.2</text><text x="1521.41">-0.3</text><text x="1595.84">1.2</text><text x="1670.27">0.6</text><text x="1744.7">-0.2</text><text x="1819.12">-0.5</text><text x="1893.56">-0.5</text><text x="1967.99">-0.8</text></g>
<g transform="translate(0,1488.89)"><text x="377.95">-0.0</text><text x="453.25">-0.2</text><text x="528.55">0.0</text><text x="603.85">-0.1</text><text x="679.15">-0.2</text><text x="754.45">-0.1</text><text x="829.75">-0.1</text><text x="905.05">-0.8</text><text x="980.35">0.1</text><text x="1055.65">-0.0</text><text x="1130.95">-0.7</text><text x="1206.25">-0.3</text><text x="1298.12">-0.4</text><text x="1372.55">0.6</text><text x="1446.98">0.2</text><text x="1521.41">-1.2</text><text x="1595.84">-0.4</text><text x="1670.27">-0.2</text><text x="1744.7">0.0</text><text x="1819.12">-0.2</text><text x="1893.56">0.3</text><text x="1967.99">-1.2</text></g>
<g transform="translate(0,1524.39)"><text x="377.95">0.4</text><text x="453.25">0.0</text><text x="528.55">0.3</text><text x="603.85">0.0</text><text x="679.15">0.4</text><text x="754.45">0.0</text><text x="829.75">0.4</text><text x="905.05">0.1</text><text x="980.35">0.6</text><text x="1055.65">0.3</text><text x="1130.95">0.7</text><text x="1206.25">-0.1</text><text x="1298.12">-0.1</text><text x="1372.55">0.2</text><text x="1446.98">0.2</text><text x="1521.41">-0.2</text><text x="1595.84">0.4</text><text x="1670.27">-0.1</text><text x="1744.7">0.1</text><text x="1819.12">-0.2</text><text x="1893.56">0.4</text><text x="1967.99">-0.3</text></g>
<g transform="translate(0,1559.89)"><text x="377.95">0.5</text><text x="453.25">0.1</text><text x="528.55">0.4</text><text x="603.85">0.1</text><text x="679.15">0.4</text><text x="754.45">0.1</text><text x="829.75">0.4</text><text x="905.05">0.1</text><text x="980.35">0.4</text><text x="1055.65">-0.1</text><text x="1130.95">0.2</text><text x="1206.25">-0.2</text><text x="1298.12">-0.0</text><text x="1372.55">0.3</text><text x="1446.98">0.2</text><text x="1521.41">-0.2</text><text x="1595.84">0.2</text><text x="1670.27">-0.0</text><text x="1744.7">0.1</text><text x="1819.12">-0.2</text><text x="1893.56">0.1</text><text x="1967.99">-0.3</text></g>
<g transform="translate(0,1595.38)"><text x="377.95">0.2</text><text x="453.25">-0.2</text><text x="528.55">0.1</text><text x="603.85">-0.0</text><text x="679.15">0.2</text><text x="754.45">-1.2</text><text x="829.75">0.6</text><text x="905.05">0.0</text><text x="980.35">0.8</text><text x="1055.65">0.9</text><text x="1130.95">0.4</text><text x="1206.25">0.7</text><text x="1298.12">-0.1</text><text x="1372.55">0.0</text><text x="1446.98">0.2</text><text x="1521.41">-0.1</text><text x="1595.84">0.9</text><text x="1670.27">-0.2</text><text x="1744.7">1.8</text><text x="1819.12">0.2</text><text x="1893.56">0.6</text><text x="1967.99">0.4</text></g>
<g transform="translate(0,1630.88)"><text x="377.95">0.5</text><text x="453.25">0.1</text><text x="528.55">0.4</text><text x="603.85">0.0</text><text x="679.15">0.5</text><text x="754.45">-0.0</text><text x="829.75">0.5</text><text x="905.05">0.0</text><text x="980.35">0.9</text><text x="1055.65">0.4</text><text x="1130.95">1.0</text><text x="1206.25">-0.0</text><text x="1298.12">-0.1</text><text x="1372.55">0.2</text><text x="1446.98">0.2</text><text x="1521.41">-0.2</text><text x="1595.84">0.5</text><text x="1670.27">0.0</text><text x="1744.7">-0.1</text><text x="1819.12">-0.2</text><text x="1893.56">0.3</text><text x="1967.99">-0.7</text></g>
<g transform="translate(0,1666.38)"><text x="377.95">0.7</text><text x="453.25">0.2</text><text x="528.55">0.5</text><text x="603.85">-0.1</text><text x="679.15">0.8</text><text x="754.45">0.0</text><text x="829.75">0.7</text><text x="905.05">-0.0</text><text x="980.35" class="w">2.7</text><text x="1055.65">1.6</text><text x="1130.95" class="w">2.6</text><text x="1206.25">0.9</text><text x="1298.12">-0.1</text><text x="1372.55">0.4</text><text x="1446.98">0.0</text><text x="1521.41">-0.6</text><text x="1595.84">0.7</text><text x="1670.27">-0.7</text><text x="1744.7">-0.1</text><text x="1819.12">0.3</text><text x="1893.56">2.1</text><text x="1967.99">-0.2</text></g>
<g transform="translate(0,1701.88)"><text x="377.95">0.2</text><text x="453.25">0.0</text><text x="528.55">0.2</text><text x="603.85">0.1</text><text x="679.15">0.3</text><text x="754.45">0.2</text><text x="829.75">0.4</text><text x="905.05">0.5</text><text x="980.35">0.2</text><text x="1055.65">0.6</text><text x="1130.95">0.4</text><text x="1206.25">1.1</text><text x="1298.12">-0.0</text><text x="1372.55">0.3</text><text x="1446.98">0.1</text><text x="1521.41">-0.2</text><text x="1595.84">0.1</text><text x="1670.27">0.3</text><text x="1744.7">0.5</text><text x="1819.12">0.5</text><text x="1893.56">0.2</text><text x="1967.99">0.0</text></g>
<g transform="translate(0,1737.37)"><text x="377.95">0.5</text><text x="453.25">0.2</text><text x="528.55">0.6</text><text x="603.85">-0.1</text><text x="679.15">1.0</text><text x="754.45">0.2</text><text x="829.75">0.5</text><text x="905.05">0.4</text><text x="980.35">0.7</text><text x="1055.65">0.9</text><text x="1130.95">0.7</text><text x="1206.25">0.3</text><text x="1298.12">-0.1</text><text x="1372.55">0.4</text><text x="1446.98">0.4</text><text x="1521.41">-0.5</text><text x="1595.84">0.3</text><text x="1670.27">0.1</text><text x="1744.7">0.1</text><text x="1819.12">-0.4</text><text x="1893.56">-0.0</text><text x="1967.99">-0.4</text></g>
<g transform="translate(0,1772.87)"><text x="377.95">0.3</text><text x="453.25">0.2</text><text x="528.55">-0.4</text><text x="603.85">-0.2</text><text x="679.15">-0.6</text><text x="754.45">-0.1</text><text x="829.75">-0.2</text><text x="905.05">-0.1</text><text x="980.35">-0.6</text><text x="1055.65">0.1</text><text x="1130.95">-0.4</text><text x="1206.25">0.1</text><text x="1298.12">0.2</text><text x="1372.55">0.3</text><text x="1446.98">-0.3</text><text x="1521.41">0.2</text><text x="1595.84">-0.3</text><text x="1670.27">-0.1</text><text x="1744.7">-1.1</text><text x="1819.12">-0.5</text><text x="1893.56">-0.2</text><text x="1967.99">-0.2</text></g>
<g transform="translate(0,1808.37)"><text x="377.95">0.2</text><text x="453.25">-0.0</text><text x="528.55">-0.5</text><text x="603.85">-0.4</text><text x="679.15">-0.2</text><text x="754.45">-0.1</text><text x="829.75">0.2</text><text x="905.05">0.1</text><text x="980.35">-0.5</text><text x="1055.65">0.2</text><text x="1130.95">-0.2</text><text x="1206.25">0.3</text><text x="1298.12">0.5</text><text x="1372.55">0.4</text><text x="1446.98">-0.5</text><text x="1521.41">-0.1</text><text x="1595.84">-0.1</text><text x="1670.27">-0.0</text><text x="1744.7">-0.8</text><text x="1819.12">-0.2</text><text x="1893.56">-0.0</text><text x="1967.99">-0.0</text></g>
<g transform="translate(0,1843.86)"><text x="377.95">-0.5</text><text x="453.25">-0.2</text><text x="528.55">0.2</text><text x="603.85">-0.2</text><text x="679.15">-0.2</text><text x="754.45">1.0</text><text x="829.75">-0.2</text><text x="905.05">-0.4</text><text x="980.35">-0.5</text><text x="1055.65">-0.1</text><text x="1130.95">-0.7</text><text x="1206.25">0.0</text><text x="1298.12">-0.2</text><text x="1372.55">0.2</text><text x="1446.98">-0.3</text><text x="1521.41">0.4</text><text x="1595.84">-0.1</text><text x="1670.27">-0.3</text><text x="1744.7">-1.0</text><text x="1819.12">-0.4</text><text x="1893.56">-0.3</text><text x="1967.99">-0.5</text></g>
<g transform="translate(0,1879.36)"><text x="377.95">-1.0</text><text x="453.25">0.1</text><text x="528.55" class="w">2.4</text><text x="603.85">1.7</text><text x="679.15" class="w">1.9</text><text x="754.45">0.5</text><text x="829.75">-0.4</text><text x="905.05">-0.7</text><text x="980.35">-1.0</text><text x="1055.65">0.1</text><text x="1130.95">-1.2</text><text x="1206.25">0.0</text><text x="1298.12">-0.7</text><text x="1372.55">0.4</text><text x="1446.98">0.4</text><text x="1521.41">0.3</text><text x="1595.84">1.0</text><text x="1670.27">-0.6</text><text x="1744.7" class="w">-1.7</text><text x="1819.12">-1.1</text><text x="1893.56">-0.5</text><text x="1967.99">-0.1</text></g>
<g transform="translate(0,1914.86)"><text x="377.95" class="w">-1.8</text><text x="453.25">-0.7</text><text x="528.55">-0.5</text><text x="603.85">-0.6</text><text x="679.15">-0.4</text><text x="754.45">1.5</text><text x="829.75">-0.5</text><text x="905.05">-1.2</text><text x="980.35">-0.6</text><text x="1055.65">-0.2</text><text x="1130.95">-0.1</text><text x="1206.25">-0.2</text><text x="1298.12">0.2</text><text x="1372.55">-0.1</text><text x="1446.98">-0.5</text><text x="1521.41">0.7</text><text x="1595.84">0.1</text><text x="1670.27">-0.4</text><text x="1744.7">-1.4</text><text x="1819.12">-0.8</text><text x="1893.56">-0.5</text><text x="1967.99">-0.4</text></g>
<g transform="translate(0,1950.35)"><text x="377.95">-0.1</text><text x="453.25">0.0</text><text x="528.55">-0.0</text><text x="603.85">-0.0</text><text x="679.15">0.0</text><text x="754.45">0.0</text><text x="829.75">-0.0</text><text x="905.05">0.0</text><text x="980.35">-0.0</text><text x="1055.65">0.0</text><text x="1130.95">0.0</text><text x="1206.25">0.0</text><text x="1298.12">0.0</text><text x="1372.55">-0.0</text><text x="1446.98">0.0</text><text x="1521.41">0.0</text><text x="1595.84">-0.0</text><text x="1670.27">0.0</text><text x="1744.7">-0.0</text><text x="1819.12">-0.0</text><text x="1893.56">-0.0</text><text x="1967.99">-0.0</text></g>
<g transform="translate(0,1985.85)"><text x="377.95" class="w">-2.3</text><text x="453.25" class="w">1.8</text><text x="528.55">0.9</text><text x="603.85">-1.3</text><text x="679.15">-1.4</text><text x="754.45">0.2</text><text x="829.75">0.6</text><text x="905.05" class="w">2.2</text><text x="980.35" class="w">2.8</text><text x="1055.65">1.0</text><text x="1130.95">1.6</text><text x="1206.25">0.1</text><text x="1298.12">-1.0</text><text x="1372.55">0.6</text><text x="1446.98" class="w">-3.3</text><text x="1521.41">-1.0</text><text x="1595.84" class="w">3.4</text><text x="1670.27">0.5</text><text x="1744.7">-0.3</text><text x="1819.12">0.2</text><text x="1893.56">1.6</text><text x="1967.99">1.3</text></g>
<g transform="translate(0,2021.35)"><text x="377.95" class="w">-2.1</text><text x="453.25">-0.0</text><text x="528.55">-0.0</text><text x="603.85">-0.5</text><text x="679.15">0.1</text><text x="754.45">0.9</text><text x="829.75" class="w">-1.7</text><text x="905.05" class="w">-2.5</text><text x="980.35" class="w">-1.7</text><text x="1055.65" class="w">-1.6</text><text x="1130.95" class="w">-1.8</text><text x="1206.25">-0.4</text><text x="1298.12">-0.0</text><text x="1372.55">0.0</text><text x="1446.98">-0.2</text><text x="1521.41">0.4</text><text x="1595.84">0.4</text><text x="1670.27">1.8</text><text x="1744.7">-0.6</text><text x="1819.12">-0.4</text><text x="1893.56">-0.8</text><text x="1967.99">0.3</text></g>
<g transform="translate(0,2056.85)"><text x="377.95">-0.3</text><text x="453.25">-0.2</text><text x="528.55">0.5</text><text x="603.85">-0.4</text><text x="679.15">-0.3</text><text x="754.45">-0.5</text><text x="829.75">0.6</text><text x="905.05">0.5</text><text x="980.35">-0.1</text><text x="1055.65">0.7</text><text x="1130.95">-0.5</text><text x="1206.25">0.1</text><text x="1298.12">-0.3</text><text x="1372.55">-0.2</text><text x="1446.98">-0.8</text><text x="1521.41" class="w">-1.8</text><text x="1595.84">0.5</text><text x="1670.27">0.6</text><text x="1744.7">0.4</text><text x="1819.12">1.6</text><text x="1893.56">0.6</text><text x="1967.99">0.6</text></g>
<g transform="translate(0,2092.34)"><text x="377.95">-0.7</text><text x="453.25">-0.1</text><text x="528.55">-0.4</text><text x="603.85">-0.4</text><text x="679.15">-1.0</text><text x="754.45">-0.8</text><text x="829.75">-0.0</text><text x="905.05">0.3</text><text x="980.35">-0.5</text><text x="1055.65">-0.3</text><text x="1130.95">-0.4</text><text x="1206.25">-0.5</text><text x="1298.12">0.1</text><text x="1372.55">-0.4</text><text x="1446.98">-0.5</text><text x="1521.41">-1.1</text><text x="1595.84">0.0</text><text x="1670.27">0.6</text><text x="1744.7">0.1</text><text x="1819.12">1.4</text><text x="1893.56">0.7</text><text x="1967.99">-0.1</text></g>
<g transform="translate(0,2127.84)"><text x="377.95">-0.4</text><text x="453.25">-1.0</text><text x="528.55">-0.2</text><text x="603.85">-0.2</text><text x="679.15" class="w">-1.7</text><text x="754.45">-1.5</text><text x="829.75">-0.1</text><text x="905.05">0.8</text><text x="980.35">-0.8</text><text x="1055.65">-0.8</text><text x="1130.95">-0.5</text><text x="1206.25">-0.8</text><text x="1298.12">0.5</text><text x="1372.55">-0.7</text><text x="1446.98">-0.5</text><text x="1521.41">-1.1</text><text x="1595.84">-0.1</text><text x="1670.27">0.4</text><text x="1744.7">0.8</text><text x="1819.12" class="w">3.4</text><text x="1893.56">0.6</text><text x="1967.99">0.5</text></g>
<g transform="translate(0,2163.34)"><text x="377.95">-0.5</text><text x="453.25">-0.0</text><text x="528.55">1.0</text><text x="603.85">0.0</text><text x="679.15">-0.5</text><text x="754.45">-0.7</text><text x="829.75">-0.1</text><text x="905.05">-0.2</text><text x="980.35">-0.3</text><text x="1055.65">-0.0</text><text x="1130.95">-1.4</text><text x="1206.25">-1.2</text><text x="1298.12">0.7</text><text x="1372.55">0.0</text><text x="1446.98">-1.2</text><text x="1521.41" class="w">-1.7</text><text x="1595.84">0.1</text><text x="1670.27">0.2</text><text x="1744.7">0.3</text><text x="1819.12" class="w">2.4</text><text x="1893.56">0.7</text><text x="1967.99">0.5</text></g>
<g transform="translate(0,2198.83)"><text x="377.95">-0.4</text><text x="453.25">-0.6</text><text x="528.55">0.1</text><text x="603.85">-0.6</text><text x="679.15">-0.4</text><text x="754.45">-0.5</text><text x="829.75">-1.0</text><text x="905.05">-1.0</text><text x="980.35">-0.3</text><text x="1055.65">0.3</text><text x="1130.95" class="w">-1.9</text><text x="1206.25" class="w">-2.1</text><text x="1298.12">0.9</text><text x="1372.55">-0.5</text><text x="1446.98">-0.7</text><text x="1521.41">-1.1</text><text x="1595.84">0.2</text><text x="1670.27">0.2</text><text x="1744.7">0.8</text><text x="1819.12" class="w">3.1</text><text x="1893.56">1.2</text><text x="1967.99">0.8</text></g>
<g transform="translate(0,2234.33)"><text x="377.95">-1.2</text><text x="453.25">0.0</text><text x="528.55">-0.1</text><text x="603.85">-0.3</text><text x="679.15">-0.2</text><text x="754.45">0.4</text><text x="829.75">0.9</text><text x="905.05">-0.2</text><text x="980.35">-0.3</text><text x="1055.65">-0.2</text><text x="1130.95">-0.3</text><text x="1206.25">-0.1</text><text x="1298.12">-0.1</text><text x="1372.55">-0.4</text><text x="1446.98">0.3</text><text x="1521.41">-0.5</text><text x="1595.84">0.7</text><text x="1670.27">0.7</text><text x="1744.7">-0.9</text><text x="1819.12">-0.3</text><text x="1893.56">0.1</text><text x="1967.99">0.1</text></g>
<g transform="translate(0,2269.83)"><text x="377.95">-1.0</text><text x="453.25">0.0</text><text x="528.55">0.2</text><text x="603.85">0.1</text><text x="679.15">0.1</text><text x="754.45">-0.0</text><text x="829.75">0.0</text><text x="905.05">-0.0</text><text x="980.35">-0.1</text><text x="1055.65">0.0</text><text x="1130.95">0.2</text><text x="1206.25">0.2</text><text x="1298.12">-0.0</text><text x="1372.55">-0.0</text><text x="1446.98">0.0</text><text x="1521.41">0.0</text><text x="1595.84">0.1</text><text x="1670.27">0.0</text><text x="1744.7">-0.2</text><text x="1819.12">-0.1</text><text x="1893.56">0.1</text><text x="1967.99">0.2</text></g>
<g transform="translate(0,2305.32)"><text x="377.95" class="w">-2.6</text><text x="453.25">0.2</text><text x="528.55">-0.1</text><text x="603.85">-0.3</text><text x="679.15">0.1</text><text x="754.45">0.1</text><text x="829.75">-0.0</text><text x="905.05">0.1</text><text x="980.35">-0.1</text><text x="1055.65">0.5</text><text x="1130.95">0.2</text><text x="1206.25">0.1</text><text x="1298.12">0.3</text><text x="1372.55">-0.3</text><text x="1446.98">0.1</text><text x="1521.41">0.2</text><text x="1595.84">-0.2</text><text x="1670.27">0.1</text><text x="1744.7">-1.2</text><text x="1819.12">-0.3</text><text x="1893.56">-0.2</text><text x="1967.99">-0.0</text></g>
<g transform="translate(0,2340.82)"><text x="377.95" class="w">-3.0</text><text x="453.25">-0.0</text><text x="528.55">-0.3</text><text x="603.85">0.4</text><text x="679.15">0.1</text><text x="754.45">0.4</text><text x="829.75">0.3</text><text x="905.05">0.1</text><text x="980.35">-0.2</text><text x="1055.65">-0.2</text><text x="1130.95">0.1</text><text x="1206.25">-0.2</text><text x="1298.12">0.1</text><text x="1372.55">-0.2</text><text x="1446.98">0.3</text><text x="1521.41">0.5</text><text x="1595.84">-0.2</text><text x="1670.27">-0.1</text><text x="1744.7">-1.1</text><text x="1819.12">-1.0</text><text x="1893.56">-0.5</text><text x="1967.99">-0.3</text></g>
<g transform="translate(0,2376.32)"><text x="377.95">-0.4</text><text x="453.25">-0.0</text><text x="528.55">-0.5</text><text x="603.85">-0.4</text><text x="679.15">-0.0</text><text x="754.45">0.4</text><text x="829.75">0.8</text><text x="905.05">-0.8</text><text x="980.35">-0.8</text><text x="1055.65">-0.2</text><text x="1130.95">-0.2</text><text x="1206.25">-0.4</text><text x="1298.12">-0.3</text><text x="1372.55">0.1</text><text x="1446.98">0.3</text><text x="1521.41">-1.1</text><text x="1595.84">0.8</text><text x="1670.27">1.1</text><text x="1744.7">-0.3</text><text x="1819.12">0.7</text><text x="1893.56">0.3</text><text x="1967.99">0.4</text></g>
<g transform="translate(0,2411.82)"><text x="377.95">-1.5</text><text x="453.25">0.4</text><text x="528.55">-0.1</text><text x="603.85">0.0</text><text x="679.15">1.3</text><text x="754.45">0.1</text><text x="829.75">-0.3</text><text x="905.05">-0.5</text><text x="980.35">-0.7</text><text x="1055.65">-0.0</text><text x="1130.95">-0.5</text><text x="1206.25">0.2</text><text x="1298.12">-1.1</text><text x="1372.55">0.8</text><text x="1446.98">-0.4</text><text x="1521.41">-0.5</text><text x="1595.84">0.4</text><text x="1670.27">0.3</text><text x="1744.7">-0.6</text><text x="1819.12">0.1</text><text x="1893.56">-0.1</text><text x="1967.99">0.1</text></g>
<g transform="translate(0,2447.31)"><text x="377.95">-0.5</text><text x="453.25">0.8</text><text x="528.55">-0.1</text><text x="603.85">0.8</text><text x="679.15">-0.5</text><text x="754.45">-0.1</text><text x="829.75">0.2</text><text x="905.05">-0.0</text><text x="980.35">-0.0</text><text x="1055.65">0.2</text><text x="1130.95">-0.1</text><text x="1206.25">-0.0</text><text x="1298.12">0.1</text><text x="1372.55">0.8</text><text x="1446.98">-0.4</text><text x="1521.41">0.1</text><text x="1595.84">0.3</text><text x="1670.27">-0.3</text><text x="1744.7">-0.8</text><text x="1819.12">0.2</text><text x="1893.56">0.0</text><text x="1967.99">0.0</text></g>
<g transform="translate(0,2482.81)"><text x="377.95">-0.8</text><text x="453.25">0.1</text><text x="528.55">1.3</text><text x="603.85">1.1</text><text x="679.15">0.9</text><text x="754.45">0.9</text><text x="829.75">0.8</text><text x="905.05">-0.4</text><text x="980.35">-0.9</text><text x="1055.65">-0.3</text><text x="1130.95">0.5</text><text x="1206.25">0.0</text><text x="1298.12">-0.2</text><text x="1372.55">0.2</text><text x="1446.98">0.7</text><text x="1521.41">-0.2</text><text x="1595.84">0.3</text><text x="1670.27">-0.1</text><text x="1744.7" class="w">-1.5</text><text x="1819.12">-0.9</text><text x="1893.56">-0.3</text><text x="1967.99">-0.2</text></g>
<g transform="translate(0,2518.31)"><text x="377.95">-0.9</text><text x="453.25">-0.3</text><text x="528.55">-1.4</text><text x="603.85" class="w">1.8</text><text x="679.15">-0.2</text><text x="754.45">-0.2</text><text x="829.75">-0.9</text><text x="905.05">0.9</text><text x="980.35">-1.0</text><text x="1055.65">-0.8</text><text x="1130.95">-0.6</text><text x="1206.25">0.2</text><text x="1298.12">-0.4</text><text x="1372.55">-0.2</text><text x="1446.98">0.8</text><text x="1521.41">1.4</text><text x="1595.84">-1.2</text><text x="1670.27">-0.6</text><text x="1744.7">-0.9</text><text x="1819.12">-0.3</text><text x="1893.56">0.1</text><text x="1967.99">0.5</text></g>
<g transform="translate(0,2553.8)"><text x="377.95">0.3</text><text x="453.25">-0.1</text><text x="528.55" class="w">-2.2</text><text x="603.85">1.6</text><text x="679.15">0.8</text><text x="754.45">0.6</text><text x="829.75">-0.2</text><text x="905.05">0.2</text><text x="980.35">-0.5</text><text x="1055.65">-0.4</text><text x="1130.95">-0.2</text><text x="1206.25">0.2</text><text x="1298.12">-0.1</text><text x="1372.55">0.1</text><text x="1446.98">1.3</text><text x="1521.41">2.2</text><text x="1595.84">-0.4</text><text x="1670.27">-0.3</text><text x="1744.7">-0.1</text><text x="1819.12">0.3</text><text x="1893.56">-0.0</text><text x="1967.99">0.9</text></g>
<g transform="translate(0,2589.3)"><text x="377.95" class="w">-2.2</text><text x="453.25" class="w">-1.7</text><text x="528.55">-1.5</text><text x="603.85">1.5</text><text x="679.15">1.2</text><text x="754.45">0.4</text><text x="829.75">1.1</text><text x="905.05">-0.1</text><text x="980.35">-0.4</text><text x="1055.65">-1.0</text><text x="1130.95">-0.3</text><text x="1206.25">0.2</text><text x="1298.12">0.3</text><text x="1372.55">0.1</text><text x="1446.98">1.2</text><text x="1521.41">0.4</text><text x="1595.84">-0.9</text><text x="1670.27">0.2</text><text x="1744.7">-0.2</text><text x="1819.12">0.2</text><text x="1893.56">0.5</text><text x="1967.99">1.5</text></g>
<g transform="translate(0,2624.8)"><text x="377.95">-0.5</text><text x="453.25" class="w">2.6</text><text x="528.55">0.8</text><text x="603.85" class="w">2.0</text><text x="679.15" class="w">2.0</text><text x="754.45">0.2</text><text x="829.75">0.2</text><text x="905.05">0.4</text><text x="980.35">-0.3</text><text x="1055.65">-0.1</text><text x="1130.95">-0.1</text><text x="1206.25">0.4</text><text x="1298.12">-1.3</text><text x="1372.55">-0.3</text><text x="1446.98">0.7</text><text x="1521.41">0.1</text><text x="1595.84">0.3</text><text x="1670.27">-0.0</text><text x="1744.7">-0.4</text><text x="1819.12">-0.2</text><text x="1893.56">0.1</text><text x="1967.99">0.7</text></g>
<g transform="translate(0,2660.29)"><text x="377.95" class="w">-1.7</text><text x="453.25">-0.6</text><text x="528.55" class="w">-1.9</text><text x="603.85">1.5</text><text x="679.15">0.1</text><text x="754.45">-0.4</text><text x="829.75">0.4</text><text x="905.05">0.7</text><text x="980.35">-0.1</text><text x="1055.65">-0.3</text><text x="1130.95">-0.6</text><text x="1206.25">-0.1</text><text x="1298.12">-1.0</text><text x="1372.55">-0.4</text><text x="1446.98">0.4</text><text x="1521.41">0.8</text><text x="1595.84">0.3</text><text x="1670.27">0.1</text><text x="1744.7">-0.1</text><text x="1819.12">0.2</text><text x="1893.56">0.5</text><text x="1967.99">0.8</text></g>
<g transform="translate(0,2695.79)"><text x="377.95" class="w">-2.3</text><text x="453.25">0.0</text><text x="528.55">-0.2</text><text x="603.85">-0.0</text><text x="679.15">0.1</text><text x="754.45">0.7</text><text x="829.75">-0.4</text><text x="905.05">-0.9</text><text x="980.35">-0.5</text><text x="1055.65">-0.1</text><text x="1130.95">-0.6</text><text x="1206.25">-0.3</text><text x="1298.12">0.4</text><text x="1372.55">-0.1</text><text x="1446.98">-0.1</text><text x="1521.41">0.1</text><text x="1595.84">0.0</text><text x="1670.27">-0.1</text><text x="1744.7">-0.4</text><text x="1819.12">-0.0</text><text x="1893.56">-0.6</text><text x="1967.99">-0.6</text></g>
<g transform="translate(0,2731.29)"><text x="377.95">-0.9</text><text x="453.25">0.1</text><text x="528.55" class="w">-1.8</text><text x="603.85">-0.4</text><text x="679.15">-0.1</text><text x="754.45">0.2</text><text x="829.75">-0.1</text><text x="905.05">0.6</text><text x="980.35">-0.1</text><text x="1055.65">0.3</text><text x="1130.95">-0.2</text><text x="1206.25">0.3</text><text x="1298.12">0.5</text><text x="1372.55">-0.0</text><text x="1446.98">0.5</text><text x="1521.41">0.9</text><text x="1595.84">0.2</text><text x="1670.27">-0.6</text><text x="1744.7">-1.2</text><text x="1819.12">-0.1</text><text x="1893.56">-0.5</text><text x="1967.99">-0.8</text></g>
<g transform="translate(0,2766.79)"><text x="377.95" class="w">-2.0</text><text x="453.25">-0.0</text><text x="528.55">-0.0</text><text x="603.85">-0.5</text><text x="679.15">0.1</text><text x="754.45">0.9</text><text x="829.75" class="w">-1.8</text><text x="905.05" class="w">-2.5</text><text x="980.35" class="w">-1.9</text><text x="1055.65" class="w">-1.8</text><text x="1130.95" class="w">-1.9</text><text x="1206.25">-0.4</text><text x="1298.12">-0.0</text><text x="1372.55">0.0</text><text x="1446.98">-0.2</text><text x="1521.41">0.4</text><text x="1595.84">0.4</text><text x="1670.27">1.9</text><text x="1744.7">-0.6</text><text x="1819.12">-0.4</text><text x="1893.56">-0.9</text><text x="1967.99">0.3</text></g>
<g transform="translate(0,2802.28)"><text x="377.95" class="w">-2.5</text><text x="453.25">0.1</text><text x="528.55">0.7</text><text x="603.85">0.5</text><text x="679.15">-0.3</text><text x="754.45">-0.0</text><text x="829.75">-0.1</text><text x="905.05">-0.3</text><text x="980.35">-0.6</text><text x="1055.65">0.0</text><text x="1130.95">-0.4</text><text x="1206.25">-0.0</text><text x="1298.12">0.6</text><text x="1372.55">0.5</text><text x="1446.98">0.5</text><text x="1521.41">0.3</text><text x="1595.84">-0.3</text><text x="1670.27">0.3</text><text x="1744.7">-0.8</text><text x="1819.12">-1.1</text><text x="1893.56">-0.7</text><text x="1967.99">-0.8</text></g>
<g transform="translate(0,2837.78)"><text x="377.95" class="w">-2.3</text><text x="453.25">0.3</text><text x="528.55">-0.1</text><text x="603.85">-0.1</text><text x="679.15">-0.3</text><text x="754.45">0.4</text><text x="829.75">0.0</text><text x="905.05">-0.4</text><text x="980.35">-0.5</text><text x="1055.65">-0.1</text><text x="1130.95">-0.5</text><text x="1206.25">-0.5</text><text x="1298.12">0.5</text><text x="1372.55">-0.1</text><text x="1446.98">0.2</text><text x="1521.41">0.4</text><text x="1595.84">-0.8</text><text x="1670.27">0.2</text><text x="1744.7">-1.2</text><text x="1819.12">-1.0</text><text x="1893.56">-1.1</text><text x="1967.99">-0.5</text></g>
<g transform="translate(0,2873.28)"><text x="377.95">-1.5</text><text x="453.25">-0.5</text><text x="528.55">-0.5</text><text x="603.85">0.2</text><text x="679.15">0.9</text><text x="754.45">0.5</text><text x="829.75">1.0</text><text x="905.05">1.0</text><text x="980.35">0.2</text><text x="1055.65">-0.2</text><text x="1130.95">-0.4</text><text x="1206.25">-0.7</text><text x="1298.12">-1.1</text><text x="1372.55">-0.3</text><text x="1446.98">0.2</text><text x="1521.41">1.6</text><text x="1595.84">-0.2</text><text x="1670.27">-0.5</text><text x="1744.7">0.2</text><text x="1819.12">0.4</text><text x="1893.56">0.6</text><text x="1967.99">0.5</text></g>
<g transform="translate(0,2908.77)"><text x="377.95" class="w">-2.7</text><text x="453.25">-0.8</text><text x="528.55">-0.4</text><text x="603.85">-0.1</text><text x="679.15">0.3</text><text x="754.45">1.4</text><text x="829.75">0.8</text><text x="905.05">-0.1</text><text x="980.35">1.0</text><text x="1055.65">0.1</text><text x="1130.95">-0.5</text><text x="1206.25">-0.5</text><text x="1298.12">-1.1</text><text x="1372.55">-0.3</text><text x="1446.98">0.7</text><text x="1521.41">0.3</text><text x="1595.84">-1.0</text><text x="1670.27">0.5</text><text x="1744.7">0.2</text><text x="1819.12">0.6</text><text x="1893.56">0.4</text><text x="1967.99">0.6</text></g>
<g transform="translate(0,2944.27)"><text x="377.95">-0.1</text><text x="453.25">0.1</text><text x="528.55">0.0</text><text x="603.85">0.4</text><text x="679.15">0.1</text><text x="754.45">0.1</text><text x="829.75">0.4</text><text x="905.05">0.0</text><text x="980.35">0.2</text><text x="1055.65">0.5</text><text x="1130.95">0.2</text><text x="1206.25">0.4</text><text x="1298.12">-0.7</text><text x="1372.55">0.0</text><text x="1446.98">0.1</text><text x="1521.41">-0.3</text><text x="1595.84">-0.2</text><text x="1670.27">-0.1</text><text x="1744.7">-0.3</text><text x="1819.12">-0.1</text><text x="1893.56">0.3</text><text x="1967.99">-0.0</text></g>
</g>
<rect x="341.3" y="44.3" width="901.3" height="2909.55" fill="none" stroke="#404040" stroke-width="2.4"/>
<rect x="1262" y="44.3" width="742.1" height="2909.55" fill="none" stroke="#404040" stroke-width="2.4"/>
<g class="yl">
<text x="334.96" y="71.67" style="letter-spacing:1.36px">Neoxanthin</text>
<text x="334.78" y="107.16" style="letter-spacing:1.18px">Violaxanthin</text>
<text x="334.3" y="142.66">Zeaxanthin</text>
<text x="335" y="178.16" style="letter-spacing:1.4px">Lutein</text>
<text x="334.3" y="213.66">β-Carotene</text>
<text x="334.3" y="249.15">Chlorophyll a</text>
<text x="334.6" y="284.65" style="letter-spacing:1px">Chlorophyll b</text>
<text x="334.3" y="320.15">Pheophytin</text>
<text x="334.3" y="355.64">Chl a/Chl b</text>
<text x="334.3" y="391.14">CAR/Chl</text>
<text x="334.3" y="426.64">Q-3-O-glc</text>
<text x="334.3" y="462.13">Q-3-O-gal</text>
<text x="334.3" y="497.63">Q-3-O-gln</text>
<text x="334.3" y="533.13">L-3-O-glc</text>
<text x="334.3" y="568.63">M-3-O-glc</text>
<text x="334.3" y="604.12">M-3-O-gal</text>
<text x="334.3" y="639.62">M-3-O-gln</text>
<text x="334.3" y="675.12">I-3-O-glc</text>
<text x="334.3" y="710.61">I-3-O-gln</text>
<text x="334.3" y="746.11">K-3-O-glc</text>
<text x="334.3" y="781.61">K-3-O-gal</text>
<text x="334.3" y="817.1">K-3-O-gln</text>
<text x="334.3" y="852.6">Z-Resveratrol</text>
<text x="334.3" y="888.1">E-Resveratrol</text>
<text x="334.3" y="923.6">Trimer</text>
<text x="334.3" y="959.09">Dihydroquercetin</text>
<text x="334.3" y="994.59">Astilbin</text>
<text x="334.3" y="1030.09">Rutin</text>
<text x="334.3" y="1065.58">Z-Piceid</text>
<text x="334.3" y="1101.08">Naringenin chalcone</text>
<text x="334.3" y="1136.58">Procyanidin Dimer B1</text>
<text x="334.3" y="1172.07">(+)-Gallocatechin</text>
<text x="334.3" y="1207.57">(-)-Epigallocatechin</text>
<text x="334.3" y="1243.07">(+)-Catechin</text>
<text x="334.3" y="1278.57">(-)-Epicatechin</text>
<text x="334.3" y="1314.06">(-)-Epicatechin gallate</text>
<text x="334.3" y="1349.56">Tyrosine</text>
<text x="334.3" y="1385.06">Tryptophan</text>
<text x="334.3" y="1420.55">Phenylalanine</text>
<text x="334.72" y="1456.05" style="letter-spacing:1.12px">Glutathione reduced</text>
<text x="334.65" y="1491.55" style="letter-spacing:1.05px">Glutathione oxidised</text>
<text x="334.3" y="1527.04">Z-Caftaric acid</text>
<text x="334.3" y="1562.54">E-Caftaric acid</text>
<text x="333.8" y="1598.04" style="letter-spacing:0.2px">Z- and E-Coutaric acid</text>
<text x="334.3" y="1633.54">p-Coumaric acid</text>
<text x="334.3" y="1669.03">Z-Fertaric acid</text>
<text x="334.3" y="1704.53">E-Fertaric acid</text>
<text x="334.3" y="1740.03">Syringic acid</text>
<text x="334.3" y="1775.52">Hexanal</text>
<text x="334.3" y="1811.02">E-2-Hexenal</text>
<text x="334.3" y="1846.52">1-Heptanal</text>
<text x="334.3" y="1882.01">E-2-Octenal</text>
<text x="334.3" y="1917.51">Nonanal</text>
<text x="334.3" y="1953.01">E-2-Nonenal</text>
<text x="334.3" y="1988.51">Benzaldehyde</text>
<text x="334.3" y="2024">Furfural</text>
<text x="334.3" y="2059.5">1,4-Cineole</text>
<text x="334.3" y="2095">α-Terpinene</text>
<text x="334.3" y="2130.49">γ-Terpinene</text>
<text x="334.55" y="2165.99" style="letter-spacing:0.95px">Terpinen-4-ol</text>
<text x="334.3" y="2201.49">α-Terpineol</text>
<text x="334.3" y="2236.98">β-Citronellol</text>
<text x="334.3" y="2272.48">Linalool</text>
<text x="334.3" y="2307.98">Nerol</text>
<text x="334.3" y="2343.48">Geraniol</text>
<text x="334.3" y="2378.97">β-Damascenone</text>
<text x="334.3" y="2414.47">α-Ionone</text>
<text x="334.3" y="2449.97">β-Ionone</text>
<text x="334.3" y="2485.46">1-Pentanol</text>
<text x="334.3" y="2520.96">1-Hexanol</text>
<text x="334.3" y="2556.46">E-2-Hexenol</text>
<text x="334.3" y="2591.95">Z-2-Hexenol</text>
<text x="334.3" y="2627.45">E-3-Hexenol</text>
<text x="334.3" y="2662.95">Z-3-Hexenol</text>
<text x="334.3" y="2698.45">2-Ethyl-1-hexanol</text>
<text x="334.3" y="2733.94">1-Heptanol</text>
<text x="334.3" y="2769.44">1-Octanol</text>
<text x="334.3" y="2804.94">Benzyl alcohol</text>
<text x="334.3" y="2840.43">Phenylethanol</text>
<text x="334.3" y="2875.93">Hexyl acetate</text>
<text x="334.3" y="2911.43">Z-3-Hexenyl acetate</text>
<text x="334.3" y="2946.92">Hexanoic acid</text>
</g>
<g class="xl">
<text transform="translate(396.95,2983) rotate(-45) scale(0.9,1)">ED 42</text>
<text transform="translate(472.25,2983) rotate(-45) scale(0.9,1)">LD 42</text>
<text transform="translate(547.55,2983) rotate(-45) scale(0.9,1)">ED 49</text>
<text transform="translate(622.85,2983) rotate(-45) scale(0.9,1)">LD 49</text>
<text transform="translate(698.15,2983) rotate(-45) scale(0.9,1)">ED 56</text>
<text transform="translate(773.45,2983) rotate(-45) scale(0.9,1)">LD 56</text>
<text transform="translate(848.75,2983) rotate(-45) scale(0.9,1)">ÉD 69</text>
<text transform="translate(924.05,2983) rotate(-45) scale(0.9,1)">LD 69</text>
<text transform="translate(999.35,2983) rotate(-45) scale(0.9,1)">ED 84</text>
<text transform="translate(1074.65,2983) rotate(-45) scale(0.9,1)">LD 84</text>
<text transform="translate(1149.95,2983) rotate(-45) scale(0.9,1)">ED 96</text>
<text transform="translate(1225.25,2983) rotate(-45) scale(0.9,1)">LD 96</text>
<text transform="translate(1317.12,2983) rotate(-45) scale(0.9,1)">ED 17</text>
<text transform="translate(1391.55,2983) rotate(-45) scale(0.9,1)">LD 17</text>
<text transform="translate(1465.98,2983) rotate(-45) scale(0.9,1)">ED 50</text>
<text transform="translate(1540.41,2983) rotate(-45) scale(0.9,1)">LD 50</text>
<text transform="translate(1614.84,2983) rotate(-45) scale(0.9,1)">ED 57</text>
<text transform="translate(1689.27,2983) rotate(-45) scale(0.9,1)">LD 57</text>
<text transform="translate(1763.7,2983) rotate(-45) scale(0.9,1)">ED 64</text>
<text transform="translate(1838.12,2983) rotate(-45) scale(0.9,1)">LD 64</text>
<text transform="translate(1912.56,2983) rotate(-45) scale(0.9,1)">ED 77</text>
<text transform="translate(1986.99,2983) rotate(-45) scale(0.9,1)">LD 77</text>
</g>
<defs><linearGradient id="jet" x1="0" y1="1" x2="0" y2="0"><stop offset="0" stop-color="#000080"/><stop offset="0.02" stop-color="#00008f"/><stop offset="0.03" stop-color="#00009f"/><stop offset="0.05" stop-color="#0000af"/><stop offset="0.06" stop-color="#0000bf"/><stop offset="0.08" stop-color="#0000cf"/><stop offset="0.09" stop-color="#0000df"/><stop offset="0.11" stop-color="#0000ef"/><stop offset="0.12" stop-color="#0000ff"/><stop offset="0.14" stop-color="#0010ff"/><stop offset="0.16" stop-color="#0020ff"/><stop offset="0.17" stop-color="#0030ff"/><stop offset="0.19" stop-color="#0040ff"/><stop offset="0.2" stop-color="#0050ff"/><stop offset="0.22" stop-color="#0060ff"/><stop offset="0.23" stop-color="#0070ff"/><stop offset="0.25" stop-color="#0080ff"/><stop offset="0.27" stop-color="#008fff"/><stop offset="0.28" stop-color="#009fff"/><stop offset="0.3" stop-color="#00afff"/><stop offset="0.31" stop-color="#00bfff"/><stop offset="0.33" stop-color="#00cfff"/><stop offset="0.34" stop-color="#00dfff"/><stop offset="0.36" stop-color="#00efff"/><stop offset="0.38" stop-color="#00ffff"/><stop offset="0.39" stop-color="#10ffef"/><stop offset="0.41" stop-color="#20ffdf"/><stop offset="0.42" stop-color="#30ffcf"/><stop offset="0.44" stop-color="#40ffbf"/><stop offset="0.45" stop-color="#50ffaf"/><stop offset="0.47" stop-color="#60ff9f"/><stop offset="0.48" stop-color="#70ff8f"/><stop offset="0.5" stop-color="#80ff80"/><stop offset="0.52" stop-color="#8fff70"/><stop offset="0.53" stop-color="#9fff60"/><stop offset="0.55" stop-color="#afff50"/><stop offset="0.56" stop-color="#bfff40"/><stop offset="0.58" stop-color="#cfff30"/><stop offset="0.59" stop-color="#dfff20"/><stop offset="0.61" stop-color="#efff10"/><stop offset="0.62" stop-color="#ffff00"/><stop offset="0.64" stop-color="#ffef00"/><stop offset="0.66" stop-color="#ffdf00"/><stop offset="0.67" stop-color="#ffcf00"/><stop offset="0.69" stop-color="#ffbf00"/><stop offset="0.7" stop-color="#ffaf00"/><stop offset="0.72" stop-color="#ff9f00"/><stop offset="0.73" stop-color="#ff8f00"/><stop offset="0.75" stop-color="#ff8000"/><stop offset="0.77" stop-color="#ff7000"/><stop offset="0.78" stop-color="#ff6000"/><stop offset="0.8" stop-color="#ff5000"/><stop offset="0.81" stop-color="#ff4000"/><stop offset="0.83" stop-color="#ff3000"/><stop offset="0.84" stop-color="#ff2000"/><stop offset="0.86" stop-color="#ff1000"/><stop offset="0.88" stop-color="#ff0000"/><stop offset="0.89" stop-color="#ef0000"/><stop offset="0.91" stop-color="#df0000"/><stop offset="0.92" stop-color="#cf0000"/><stop offset="0.94" stop-color="#bf0000"/><stop offset="0.95" stop-color="#af0000"/><stop offset="0.97" stop-color="#9f0000"/><stop offset="0.98" stop-color="#8f0000"/><stop offset="1" stop-color="#800000"/></linearGradient></defs>
<rect x="2035.8" y="43.8" width="69" height="2910.3" fill="url(#jet)" stroke="#111" stroke-width="2.2"/>
<g class="tl">
<line x1="2075" x2="2104.5" y1="376.4" y2="376.4" stroke="#2a2a30" stroke-width="2"/><text x="2119.9" y="385">3</text>
<line x1="2075" x2="2104.5" y1="769.3" y2="769.3" stroke="#2a2a30" stroke-width="2"/><text x="2119.9" y="777.9">2</text>
<line x1="2075" x2="2104.5" y1="1162.2" y2="1162.2" stroke="#2a2a30" stroke-width="2"/><text x="2119.9" y="1170.8">1</text>
<line x1="2075" x2="2104.5" y1="1555.1" y2="1555.1" stroke="#2a2a30" stroke-width="2"/><text x="2119.9" y="1563.7">0</text>
<line x1="2075" x2="2104.5" y1="1948" y2="1948" stroke="#2a2a30" stroke-width="2"/><text x="2119.9" y="1956.6">-1</text>
<line x1="2075" x2="2104.5" y1="2340.9" y2="2340.9" stroke="#2a2a30" stroke-width="2"/><text x="2119.9" y="2349.5">-2</text>
<line x1="2075" x2="2104.5" y1="2733.8" y2="2733.8" stroke="#2a2a30" stroke-width="2"/><text x="2119.9" y="2742.4">-3</text>
</g>
<rect x="1204.4" y="2777.17" width="56.8" height="35.5" fill="#f7f7f7"/>
<g fill="#2a2a2a"><rect x="1216" y="2788.6" width="4.4" height="18.9" rx="1.3"/><rect x="1227.1" y="2795.3" width="4.2" height="12.2" rx="1.3"/><rect x="1238.2" y="2781.9" width="4.3" height="25.6" rx="1.3"/></g>
</svg>
</body></html>
